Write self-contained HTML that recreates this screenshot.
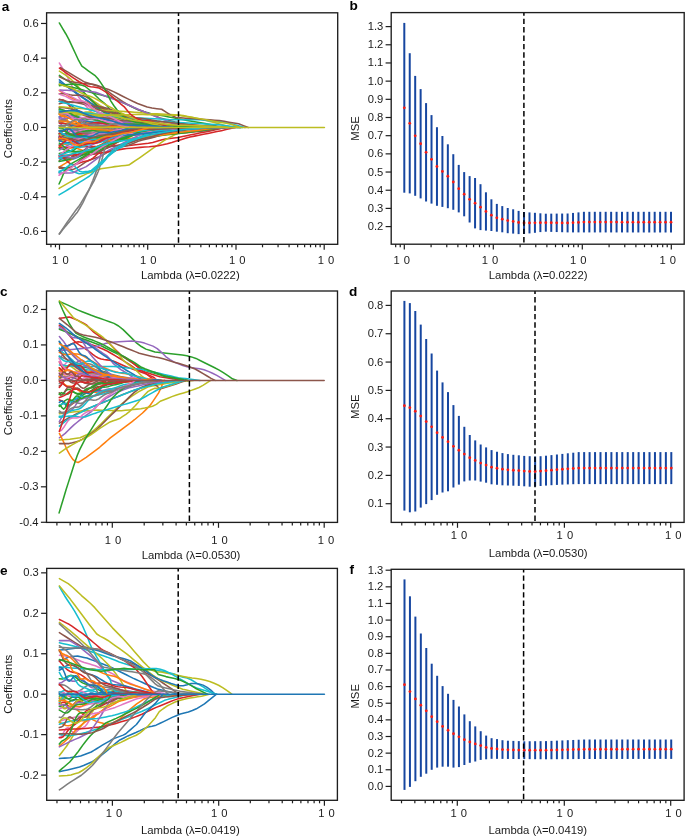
<!DOCTYPE html>
<html><head><meta charset="utf-8"><title>LASSO</title>
<style>
html,body{margin:0;padding:0;background:#fff;width:685px;height:837px;overflow:hidden}
svg{display:block;will-change:transform}
.t{font-family:"Liberation Sans", sans-serif;font-size:11.2px;fill:#1a1a1a}
.t2{font-family:"Liberation Sans", sans-serif;font-size:11.35px;fill:#1a1a1a}
.lt{font-family:"Liberation Sans", sans-serif;font-size:13.6px;font-weight:bold;fill:#000}
text{opacity:0.995}
</style></head><body>
<svg width="685" height="837" viewBox="0 0 685 837">
<defs>
<clipPath id="cla"><rect x="46.6" y="12.8" width="291.1" height="231.5"/></clipPath>
<clipPath id="clb"><rect x="391.2" y="12.6" width="293" height="231.6"/></clipPath>
<clipPath id="clc"><rect x="46.5" y="291" width="291" height="231.4"/></clipPath>
<clipPath id="cld"><rect x="391.2" y="291" width="292.9" height="231.4"/></clipPath>
<clipPath id="cle"><rect x="46.7" y="568.4" width="290.7" height="231.9"/></clipPath>
<clipPath id="clf"><rect x="391.2" y="569.3" width="292.9" height="231"/></clipPath>
</defs>
<rect width="685" height="837" fill="#fff"/>
<g fill="none" stroke-width="1.55" stroke-linejoin="round" stroke-linecap="round" clip-path="url(#cla)">
<path d="M59.3 117.59 L61.43 116.65 L63.55 115.13 L65.68 114.35 L67.8 114.83 L69.93 116.03 L72.06 116.96 L74.18 117.11 L76.31 116.83 L78.43 116.98 L80.56 118.16 L82.69 120.21 L84.81 122.3 L86.94 123.64 L89.06 124.03 L91.19 123.89 L93.32 123.83 L95.44 124.14 L97.57 124.63 L99.69 124.88 L101.82 124.68 L103.95 124.16 L106.07 123.73 L108.2 123.69 L110.32 124.07 L112.45 124.6 L114.58 125.03 L116.7 125.27 L118.83 125.4 L120.95 125.58 L123.08 125.85 L125.21 126.15 L127.33 126.4 L129.46 126.58 L131.58 126.8 L133.71 127.45" stroke="#1f77b4"/>
<path d="M59.3 146.04 L61.88 147.23 L64.47 148.06 L67.05 148.33 L69.64 148.16 L72.22 147.91 L74.8 147.94 L77.39 148.47 L79.97 149.42 L82.56 150.33 L85.14 150.97 L87.73 151.02 L90.31 150.38 L92.89 149.16 L95.48 147.64 L98.06 146.11 L100.65 144.77 L103.23 143.68 L105.81 142.71 L108.4 141.71 L110.98 140.57 L113.57 139.27 L116.15 137.89 L118.73 136.55 L121.32 135.42 L123.9 134.53 L126.49 133.81 L129.07 133.16 L131.65 132.52 L134.24 131.85 L136.82 131.13 L139.41 130.41 L141.99 129.73 L144.58 129.09 L147.16 128.46 L149.74 127.45" stroke="#ff7f0e"/>
<path d="M59.3 121.13 L63.14 120.33 L66.98 118.81 L70.82 117.06 L74.67 115.59 L78.51 114.69 L82.35 114.45 L86.19 114.59 L90.03 114.74 L93.87 114.66 L97.71 114.33 L101.56 113.94 L105.4 113.72 L109.24 113.92 L113.08 114.62 L116.92 115.74 L120.76 117.05 L124.61 118.24 L128.45 119.34 L132.29 120.32 L136.13 121.13 L139.97 121.89 L143.81 122.53 L147.65 123.23 L151.5 123.94 L155.34 124.61 L159.18 125.18 L163.02 125.59 L166.86 125.9 L170.7 126.15 L174.54 126.38 L178.39 126.61 L182.23 126.83 L186.07 127.04 L189.91 127.24 L193.75 127.45" stroke="#2ca02c"/>
<path d="M59.3 133.36 L63.86 133.98 L68.42 134.89 L72.98 134.51 L77.53 132.51 L82.09 130.02 L86.65 128.48 L91.21 128.24 L95.77 128.42 L100.33 128.04 L104.88 127.03 L109.44 126.11 L114 126.01 L118.56 126.68 L123.12 127.49 L127.68 127.85 L132.23 127.78 L136.79 127.68 L141.35 127.86 L145.91 128.24 L150.47 128.52 L155.03 128.49 L159.58 128.25 L164.14 127.99 L168.7 127.88 L173.26 127.88 L177.82 127.87 L182.38 127.78 L186.93 127.66 L191.49 127.59 L196.05 127.59 L200.61 127.62 L205.17 127.62 L209.73 127.58 L214.28 127.53 L218.84 127.45" stroke="#d62728"/>
<path d="M59.3 137.71 L61.25 136.18 L63.2 134.41 L65.14 133.66 L67.09 134.33 L69.04 135.67 L70.99 136.56 L72.94 136.41 L74.89 135.61 L76.83 135.08 L78.78 135.48 L80.73 136.63 L82.68 137.73 L84.63 138.09 L86.57 137.64 L88.52 136.91 L90.47 136.51 L92.42 136.64 L94.37 136.95 L96.32 136.92 L98.26 136.31 L100.21 135.33 L102.16 134.4 L104.11 133.8 L106.06 133.47 L108.01 133.13 L109.95 132.58 L111.9 131.82 L113.85 131.06 L115.8 130.46 L117.75 130.06 L119.69 129.73 L121.64 129.36 L123.59 128.92 L125.54 128.42 L127.49 127.45" stroke="#9467bd"/>
<path d="M59.3 157.03 L63.26 157.27 L67.21 157.74 L71.17 157.29 L75.13 155.71 L79.09 153.73 L83.04 151.98 L87 150.93 L90.96 150.14 L94.92 148.84 L98.87 146.65 L102.83 143.98 L106.79 141.46 L110.74 139.59 L114.7 138.42 L118.66 137.55 L122.62 136.69 L126.57 135.65 L130.53 134.57 L134.49 133.76 L138.45 133.31 L142.4 133.09 L146.36 132.86 L150.32 132.42 L154.28 131.81 L158.23 131.17 L162.19 130.6 L166.15 130.14 L170.1 129.74 L174.06 129.33 L178.02 128.91 L181.98 128.56 L185.93 128.27 L189.89 128.03 L193.85 127.82 L197.81 127.45" stroke="#8c564b"/>
<path d="M59.05 147.52 L63.31 147.36 L67.56 147.21 L71.82 147.06 L76.07 146.9 L80.33 146.77 L84.58 146.68 L88.84 146.6 L93.09 146.51 L97.35 146.43 L101.6 146.34 L105.86 146.29 L110.11 146.23 L114.37 146.17 L118.62 146.12 L122.88 146.06 L127.13 145.61 L131.39 145.15 L135.64 144.69 L139.9 144.23 L144.15 143.77 L148.41 143.31 L152.66 142.4 L156.92 141.23 L161.17 140.06 L165.43 138.95 L169.68 138.46 L173.94 137.97 L178.19 137.46 L182.45 136.58 L186.7 135.71 L190.96 134.83 L195.21 133.96 L199.47 133.11 L203.72 132.26 L207.98 131.4 L212.23 130.47 L216.49 129.46 L220.74 128.46 L225 127.45" stroke="#d62728"/>
<path d="M59.3 134.36 L62.32 135.4 L65.34 134.57 L68.36 132.45 L71.38 130.36 L74.4 129.33 L77.42 129.35 L80.44 129.64 L83.47 129.41 L86.49 128.59 L89.51 127.82 L92.53 127.81 L95.55 128.72 L98.57 130.02 L101.59 130.98 L104.61 131.2 L107.63 130.84 L110.65 130.4 L113.67 130.22 L116.69 130.29 L119.71 130.3 L122.73 130.02 L125.75 129.47 L128.78 128.9 L131.8 128.59 L134.82 128.58 L137.84 128.73 L140.86 128.83 L143.88 128.8 L146.9 128.69 L149.92 128.57 L152.94 128.49 L155.96 128.41 L158.98 128.26 L162 128.01 L165.02 127.45" stroke="#7f7f7f"/>
<path d="M59.3 140.08 L62.55 140.8 L65.81 140.02 L69.06 138.98 L72.32 138.63 L75.57 138.93 L78.83 139.01 L82.08 138.07 L85.34 136.22 L88.59 134.35 L91.85 133.36 L95.1 133.48 L98.36 134.19 L101.61 134.72 L104.87 134.68 L108.12 134.24 L111.38 133.85 L114.63 133.79 L117.89 133.92 L121.14 133.85 L124.4 133.37 L127.65 132.49 L130.91 131.56 L134.16 130.87 L137.42 130.49 L140.67 130.26 L143.93 130.01 L147.18 129.68 L150.44 129.34 L153.69 129.08 L156.95 128.91 L160.2 128.76 L163.46 128.56 L166.71 128.29 L169.97 127.98 L173.22 127.45" stroke="#bcbd22"/>
<path d="M59.3 135.07 L62.73 134.03 L66.17 134.07 L69.6 134.82 L73.04 135.44 L76.47 135.27 L79.9 134.33 L83.34 133.14 L86.77 132.51 L90.21 132.75 L93.64 133.61 L97.07 134.48 L100.51 134.85 L103.94 134.66 L107.38 134.14 L110.81 133.7 L114.25 133.58 L117.68 133.68 L121.11 133.73 L124.55 133.5 L127.98 132.88 L131.42 132.01 L134.85 131.2 L138.28 130.59 L141.72 130.19 L145.15 129.89 L148.59 129.54 L152.02 129.13 L155.45 128.72 L158.89 128.38 L162.32 128.14 L165.76 127.99 L169.19 127.88 L172.62 127.76 L176.06 127.63 L179.49 127.45" stroke="#17becf"/>
<path d="M59.3 133.67 L62.58 135.16 L65.86 136.58 L69.14 137.34 L72.42 137.46 L75.71 137.46 L78.99 137.89 L82.27 138.94 L85.55 140.33 L88.83 141.48 L92.11 141.86 L95.39 141.31 L98.67 140.1 L101.95 138.75 L105.23 137.65 L108.52 136.93 L111.8 136.43 L115.08 135.88 L118.36 135.12 L121.64 134.2 L124.92 133.32 L128.2 132.6 L131.48 132.14 L134.76 131.88 L138.04 131.66 L141.33 131.37 L144.61 130.95 L147.89 130.44 L151.17 129.92 L154.45 129.45 L157.73 129.07 L161.01 128.73 L164.29 128.42 L167.57 128.11 L170.86 127.82 L174.14 127.45" stroke="#1f77b4"/>
<path d="M59.3 139.44 L62.75 137.58 L66.19 136.08 L69.64 135.09 L73.09 134.6 L76.53 134.44 L79.98 134.39 L83.42 134.21 L86.87 133.82 L90.32 133.21 L93.76 132.49 L97.21 131.81 L100.66 131.33 L104.1 131.13 L107.55 131.21 L111 131.5 L114.44 131.87 L117.89 132.19 L121.33 132.37 L124.78 132.38 L128.23 132.21 L131.67 131.92 L135.12 131.58 L138.57 131.26 L142.01 130.98 L145.46 130.76 L148.91 130.57 L152.35 130.37 L155.8 130.14 L159.24 129.88 L162.69 129.58 L166.14 129.25 L169.58 128.92 L173.03 128.59 L176.48 128.22 L179.92 127.45" stroke="#ff7f0e"/>
<path d="M59.3 140.57 L62.6 138.72 L65.9 137.97 L69.2 138.06 L72.5 138.41 L75.8 138.48 L79.1 138.06 L82.39 137.25 L85.69 136.52 L88.99 136.25 L92.29 136.51 L95.59 137.07 L98.89 137.52 L102.19 137.54 L105.49 136.99 L108.79 135.98 L112.09 134.81 L115.39 133.75 L118.69 132.96 L121.99 132.45 L125.28 132.07 L128.58 131.62 L131.88 131.06 L135.18 130.44 L138.48 129.89 L141.78 129.49 L145.08 129.26 L148.38 129.13 L151.68 129.04 L154.98 128.91 L158.28 128.71 L161.58 128.46 L164.88 128.21 L168.17 127.98 L171.47 127.77 L174.77 127.45" stroke="#2ca02c"/>
<path d="M59.3 99.7 L61.66 99.79 L64.02 100.27 L66.38 102.03 L68.75 104.9 L71.11 107.82 L73.47 109.78 L75.83 110.55 L78.19 110.78 L80.55 111.44 L82.92 112.95 L85.28 114.81 L87.64 116.23 L90 116.77 L92.36 116.62 L94.72 116.41 L97.09 116.68 L99.45 117.45 L101.81 118.41 L104.17 119.07 L106.53 119.31 L108.89 119.39 L111.26 119.67 L113.62 120.32 L115.98 121.2 L118.34 122.04 L120.7 122.63 L123.06 122.98 L125.43 123.32 L127.79 123.77 L130.15 124.33 L132.51 124.89 L134.87 125.37 L137.23 125.8 L139.6 126.3 L141.96 127.45" stroke="#d62728"/>
<path d="M59.3 118.87 L62.51 119.24 L65.72 120.43 L68.93 122.03 L72.15 123.5 L75.36 124.41 L78.57 124.65 L81.78 124.49 L84.99 124.35 L88.2 124.61 L91.42 125.38 L94.63 126.5 L97.84 127.65 L101.05 128.52 L104.26 128.97 L107.47 129.02 L110.68 128.87 L113.9 128.75 L117.11 128.8 L120.32 129.02 L123.53 129.26 L126.74 129.4 L129.95 129.27 L133.17 128.93 L136.38 128.5 L139.59 128.08 L142.8 127.77 L146.01 127.57 L149.22 127.44 L152.43 127.35 L155.65 127.26 L158.86 127.17 L162.07 127.09 L165.28 127.07 L168.49 127.14 L171.7 127.45" stroke="#9467bd"/>
<path d="M59.38 63.03 L60.61 65.13 L61.85 67.23 L63.09 69.33 L64.32 71.43 L65.56 73.53 L66.79 75.66 L68.03 78.13 L69.26 80.6 L70.5 83.07 L71.73 85.54 L72.97 88.02 L74.2 90.37 L75.44 92.23 L76.67 94.08 L77.91 95.93 L79.14 97.78 L80.38 99.45 L81.61 100.89 L82.85 102.33 L84.08 103.77 L85.32 105.22 L86.56 106.66 L87.79 108.1 L89.03 109.53 L90.26 110.94 L91.5 112.35 L92.73 113.76 L93.97 115.17 L95.2 116.59 L96.44 118 L97.67 119.41 L98.91 120.78 L100.14 121.73 L101.38 122.69 L102.61 123.64 L103.85 124.59 L105.08 125.54 L106.32 126.5 L107.55 127.45" stroke="#e377c2"/>
<path d="M59.3 130.79 L62.78 130.34 L66.25 129.41 L69.73 128.88 L73.21 129.4 L76.69 130.88 L80.16 132.63 L83.64 133.8 L87.12 134 L90.6 133.46 L94.07 132.76 L97.55 132.41 L101.03 132.51 L104.5 132.76 L107.98 132.73 L111.46 132.19 L114.94 131.27 L118.41 130.32 L121.89 129.67 L125.37 129.41 L128.84 129.4 L132.32 129.4 L135.8 129.25 L139.28 128.97 L142.75 128.7 L146.23 128.53 L149.71 128.5 L153.19 128.55 L156.66 128.57 L160.14 128.5 L163.62 128.36 L167.09 128.18 L170.57 128.02 L174.05 127.88 L177.53 127.73 L181 127.45" stroke="#e377c2"/>
<path d="M59.3 125.75 L61 126.71 L62.7 127.17 L64.4 126.28 L66.1 124.59 L67.8 123.55 L69.5 124.2 L71.2 126.28 L72.9 128.55 L74.6 129.88 L76.3 130.15 L78 130.13 L79.7 130.58 L81.4 131.45 L83.1 132.04 L84.8 131.68 L86.5 130.43 L88.2 129.04 L89.9 128.25 L91.6 128.24 L93.3 128.58 L95 128.72 L96.7 128.53 L98.4 128.25 L100.1 128.24 L101.8 128.51 L103.5 128.8 L105.2 128.8 L106.9 128.44 L108.6 127.95 L110.3 127.57 L112 127.39 L113.7 127.32 L115.4 127.27 L117.1 127.26 L118.8 127.45" stroke="#7f7f7f"/>
<path d="M59.3 122.41 L64.34 123.18 L69.38 123.52 L74.43 123.4 L79.47 122.99 L84.51 122.57 L89.55 122.34 L94.6 122.42 L99.64 122.79 L104.68 123.38 L109.72 124 L114.77 124.5 L119.81 124.79 L124.85 124.79 L129.89 124.65 L134.94 124.49 L139.98 124.41 L145.02 124.39 L150.06 124.53 L155.11 124.8 L160.15 125.15 L165.19 125.44 L170.23 125.71 L175.28 125.95 L180.32 126.12 L185.36 126.25 L190.4 126.39 L195.45 126.55 L200.49 126.71 L205.53 126.89 L210.57 127.04 L215.62 127.16 L220.66 127.26 L225.7 127.33 L230.74 127.38 L235.79 127.45" stroke="#bcbd22"/>
<path d="M59.38 79.82 L62.22 82.25 L65.06 84.68 L67.89 87.12 L70.73 89.37 L73.57 91.36 L76.41 93.34 L79.25 95.33 L82.09 97.32 L84.92 99.3 L87.76 101.29 L90.6 103.28 L93.44 105.27 L96.28 107.25 L99.12 109.17 L101.95 110.59 L104.79 112.01 L107.63 113.43 L110.47 114.85 L113.31 116.27 L116.15 117.35 L118.98 118.41 L121.82 119.47 L124.66 120.54 L127.5 121.17 L130.34 121.72 L133.18 122.27 L136.01 122.83 L138.85 123.38 L141.69 123.94 L144.53 124.49 L147.37 125.04 L150.2 125.36 L153.04 125.66 L155.88 125.96 L158.72 126.26 L161.56 126.56 L164.4 126.85 L167.23 127.15 L170.07 127.45" stroke="#1f77b4"/>
<path d="M59.3 101.26 L63.36 101.9 L67.41 103.15 L71.47 105.71 L75.52 108.91 L79.58 111.45 L83.63 112.87 L87.69 113.37 L91.74 113.97 L95.8 115.34 L99.85 117.2 L103.91 118.95 L107.96 119.89 L112.02 120.17 L116.07 120.43 L120.13 121.13 L124.18 122.01 L128.24 122.89 L132.3 123.4 L136.35 123.58 L140.41 123.72 L144.46 123.98 L148.52 124.48 L152.57 125.02 L156.63 125.42 L160.68 125.64 L164.74 125.75 L168.79 125.93 L172.85 126.19 L176.9 126.46 L180.96 126.65 L185.01 126.76 L189.07 126.86 L193.13 126.98 L197.18 127.14 L201.24 127.45" stroke="#1f77b4"/>
<path d="M59.3 90.56 L64.49 93.58 L69.67 96.95 L74.86 99.53 L80.04 100.91 L85.23 102.05 L90.41 103.4 L95.6 105.48 L100.78 108.12 L105.97 110.85 L111.15 112.89 L116.34 114.21 L121.52 115.11 L126.71 115.91 L131.9 117.12 L137.08 118.55 L142.27 119.73 L147.45 120.47 L152.64 121 L157.82 121.53 L163.01 122.08 L168.19 122.69 L173.38 123.37 L178.56 123.96 L183.75 124.33 L188.94 124.62 L194.12 124.93 L199.31 125.29 L204.49 125.67 L209.68 126.03 L214.86 126.32 L220.05 126.56 L225.23 126.81 L230.42 127.03 L235.6 127.23 L240.79 127.45" stroke="#ff7f0e"/>
<path d="M59.3 148.27 L62.1 148.8 L64.9 150.06 L67.7 151.27 L70.49 151.58 L73.29 150.52 L76.09 148.29 L78.89 145.55 L81.69 143.04 L84.49 141.32 L87.29 140.48 L90.08 140.16 L92.88 139.91 L95.68 139.44 L98.48 138.77 L101.28 138.1 L104.08 137.65 L106.87 137.43 L109.67 137.27 L112.47 136.93 L115.27 136.24 L118.07 135.21 L120.87 134.05 L123.67 133.02 L126.46 132.25 L129.26 131.79 L132.06 131.53 L134.86 131.32 L137.66 131.05 L140.46 130.69 L143.26 130.28 L146.05 129.86 L148.85 129.43 L151.65 128.99 L154.45 128.48 L157.25 127.45" stroke="#2ca02c"/>
<path d="M59.3 137.85 L63.55 137.7 L67.8 137.56 L72.05 137.41 L76.29 137.27 L80.54 137.12 L84.79 136.98 L89.04 136.83 L93.29 136.69 L97.54 136.54 L101.79 136.4 L106.04 136.25 L110.28 136.1 L114.53 135.92 L118.78 135.73 L123.03 135.55 L127.28 135.37 L131.53 135.18 L135.78 135 L140.03 134.81 L144.27 134.63 L148.52 134.45 L152.77 134.3 L157.02 134.16 L161.27 134.03 L165.52 133.9 L169.77 133.77 L174.02 133.64 L178.26 133.49 L182.51 133.08 L186.76 132.67 L191.01 132.26 L195.26 131.85 L199.51 131.44 L203.76 131.04 L208.01 130.4 L212.25 129.66 L216.5 128.92 L220.75 128.19 L225 127.45" stroke="#8c564b"/>
<path d="M59.3 122.26 L61.48 124.86 L63.67 126.56 L65.85 127.51 L68.04 128.21 L70.22 129.2 L72.41 130.74 L74.59 132.7 L76.78 134.63 L78.96 136.04 L81.15 136.62 L83.33 136.43 L85.52 135.81 L87.7 135.18 L89.89 134.83 L92.07 134.76 L94.25 134.79 L96.44 134.65 L98.62 134.16 L100.81 133.34 L102.99 132.37 L105.18 131.47 L107.36 130.8 L109.55 130.39 L111.73 130.15 L113.92 129.94 L116.1 129.64 L118.29 129.22 L120.47 128.76 L122.65 128.34 L124.84 128.01 L127.02 127.79 L129.21 127.64 L131.39 127.51 L133.58 127.4 L135.76 127.45" stroke="#9467bd"/>
<path d="M59.3 160.43 L61.36 159.06 L63.43 158.12 L65.49 158.37 L67.56 159.14 L69.62 159.04 L71.68 157.4 L73.75 154.84 L75.81 152.7 L77.87 151.75 L79.94 151.63 L82 151.26 L84.07 150.12 L86.13 148.55 L88.19 147.39 L90.26 147.14 L92.32 147.49 L94.38 147.69 L96.45 147.22 L98.51 146.25 L100.58 145.29 L102.64 144.72 L104.7 144.37 L106.77 143.83 L108.83 142.84 L110.9 141.53 L112.96 140.23 L115.02 139.18 L117.09 138.3 L119.15 137.39 L121.21 136.34 L123.28 135.18 L125.34 133.99 L127.41 132.74 L129.47 131.2 L131.53 127.45" stroke="#8c564b"/>
<path d="M59.3 130.75 L64.37 131.28 L69.44 131.63 L74.51 131.54 L79.58 130.89 L84.65 129.69 L89.71 128.19 L94.78 126.63 L99.85 125.28 L104.92 124.27 L109.99 123.67 L115.06 123.44 L120.13 123.48 L125.2 123.62 L130.27 123.88 L135.34 124.18 L140.41 124.45 L145.47 124.63 L150.54 124.85 L155.61 125.14 L160.68 125.49 L165.75 125.8 L170.82 126.14 L175.89 126.46 L180.96 126.73 L186.03 126.93 L191.1 127.07 L196.17 127.18 L201.23 127.24 L206.3 127.29 L211.37 127.33 L216.44 127.37 L221.51 127.41 L226.58 127.43 L231.65 127.45 L236.72 127.45" stroke="#e377c2"/>
<path d="M59.38 82.01 L61.99 83.6 L64.61 85.2 L67.22 86.8 L69.83 88.4 L72.45 89.99 L75.06 91.82 L77.68 93.65 L80.29 95.48 L82.9 97.31 L85.52 99.14 L88.13 100.96 L90.74 102.79 L93.36 104.62 L95.97 106.45 L98.59 108.28 L101.2 110.11 L103.81 111.52 L106.43 112.83 L109.04 114.14 L111.65 115.44 L114.27 116.75 L116.88 117.93 L119.49 118.66 L122.11 119.39 L124.72 120.12 L127.34 120.85 L129.95 121.59 L132.56 122.32 L135.18 123.05 L137.79 123.78 L140.4 124.3 L143.02 124.7 L145.63 125.09 L148.25 125.48 L150.86 125.88 L153.47 126.27 L156.09 126.66 L158.7 127.06 L161.31 127.45" stroke="#1f77b4"/>
<path d="M59.05 188.39 L62.54 186.41 L66.02 184.43 L69.51 182.45 L72.99 180.55 L76.48 178.8 L79.97 177.06 L83.45 175.32 L86.94 173.64 L90.42 172.42 L93.91 171.2 L97.4 169.98 L100.88 168.76 L104.37 168.2 L107.85 167.67 L111.34 167.15 L114.83 166.63 L118.31 166.21 L121.8 165.82 L125.28 165.43 L128.77 165.04 L132.25 162.76 L135.74 160.43 L139.23 158.04 L142.71 155.58 L146.2 153.12 L149.68 150.66 L153.17 148.23 L156.66 145.81 L160.14 143.38 L163.63 140.96 L167.11 138.87 L170.6 137.01 L174.08 135.15 L177.57 133.3 L181.06 131.68 L184.54 130.62 L188.03 129.56 L191.51 128.51 L195 127.45" stroke="#bcbd22"/>
<path d="M59.3 158.18 L63.86 159.26 L68.42 159.76 L72.98 159.2 L77.53 157.6 L82.09 155.22 L86.65 152.64 L91.21 150.41 L95.77 148.66 L100.33 147.27 L104.88 146.03 L109.44 144.67 L114 143.16 L118.56 141.64 L123.12 140.41 L127.68 139.56 L132.24 139.07 L136.79 138.77 L141.35 138.47 L145.91 138.06 L150.47 137.43 L155.03 136.6 L159.59 135.69 L164.15 134.76 L168.7 133.9 L173.26 133.14 L177.82 132.43 L182.38 131.88 L186.94 131.34 L191.5 130.79 L196.05 130.26 L200.61 129.75 L205.17 129.25 L209.73 128.77 L214.29 128.26 L218.85 127.45" stroke="#17becf"/>
<path d="M59.3 116.4 L63.34 116.33 L67.37 115.98 L71.41 115.93 L75.45 116.4 L79.49 117.19 L83.52 117.91 L87.56 118.12 L91.6 117.75 L95.64 117.05 L99.67 116.48 L103.71 116.44 L107.75 117.02 L111.79 118.09 L115.82 119.33 L119.86 120.44 L123.9 121.18 L127.94 121.69 L131.97 122.11 L136.01 122.59 L140.05 123.18 L144.09 123.74 L148.12 124.27 L152.16 124.67 L156.2 124.92 L160.23 125.06 L164.27 125.12 L168.31 125.23 L172.35 125.42 L176.38 125.66 L180.42 125.91 L184.46 126.16 L188.5 126.39 L192.53 126.63 L196.57 126.9 L200.61 127.45" stroke="#1f77b4"/>
<path d="M59.05 167.23 L61.55 165.67 L64.04 164.11 L66.53 162.55 L69.03 160.99 L71.52 159.43 L74.01 158.14 L76.51 156.89 L79 155.64 L81.5 154.4 L83.99 153.15 L86.48 151.9 L88.98 150.66 L91.47 149.41 L93.97 148.16 L96.46 146.92 L98.95 145.8 L101.45 144.97 L103.94 144.14 L106.44 143.3 L108.93 142.47 L111.42 141.63 L113.92 140.61 L116.41 139.58 L118.91 138.56 L121.4 137.53 L123.89 136.51 L126.39 135.48 L128.88 134.46 L131.37 133.43 L133.87 132.42 L136.36 131.87 L138.86 131.31 L141.35 130.76 L143.84 130.21 L146.34 129.66 L148.83 129.11 L151.33 128.55 L153.82 128 L156.31 127.45" stroke="#ff7f0e"/>
<path d="M59.3 153.57 L63.81 152.52 L68.32 151.85 L72.83 151.54 L77.35 151.39 L81.86 151.1 L86.37 150.38 L90.88 149.21 L95.39 147.64 L99.9 145.84 L104.41 144.1 L108.92 142.57 L113.44 141.38 L117.95 140.53 L122.46 139.98 L126.97 139.59 L131.48 139.23 L135.99 138.77 L140.5 138.21 L145.01 137.6 L149.53 136.97 L154.04 136.38 L158.55 135.85 L163.06 135.33 L167.57 134.82 L172.08 134.3 L176.59 133.74 L181.1 133.2 L185.62 132.63 L190.13 132.03 L194.64 131.41 L199.15 130.78 L203.66 130.14 L208.17 129.48 L212.68 128.76 L217.19 127.45" stroke="#2ca02c"/>
<path d="M59.3 123.24 L62.28 123.09 L65.27 123.84 L68.25 124.79 L71.23 125.16 L74.22 124.69 L77.2 123.73 L80.18 123 L83.17 123.13 L86.15 124.12 L89.13 125.54 L92.12 126.75 L95.1 127.36 L98.08 127.44 L101.07 127.35 L104.05 127.47 L107.03 127.93 L110.02 128.57 L113 129.05 L115.98 129.13 L118.97 128.82 L121.95 128.31 L124.93 127.86 L127.92 127.61 L130.9 127.53 L133.88 127.51 L136.87 127.43 L139.85 127.26 L142.83 127.06 L145.82 126.93 L148.8 126.91 L151.78 126.98 L154.77 127.08 L157.75 127.17 L160.73 127.26 L163.72 127.45" stroke="#d62728"/>
<path d="M59.3 130.81 L60.9 131.69 L62.5 131.46 L64.1 130.32 L65.7 129.08 L67.3 128.58 L68.9 129.07 L70.5 130.06 L72.1 130.77 L73.69 130.62 L75.29 129.66 L76.89 128.48 L78.49 127.73 L80.09 127.67 L81.69 128.06 L83.29 128.35 L84.89 128.15 L86.49 127.45 L88.09 126.6 L89.69 126.04 L91.29 125.99 L92.89 126.31 L94.49 126.67 L96.09 126.81 L97.69 126.7 L99.29 126.5 L100.89 126.45 L102.48 126.65 L104.08 127.02 L105.68 127.39 L107.28 127.62 L108.88 127.7 L110.48 127.72 L112.08 127.73 L113.68 127.72 L115.28 127.45" stroke="#9467bd"/>
<path d="M59.3 168.14 L63.68 168.56 L68.05 169.54 L72.43 169.64 L76.8 168.05 L81.18 165.16 L85.55 162.04 L89.93 159.93 L94.3 158.56 L98.68 157.03 L103.05 154.9 L107.43 152.3 L111.8 149.89 L116.18 148.18 L120.55 147.08 L124.93 146.29 L129.3 144.96 L133.68 143.17 L138.05 141.37 L142.43 139.98 L146.8 138.93 L151.18 137.88 L155.55 136.64 L159.93 135.26 L164.3 133.96 L168.68 132.83 L173.05 131.9 L177.43 131.07 L181.8 130.4 L186.18 129.74 L190.55 129.14 L194.93 128.65 L199.31 128.28 L203.68 127.98 L208.06 127.72 L212.43 127.45" stroke="#8c564b"/>
<path d="M59.38 71.06 L62.11 72.88 L64.83 74.73 L67.56 76.64 L70.28 78.55 L73.01 81.2 L75.74 84.15 L78.46 87.11 L81.19 89.95 L83.91 92.67 L86.64 95.4 L89.37 97.9 L92.09 99.85 L94.82 101.79 L97.54 103.74 L100.27 105.56 L103 107.26 L105.72 108.96 L108.45 110.67 L111.17 112.33 L113.9 113.89 L116.63 115.45 L119.35 117.01 L122.08 118.16 L124.8 118.92 L127.53 119.68 L130.26 120.45 L132.98 121.21 L135.71 121.97 L138.43 122.73 L141.16 123.49 L143.89 124.17 L146.61 124.58 L149.34 124.99 L152.06 125.4 L154.79 125.81 L157.52 126.22 L160.24 126.63 L162.97 127.04 L165.69 127.45" stroke="#bcbd22"/>
<path d="M59.3 140.93 L63.66 138 L68.02 135.69 L72.39 134.16 L76.75 133.27 L81.11 132.7 L85.47 132.06 L89.83 131.22 L94.2 130.15 L98.56 128.99 L102.92 127.97 L107.28 127.28 L111.64 127.01 L116.01 127.1 L120.37 127.42 L124.73 127.8 L129.09 128.12 L133.45 128.26 L137.81 128.23 L142.18 128.11 L146.54 127.97 L150.9 127.9 L155.26 127.9 L159.62 127.96 L163.99 127.98 L168.35 127.98 L172.71 127.93 L177.07 127.84 L181.43 127.75 L185.8 127.66 L190.16 127.59 L194.52 127.56 L198.88 127.55 L203.24 127.53 L207.61 127.51 L211.97 127.45" stroke="#7f7f7f"/>
<path d="M59.3 144.78 L63.42 144.43 L67.54 144.07 L71.66 143.72 L75.78 143.37 L79.9 143.02 L84.02 142.66 L88.14 142.31 L92.26 141.96 L96.38 141.6 L100.51 141.25 L104.63 140.9 L108.75 140.54 L112.87 140.19 L116.99 139.84 L121.11 139.46 L125.23 139.01 L129.35 138.57 L133.47 138.12 L137.59 137.68 L141.71 137.23 L145.83 136.78 L149.95 136.34 L154.07 135.89 L158.19 135.44 L162.31 134.91 L166.43 134.32 L170.55 133.72 L174.67 133.13 L178.79 132.56 L182.92 132.07 L187.04 131.58 L191.16 131.09 L195.28 130.61 L199.4 130.12 L203.52 129.59 L207.64 129.06 L211.76 128.52 L215.88 127.99 L220 127.45" stroke="#ff7f0e"/>
<path d="M59.3 127.99 L62.42 127.42 L65.54 127.85 L68.67 128.78 L71.79 129.2 L74.91 128.37 L78.03 126.37 L81.16 123.99 L84.28 122.22 L87.4 121.5 L90.52 121.61 L93.64 121.91 L96.77 121.94 L99.89 121.7 L103.01 121.54 L106.13 121.88 L109.25 122.76 L112.38 123.88 L115.5 124.79 L118.62 125.22 L121.74 125.23 L124.87 125.07 L127.99 125.07 L131.11 125.3 L134.23 125.64 L137.35 125.93 L140.48 126.1 L143.6 126.18 L146.72 126.3 L149.84 126.52 L152.97 126.82 L156.09 127.1 L159.21 127.3 L162.33 127.41 L165.45 127.45 L168.58 127.45" stroke="#17becf"/>
<path d="M59.3 136.76 L61.07 136.51 L62.84 136.41 L64.62 135.17 L66.39 132.48 L68.16 129.25 L69.93 126.74 L71.71 125.56 L73.48 125.22 L75.25 124.71 L77.02 123.46 L78.8 121.82 L80.57 120.68 L82.34 120.66 L84.11 121.56 L85.89 122.62 L87.66 123.19 L89.43 123.25 L91.2 123.26 L92.98 123.71 L94.75 124.65 L96.52 125.68 L98.29 126.36 L100.07 126.55 L101.84 126.51 L103.61 126.6 L105.38 126.95 L107.16 127.44 L108.93 127.81 L110.7 127.98 L112.47 128.02 L114.25 128.09 L116.02 128.22 L117.79 128.33 L119.56 128.25 L121.33 127.45" stroke="#1f77b4"/>
<path d="M59.05 171.17 L61.92 170.57 L64.79 169.98 L67.66 169.47 L70.52 170.54 L73.39 171.62 L76.26 172.69 L79.13 173.77 L82 173.4 L84.87 172.99 L87.73 172.58 L90.6 171.59 L93.47 169.8 L96.34 168.01 L99.21 166.22 L102.07 163.86 L104.94 160.42 L107.81 156.98 L110.68 154.45 L113.55 152.15 L116.42 150.03 L119.28 148.39 L122.15 146.75 L125.02 145.11 L127.89 143.62 L130.76 142.2 L133.63 140.78 L136.49 139.36 L139.36 137.94 L142.23 136.51 L145.1 135.09 L147.97 133.67 L150.83 132.81 L153.7 132.04 L156.57 131.28 L159.44 130.51 L162.31 129.75 L165.18 128.98 L168.04 128.22 L170.91 127.45" stroke="#17becf"/>
<path d="M59.3 128.07 L61.91 128.04 L64.52 129.87 L67.14 132.3 L69.75 133.87 L72.36 134.35 L74.97 134.83 L77.58 136.4 L80.2 138.93 L82.81 141.15 L85.42 141.99 L88.03 141.46 L90.64 140.48 L93.26 139.93 L95.87 139.83 L98.48 139.51 L101.09 138.5 L103.7 137 L106.31 135.69 L108.93 135.02 L111.54 134.88 L114.15 134.74 L116.76 134.22 L119.37 133.43 L121.99 132.72 L124.6 132.26 L127.21 131.89 L129.82 131.34 L132.43 130.58 L135.05 129.74 L137.66 129.03 L140.27 128.53 L142.88 128.17 L145.49 127.87 L148.11 127.62 L150.72 127.45" stroke="#2ca02c"/>
<path d="M59.3 156.44 L61.68 156.97 L64.07 158.46 L66.45 160.58 L68.83 162.69 L71.21 164.18 L73.6 164.71 L75.98 164.36 L78.36 163.53 L80.74 162.62 L83.13 161.86 L85.51 161.32 L87.89 160.75 L90.27 159.82 L92.66 158.34 L95.04 156.38 L97.42 154.2 L99.8 152.12 L102.19 150.42 L104.57 149.09 L106.95 147.98 L109.33 146.89 L111.72 145.67 L114.1 144.27 L116.48 142.77 L118.86 141.3 L121.25 139.98 L123.63 138.82 L126.01 137.73 L128.39 136.6 L130.78 135.39 L133.16 134.11 L135.54 132.79 L137.92 131.46 L140.31 130.05 L142.69 127.45" stroke="#d62728"/>
<path d="M59.3 140.55 L60.99 140.12 L62.67 138.6 L64.36 137.35 L66.04 137.46 L67.73 138.8 L69.41 140.13 L71.1 140.34 L72.78 139.36 L74.47 138.15 L76.15 137.68 L77.84 138.07 L79.52 138.55 L81.21 138.21 L82.89 136.95 L84.58 135.43 L86.26 134.42 L87.95 134.16 L89.63 134.18 L91.32 133.89 L93 133.09 L94.69 132.15 L96.37 131.57 L98.06 131.51 L99.74 131.71 L101.43 131.78 L103.11 131.55 L104.8 131.17 L106.48 130.88 L108.17 130.79 L109.85 130.74 L111.54 130.55 L113.22 130.15 L114.91 129.61 L116.6 128.94 L118.28 127.45" stroke="#9467bd"/>
<path d="M59.3 93.69 L61.99 93.56 L64.68 93.82 L67.37 94.33 L70.06 94.85 L72.75 95.17 L75.44 95.23 L78.13 95.13 L80.82 95.17 L83.51 95.74 L86.2 96.85 L88.89 98.53 L91.58 100.64 L94.27 102.9 L96.96 105.03 L99.65 106.82 L102.34 108.25 L105.03 109.31 L107.73 110.14 L110.42 110.92 L113.11 111.77 L115.8 112.78 L118.49 113.92 L121.18 115.05 L123.87 116.1 L126.56 117.1 L129.25 118.08 L131.94 119.02 L134.63 119.97 L137.32 120.93 L140.01 121.92 L142.7 122.83 L145.39 123.73 L148.08 124.62 L150.77 125.58 L153.46 127.45" stroke="#8c564b"/>
<path d="M59.38 85.66 L62.22 85.25 L65.06 84.85 L67.89 84.44 L70.73 84.2 L73.57 84.2 L76.41 84.2 L79.25 84.67 L82.09 85.23 L84.92 86.24 L87.76 88.51 L90.6 90.78 L93.44 93.44 L96.28 96.28 L99.12 99.05 L101.95 101.32 L104.79 103.59 L107.63 106.48 L110.47 109.88 L113.31 113.29 L116.15 116.15 L118.98 118.98 L121.82 121.17 L124.66 123.3 L127.5 123.88 L130.34 124.2 L133.18 124.51 L136.01 124.83 L138.85 125.14 L141.69 125.46 L144.53 125.77 L147.37 126.08 L150.2 126.26 L153.04 126.43 L155.88 126.6 L158.72 126.77 L161.56 126.94 L164.4 127.11 L167.23 127.28 L170.07 127.45" stroke="#2ca02c"/>
<path d="M59.3 233.99 L60.64 231.98 L61.98 229.97 L63.32 227.96 L64.66 225.95 L66.01 223.94 L67.35 222.01 L68.69 220.12 L70.03 218.23 L71.37 216.34 L72.71 214.45 L74.05 212.6 L75.39 210.83 L76.73 209.06 L78.07 207.28 L79.42 205.51 L80.76 203.47 L82.1 201.17 L83.44 198.86 L84.78 196.56 L86.12 194.3 L87.46 192.05 L88.8 189.8 L90.14 187.02 L91.48 183.82 L92.83 180.62 L94.17 176.96 L95.51 173.24 L96.85 169.31 L98.19 164.47 L99.53 159.59 L100.87 154.31 L102.21 149.04 L103.55 144.33 L104.89 139.66 L106.24 136.12 L107.58 132.92 L108.92 129.89 L110.26 128.67 L111.6 127.45" stroke="#7f7f7f"/>
<path d="M59.3 111.71 L63.71 111.55 L68.11 112.64 L72.52 113.87 L76.93 114.03 L81.33 113.07 L85.74 112.12 L90.15 112.14 L94.55 113.36 L98.96 115.04 L103.37 116.36 L107.77 117.02 L112.18 117.5 L116.59 118.41 L120.99 119.87 L125.4 121.36 L129.81 122.54 L134.21 123.19 L138.62 123.55 L143.03 123.91 L147.43 124.44 L151.84 125.03 L156.25 125.47 L160.65 125.67 L165.06 125.69 L169.47 125.76 L173.87 125.95 L178.28 126.21 L182.69 126.4 L187.09 126.54 L191.5 126.64 L195.91 126.77 L200.31 126.93 L204.72 127.1 L209.13 127.25 L213.53 127.45" stroke="#bcbd22"/>
<path d="M59.05 173.07 L61.77 173.07 L64.49 173.07 L67.21 173.07 L69.93 173.07 L72.64 172.73 L75.36 171.51 L78.08 170.28 L80.8 169.06 L83.52 167.84 L86.24 166.61 L88.95 164.65 L91.67 162.61 L94.39 160.57 L97.11 158.54 L99.83 156.56 L102.55 154.61 L105.27 152.67 L107.98 150.73 L110.7 149.28 L113.42 147.92 L116.14 146.57 L118.86 145.21 L121.58 143.85 L124.3 142.51 L127.01 141.16 L129.73 139.81 L132.45 138.47 L135.17 137.12 L137.89 135.77 L140.61 134.43 L143.32 133.25 L146.04 132.53 L148.76 131.8 L151.48 131.08 L154.2 130.35 L156.92 129.63 L159.64 128.9 L162.35 128.18 L165.07 127.45" stroke="#9467bd"/>
<path d="M59.3 140.76 L63.47 142.13 L67.65 142.51 L71.82 142.05 L76 141.33 L80.17 140.94 L84.35 140.98 L88.52 141.35 L92.7 141.54 L96.87 141.13 L101.05 140.02 L105.22 138.5 L109.4 136.95 L113.57 135.72 L117.75 134.93 L121.92 134.47 L126.1 134.09 L130.27 133.52 L134.45 132.77 L138.62 131.97 L142.8 131.33 L146.97 130.91 L151.15 130.67 L155.32 130.52 L159.5 130.34 L163.67 130.08 L167.85 129.73 L172.02 129.36 L176.2 129.02 L180.37 128.76 L184.55 128.56 L188.72 128.36 L192.9 128.16 L197.07 127.94 L201.25 127.73 L205.42 127.45" stroke="#1f77b4"/>
<path d="M59.3 110.29 L63.52 111.11 L67.75 112.26 L71.97 114.07 L76.2 116.44 L80.42 118.92 L84.65 121.08 L88.87 122.39 L93.1 122.86 L97.32 122.82 L101.55 122.76 L105.77 123.02 L110 123.6 L114.22 124.37 L118.45 125.06 L122.67 125.43 L126.9 125.49 L131.12 125.38 L135.35 125.33 L139.57 125.48 L143.79 125.75 L148.02 126.15 L152.24 126.55 L156.47 126.86 L160.69 127.03 L164.92 127.08 L169.14 127.09 L173.37 127.11 L177.59 127.17 L181.82 127.22 L186.04 127.27 L190.27 127.3 L194.49 127.3 L198.72 127.3 L202.94 127.33 L207.17 127.45" stroke="#ff7f0e"/>
<path d="M59.3 84.14 L63.86 85.47 L68.43 86.48 L72.99 87.42 L77.55 88.44 L82.12 89.72 L86.68 91.2 L91.25 92.58 L95.81 93.79 L100.37 94.85 L104.94 96 L109.5 97.27 L114.06 98.84 L118.63 100.78 L123.19 102.79 L127.76 104.92 L132.32 107.16 L136.88 109.25 L141.45 111.02 L146.01 112.32 L150.57 113.42 L155.14 114.39 L159.7 115.34 L164.27 116.1 L168.83 116.92 L173.39 117.82 L177.96 118.78 L182.52 119.59 L187.08 120.41 L191.65 121.22 L196.21 122.01 L200.78 122.8 L205.34 123.62 L209.9 124.48 L214.47 125.47 L219.03 127.45" stroke="#2ca02c"/>
<path d="M59.05 155.55 L63.56 155.36 L68.07 155.17 L72.59 154.98 L77.1 154.79 L81.61 154.6 L86.12 154.41 L90.63 154.22 L95.14 153.89 L99.65 153.21 L104.17 152.53 L108.68 151.84 L113.19 150.94 L117.7 150.04 L122.21 149.13 L126.72 148.6 L131.24 148.15 L135.75 147.7 L140.26 147.36 L144.77 147.1 L149.28 146.83 L153.79 146.3 L158.3 145.72 L162.82 144.8 L167.33 143.67 L171.84 142.43 L176.35 141.02 L180.86 139.67 L185.37 138.35 L189.88 137.03 L194.4 136.12 L198.91 135.22 L203.42 134.32 L207.93 133.41 L212.44 132.51 L216.95 131.61 L221.47 130.65 L225.98 129.59 L230.49 128.52 L235 127.45" stroke="#d62728"/>
<path d="M59.3 150.1 L63.18 147.76 L67.07 145.62 L70.95 144.01 L74.83 143.03 L78.72 142.54 L82.6 142.17 L86.49 141.69 L90.37 141.02 L94.25 140.16 L98.14 139.25 L102.02 138.48 L105.9 137.98 L109.79 137.73 L113.67 137.63 L117.56 137.52 L121.44 137.29 L125.32 136.86 L129.21 136.12 L133.09 135.17 L136.97 134.15 L140.86 133.2 L144.74 132.44 L148.63 131.82 L152.51 131.34 L156.39 130.93 L160.28 130.56 L164.16 130.17 L168.04 129.77 L171.93 129.39 L175.81 129.03 L179.7 128.73 L183.58 128.48 L187.46 128.23 L191.35 127.96 L195.23 127.45" stroke="#9467bd"/>
<path d="M59.3 166.95 L62.84 167.51 L66.38 167.91 L69.92 167.39 L73.47 165.67 L77.01 163.05 L80.55 160.2 L84.09 157.65 L87.63 155.87 L91.17 154.65 L94.71 153.55 L98.25 152.19 L101.8 150.52 L105.34 148.79 L108.88 147.27 L112.42 146.21 L115.96 145.56 L119.5 145.08 L123.04 144.62 L126.59 143.86 L130.13 142.77 L133.67 141.54 L137.21 140.34 L140.75 139.29 L144.29 138.41 L147.83 137.55 L151.37 136.63 L154.92 135.65 L158.46 134.64 L162 133.66 L165.54 132.74 L169.08 131.9 L172.62 131.09 L176.16 130.25 L179.7 129.32 L183.25 127.45" stroke="#8c564b"/>
<path d="M59.3 107.87 L62.27 111.18 L65.25 114.98 L68.22 117.61 L71.2 118.5 L74.17 118.58 L77.14 119.23 L80.12 120.91 L83.09 122.9 L86.07 123.95 L89.04 123.77 L92.02 123.14 L94.99 123.03 L97.96 123.7 L100.94 124.63 L103.91 125.11 L106.89 124.95 L109.86 124.63 L112.83 124.73 L115.81 125.35 L118.78 126.09 L121.76 126.47 L124.73 126.45 L127.7 126.33 L130.68 126.4 L133.65 126.7 L136.63 127 L139.6 127.11 L142.57 127.02 L145.55 126.91 L148.52 126.89 L151.5 126.95 L154.47 127.02 L157.45 127.06 L160.42 127.12 L163.39 127.45" stroke="#e377c2"/>
<path d="M59.3 120.9 L62.06 119.91 L64.82 119.8 L67.57 121.05 L70.33 123.01 L73.09 124.54 L75.85 125.01 L78.6 124.72 L81.36 124.61 L84.12 125.39 L86.88 126.96 L89.64 128.58 L92.39 129.54 L95.15 129.69 L97.91 129.47 L100.67 129.5 L103.42 130.03 L106.18 130.76 L108.94 131.22 L111.7 131.14 L114.45 130.63 L117.21 130.06 L119.97 129.72 L122.73 129.62 L125.49 129.55 L128.24 129.27 L131 128.79 L133.76 128.26 L136.52 127.87 L139.27 127.66 L142.03 127.56 L144.79 127.47 L147.55 127.37 L150.31 127.28 L153.06 127.28 L155.82 127.45" stroke="#7f7f7f"/>
<path d="M59.3 109.62 L63 111.32 L66.7 113.31 L70.4 115.26 L74.1 116.85 L77.81 117.84 L81.51 118.22 L85.21 118.08 L88.91 117.55 L92.61 116.9 L96.31 116.41 L100.01 116.25 L103.71 116.6 L107.42 117.33 L111.12 118.36 L114.82 119.53 L118.52 120.7 L122.22 121.67 L125.92 122.45 L129.62 123.09 L133.32 123.61 L137.02 124.07 L140.73 124.48 L144.43 124.8 L148.13 125.13 L151.83 125.44 L155.53 125.72 L159.23 125.97 L162.93 126.14 L166.63 126.28 L170.34 126.43 L174.04 126.58 L177.74 126.75 L181.44 126.91 L185.14 127.11 L188.84 127.45" stroke="#bcbd22"/>
<path d="M59.3 144.69 L63.4 143.19 L67.51 143.41 L71.61 145.13 L75.72 146.92 L79.82 147.43 L83.92 146.31 L88.03 144.66 L92.13 143.49 L96.24 142.93 L100.34 142.34 L104.45 141.13 L108.55 139.23 L112.65 137.3 L116.76 136.04 L120.86 135.56 L124.97 135.51 L129.07 135.26 L133.17 134.65 L137.28 133.94 L141.38 133.43 L145.49 133.19 L149.59 132.97 L153.7 132.55 L157.8 131.9 L161.9 131.19 L166.01 130.56 L170.11 130.08 L174.22 129.69 L178.32 129.32 L182.42 128.98 L186.53 128.65 L190.63 128.38 L194.74 128.14 L198.84 127.9 L202.95 127.45" stroke="#17becf"/>
<path d="M59.3 114.03 L64.47 114.25 L69.65 115.28 L74.82 116.94 L79.99 118.85 L85.17 120.69 L90.34 122.08 L95.51 122.92 L100.69 123.3 L105.86 123.49 L111.04 123.61 L116.21 123.83 L121.38 124.16 L126.56 124.54 L131.73 124.83 L136.9 125.04 L142.08 125.11 L147.25 125.04 L152.42 124.92 L157.6 124.82 L162.77 124.78 L167.94 124.83 L173.12 124.99 L178.29 125.22 L183.46 125.44 L188.64 125.66 L193.81 125.84 L198.98 125.99 L204.16 126.12 L209.33 126.25 L214.51 126.39 L219.68 126.54 L224.85 126.73 L230.03 126.92 L235.2 127.13 L240.37 127.45" stroke="#1f77b4"/>
<path d="M59.3 114.35 L60.96 115.95 L62.62 116.38 L64.28 116.98 L65.94 118.54 L67.6 120.69 L69.26 122.37 L70.92 122.79 L72.58 122.17 L74.24 121.48 L75.9 121.64 L77.56 122.77 L79.22 124.21 L80.88 125.16 L82.54 125.38 L84.2 125.28 L85.86 125.53 L87.52 126.41 L89.18 127.58 L90.84 128.45 L92.5 128.64 L94.16 128.3 L95.82 127.88 L97.48 127.69 L99.14 127.74 L100.8 127.75 L102.46 127.5 L104.12 127 L105.78 126.47 L107.44 126.14 L109.1 126.07 L110.76 126.14 L112.42 126.23 L114.08 126.34 L115.74 126.59 L117.4 127.45" stroke="#ff7f0e"/>
<path d="M59.3 143.12 L62.31 145.3 L65.33 147.77 L68.34 149.94 L71.36 151.37 L74.37 151.97 L77.38 152 L80.4 151.83 L83.41 151.68 L86.43 151.81 L89.44 152.07 L92.45 152.15 L95.47 151.77 L98.48 150.78 L101.5 149.31 L104.51 147.61 L107.52 145.89 L110.54 144.38 L113.55 143.11 L116.57 142 L119.58 140.91 L122.59 139.82 L125.61 138.61 L128.62 137.27 L131.64 135.94 L134.65 134.76 L137.66 133.76 L140.68 132.94 L143.69 132.25 L146.7 131.58 L149.72 130.91 L152.73 130.22 L155.75 129.56 L158.76 128.94 L161.77 128.35 L164.79 127.45" stroke="#2ca02c"/>
<path d="M59.05 184.01 L61.77 177.95 L64.49 171.15 L67.21 167.4 L69.93 164.5 L72.64 162.94 L75.36 161.39 L78.08 159.84 L80.8 158.24 L83.52 156.6 L86.24 154.97 L88.95 153.34 L91.67 151.71 L94.39 150.14 L97.11 148.78 L99.83 147.42 L102.55 146.06 L105.27 144.7 L107.98 143.34 L110.7 142.27 L113.42 141.25 L116.14 140.23 L118.86 139.21 L121.58 138.27 L124.3 137.38 L127.01 136.49 L129.73 135.6 L132.45 134.72 L135.17 133.83 L137.89 132.94 L140.61 132.05 L143.32 131.28 L146.04 130.8 L148.76 130.32 L151.48 129.84 L154.2 129.36 L156.92 128.88 L159.64 128.41 L162.35 127.93 L165.07 127.45" stroke="#2ca02c"/>
<path d="M59.38 75.44 L62.07 77.32 L64.76 79.2 L67.45 80.93 L70.13 82.27 L72.82 83.62 L75.51 85.51 L78.2 87.82 L80.89 90.12 L83.58 92.42 L86.27 95.02 L88.95 97.71 L91.64 100.4 L94.33 103.09 L97.02 105.78 L99.71 108.47 L102.4 111.04 L105.09 113.28 L107.77 115.52 L110.46 117.76 L113.15 119.56 L115.84 121.35 L118.53 123.14 L121.22 123.83 L123.91 124.13 L126.59 124.43 L129.28 124.73 L131.97 125.02 L134.66 125.32 L137.35 125.62 L140.04 125.92 L142.73 126.17 L145.41 126.33 L148.1 126.49 L150.79 126.65 L153.48 126.81 L156.17 126.97 L158.86 127.13 L161.55 127.29 L164.23 127.45" stroke="#2ca02c"/>
<path d="M59.3 103.73 L63.03 102.69 L66.75 102.04 L70.48 101.89 L74.21 102.24 L77.94 102.93 L81.66 103.84 L85.39 104.78 L89.12 105.51 L92.84 106.02 L96.57 106.41 L100.3 106.83 L104.03 107.5 L107.75 108.44 L111.48 109.68 L115.21 111.15 L118.93 112.75 L122.66 114.2 L126.39 115.51 L130.12 116.73 L133.84 117.81 L137.57 118.77 L141.3 119.61 L145.02 120.34 L148.75 121.09 L152.48 121.85 L156.21 122.61 L159.93 123.34 L163.66 123.92 L167.39 124.44 L171.11 124.9 L174.84 125.33 L178.57 125.72 L182.3 126.1 L186.02 126.55 L189.75 127.45" stroke="#8c564b"/>
<path d="M59.3 155.35 L64.11 151.42 L68.91 147.91 L73.72 145.19 L78.53 143.35 L83.33 142.03 L88.14 140.97 L92.94 139.9 L97.75 138.63 L102.56 137.22 L107.36 135.82 L112.17 134.61 L116.98 133.75 L121.78 133.29 L126.59 133.15 L131.39 133.17 L136.2 133.08 L141.01 132.81 L145.81 132.37 L150.62 131.83 L155.43 131.29 L160.23 130.81 L165.04 130.34 L169.85 129.95 L174.65 129.62 L179.46 129.32 L184.26 129.08 L189.07 128.82 L193.88 128.57 L198.68 128.34 L203.49 128.14 L208.3 127.97 L213.1 127.83 L217.91 127.7 L222.71 127.6 L227.52 127.45" stroke="#e377c2"/>
<path d="M59.3 121.77 L62.82 121.03 L66.34 121.27 L69.86 122.4 L73.37 124.05 L76.89 125.67 L80.41 126.8 L83.93 127.24 L87.45 127.07 L90.97 126.58 L94.49 126.11 L98.01 125.89 L101.52 125.94 L105.04 126.16 L108.56 126.32 L112.08 126.27 L115.6 126.01 L119.12 125.62 L122.64 125.25 L126.15 125.06 L129.67 125.15 L133.19 125.49 L136.71 125.94 L140.23 126.38 L143.75 126.69 L147.27 126.88 L150.78 126.98 L154.3 127.03 L157.82 127.09 L161.34 127.15 L164.86 127.22 L168.38 127.29 L171.9 127.33 L175.42 127.35 L178.93 127.37 L182.45 127.45" stroke="#7f7f7f"/>
<path d="M59.38 90.04 L61.84 91.44 L64.31 92.85 L66.77 94.26 L69.24 95.67 L71.7 96.93 L74.16 98.16 L76.63 99.39 L79.09 100.62 L81.56 101.85 L84.02 103.09 L86.48 104.78 L88.95 106.5 L91.41 108.23 L93.88 109.95 L96.34 111.67 L98.8 113.4 L101.27 114.63 L103.73 115.86 L106.2 117.09 L108.66 118.33 L111.12 119.39 L113.59 119.97 L116.05 120.56 L118.51 121.14 L120.98 121.73 L123.44 122.31 L125.91 122.9 L128.37 123.48 L130.83 124.07 L133.3 124.62 L135.76 124.93 L138.23 125.25 L140.69 125.56 L143.15 125.88 L145.62 126.19 L148.08 126.51 L150.55 126.82 L153.01 127.14 L155.47 127.45" stroke="#e377c2"/>
<path d="M59.3 155.25 L64.54 153.56 L69.77 151.46 L75.01 147.92 L80.24 143.49 L85.48 139.49 L90.71 137.31 L95.95 136.55 L101.18 136.04 L106.42 135.03 L111.65 133.66 L116.89 132.65 L122.12 132.38 L127.36 132.5 L132.59 132.31 L137.83 131.53 L143.06 130.49 L148.3 129.66 L153.53 129.23 L158.77 129.04 L164 128.73 L169.24 128.31 L174.47 127.92 L179.71 127.72 L184.94 127.75 L190.18 127.84 L195.41 127.88 L200.65 127.82 L205.88 127.71 L211.12 127.63 L216.35 127.58 L221.59 127.54 L226.82 127.51 L232.06 127.48 L237.29 127.46 L242.53 127.45" stroke="#17becf"/>
<path d="M59.3 233.99 L60.69 232.21 L62.08 230.43 L63.47 228.64 L64.86 227.03 L66.25 225.42 L67.64 223.81 L69.03 222.2 L70.42 220.59 L71.81 218.91 L73.2 217.22 L74.59 215.54 L75.98 213.85 L77.37 212.16 L78.76 209.86 L80.15 207.5 L81.54 205.13 L82.93 202.59 L84.32 199.64 L85.71 196.69 L87.09 193.87 L88.48 191.06 L89.87 188.34 L91.26 185.87 L92.65 183.39 L94.04 180.9 L95.43 177.76 L96.82 174.62 L98.21 171.46 L99.6 167.17 L100.99 162.88 L102.38 158.03 L103.77 152.76 L105.16 147.79 L106.55 143.16 L107.94 138.82 L109.33 135.12 L110.72 131.67 L112.11 129.56 L113.5 127.45" stroke="#7f7f7f"/>
<path d="M59.05 172.34 L61.99 170.33 L64.94 168.32 L67.88 166.32 L70.82 164.31 L73.77 165.45 L76.71 168.39 L79.65 171.33 L82.6 172.06 L85.54 171.64 L88.48 171.22 L91.43 170.41 L94.37 167.88 L97.31 165.36 L100.25 162.84 L103.2 160.31 L106.14 157.79 L109.08 155.27 L112.03 152.88 L114.97 150.92 L117.91 148.96 L120.86 147 L123.8 145.03 L126.74 143.07 L129.69 141.33 L132.63 140.12 L135.57 138.91 L138.51 137.7 L141.46 136.49 L144.4 135.28 L147.34 134.07 L150.29 132.86 L153.23 132.01 L156.17 131.36 L159.12 130.71 L162.06 130.06 L165 129.4 L167.95 128.75 L170.89 128.1 L173.83 127.45" stroke="#17becf"/>
<path d="M59.3 137.99 L62.56 138.58 L65.81 138.28 L69.07 137.21 L72.33 135.69 L75.59 134.06 L78.84 132.62 L82.1 131.57 L85.36 130.95 L88.62 130.71 L91.87 130.72 L95.13 130.83 L98.39 130.92 L101.65 130.95 L104.9 130.93 L108.16 130.89 L111.42 130.89 L114.68 130.94 L117.93 131.03 L121.19 131.13 L124.45 131.18 L127.71 131.13 L130.96 130.95 L134.22 130.66 L137.48 130.3 L140.73 129.93 L143.99 129.6 L147.25 129.35 L150.51 129.17 L153.76 129.06 L157.02 128.98 L160.28 128.88 L163.54 128.73 L166.79 128.51 L170.05 128.19 L173.31 127.45" stroke="#2ca02c"/>
<path d="M59.3 145.83 L63.27 142.72 L67.23 139.6 L71.2 136.91 L75.16 134.96 L79.13 133.89 L83.09 133.47 L87.06 133.52 L91.02 133.71 L94.99 133.77 L98.95 133.54 L102.92 133.06 L106.88 132.42 L110.85 131.74 L114.81 131.16 L118.78 130.72 L122.74 130.46 L126.71 130.27 L130.67 130.08 L134.64 129.79 L138.6 129.42 L142.57 129.02 L146.53 128.63 L150.5 128.32 L154.46 128.14 L158.43 128.07 L162.39 128.05 L166.36 128.05 L170.32 128.06 L174.29 128.04 L178.25 127.99 L182.22 127.93 L186.18 127.85 L190.15 127.75 L194.11 127.65 L198.08 127.45" stroke="#d62728"/>
<path d="M59.05 194.96 L62.07 193.14 L65.09 191.32 L68.1 189.49 L71.12 187.6 L74.14 185.71 L77.16 183.83 L80.18 181.94 L83.19 180.06 L86.21 178.17 L89.23 176.28 L92.25 173.69 L95.27 170.24 L98.28 166.79 L101.3 163.33 L104.32 159.71 L107.34 156.08 L110.36 152.86 L113.37 149.84 L116.39 147.72 L119.41 145.96 L122.43 144.2 L125.45 142.85 L128.46 141.59 L131.48 140.33 L134.5 139.21 L137.52 138.09 L140.54 136.98 L143.55 135.87 L146.57 134.75 L149.59 133.64 L152.61 132.53 L155.63 131.65 L158.64 131.05 L161.66 130.45 L164.68 129.85 L167.7 129.25 L170.72 128.65 L173.73 128.05 L176.75 127.45" stroke="#17becf"/>
<path d="M59.3 107.56 L64.22 107.84 L69.14 108.38 L74.05 109.97 L78.97 112.52 L83.89 115.3 L88.81 117.21 L93.72 117.9 L98.64 117.81 L103.56 117.82 L108.48 118.36 L113.39 119.35 L118.31 120.36 L123.23 120.89 L128.15 120.98 L133.07 121.01 L137.98 121.36 L142.9 122.02 L147.82 122.85 L152.74 123.67 L157.65 124.28 L162.57 124.64 L167.49 124.87 L172.41 125.15 L177.33 125.5 L182.24 125.79 L187.16 126.02 L192.08 126.15 L197 126.22 L201.91 126.31 L206.83 126.44 L211.75 126.61 L216.67 126.79 L221.58 126.97 L226.5 127.16 L231.42 127.45" stroke="#8c564b"/>
<path d="M59.38 76.9 L63.11 78.5 L66.85 80.1 L70.58 81.46 L74.31 82.16 L78.05 82.86 L81.78 83.5 L85.52 83.73 L89.25 83.97 L92.98 84.2 L96.72 85.14 L100.45 86.65 L104.19 88.89 L107.92 91.34 L111.65 94.01 L115.39 96.67 L119.12 99.21 L122.86 101.7 L126.59 103.93 L130.32 105.8 L134.06 107.67 L137.79 109.4 L141.52 110.8 L145.26 112.2 L148.99 113.62 L152.73 115.1 L156.46 116.59 L160.19 118.05 L163.93 119.05 L167.66 120.04 L171.4 121.04 L175.13 122.03 L178.86 122.77 L182.6 123.52 L186.33 124.27 L190.06 125.01 L193.8 125.62 L197.53 126.23 L201.27 126.84 L205 127.45" stroke="#8c564b"/>
<path d="M59.3 126.14 L63.19 125.19 L67.09 125.33 L70.98 126.91 L74.88 129.31 L78.77 131.49 L82.66 132.72 L86.56 133.06 L90.45 133.18 L94.35 133.65 L98.24 134.58 L102.13 135.54 L106.03 135.97 L109.92 135.58 L113.82 134.6 L117.71 133.5 L121.6 132.72 L125.5 132.33 L129.39 132.02 L133.29 131.56 L137.18 130.9 L141.07 130.18 L144.97 129.63 L148.86 129.3 L152.76 129.16 L156.65 129.07 L160.54 128.91 L164.44 128.69 L168.33 128.42 L172.23 128.18 L176.12 127.99 L180.01 127.86 L183.91 127.74 L187.8 127.61 L191.7 127.5 L195.59 127.45" stroke="#7f7f7f"/>
<path d="M59.3 134.16 L62.04 136.04 L64.78 136.99 L67.52 137.12 L70.27 136.81 L73.01 136.48 L75.75 136.43 L78.49 136.66 L81.23 136.96 L83.97 137.03 L86.72 136.67 L89.46 135.85 L92.2 134.73 L94.94 133.6 L97.68 132.74 L100.42 132.32 L103.16 132.32 L105.91 132.58 L108.65 132.87 L111.39 133.01 L114.13 132.92 L116.87 132.62 L119.61 132.2 L122.36 131.82 L125.1 131.5 L127.84 131.24 L130.58 130.98 L133.32 130.69 L136.06 130.31 L138.8 129.88 L141.55 129.43 L144.29 129.01 L147.03 128.65 L149.77 128.35 L152.51 128.05 L155.25 127.45" stroke="#bcbd22"/>
<path d="M59.05 161.39 L61.66 160.94 L64.26 160.49 L66.87 160.04 L69.48 159.32 L72.08 158.5 L74.69 157.69 L77.29 156.87 L79.9 156 L82.51 154.95 L85.11 153.91 L87.72 152.87 L90.33 151.83 L92.93 150.78 L95.54 149.78 L98.14 148.81 L100.75 147.83 L103.36 146.85 L105.96 145.85 L108.57 144.73 L111.18 143.62 L113.78 142.5 L116.39 141.39 L118.99 140.32 L121.6 139.25 L124.21 138.18 L126.81 137.11 L129.42 136.04 L132.03 134.97 L134.63 133.89 L137.24 132.82 L139.84 132.06 L142.45 131.49 L145.06 130.91 L147.66 130.33 L150.27 129.76 L152.87 129.18 L155.48 128.6 L158.09 128.03 L160.69 127.45" stroke="#2ca02c"/>
<path d="M59.3 136.42 L64.16 137.49 L69.02 139.38 L73.88 141.49 L78.75 143.15 L83.61 143.73 L88.47 143.16 L93.33 141.7 L98.19 139.82 L103.05 138.04 L107.91 136.69 L112.78 135.84 L117.64 135.39 L122.5 135.19 L127.36 135.02 L132.22 134.65 L137.08 134.14 L141.94 133.59 L146.81 133.11 L151.67 132.65 L156.53 132.2 L161.39 131.76 L166.25 131.32 L171.11 130.8 L175.98 130.25 L180.84 129.75 L185.7 129.32 L190.56 128.96 L195.42 128.68 L200.28 128.46 L205.14 128.27 L210.01 128.09 L214.87 127.91 L219.73 127.74 L224.59 127.61 L229.45 127.45" stroke="#1f77b4"/>
<path d="M59.3 121.01 L64.33 121.23 L69.37 122.32 L74.4 123.96 L79.43 125.76 L84.46 127.35 L89.5 128.53 L94.53 129.27 L99.56 129.71 L104.6 130.05 L109.63 130.32 L114.66 130.54 L119.7 130.64 L124.73 130.59 L129.76 130.24 L134.79 129.69 L139.83 129.08 L144.86 128.57 L149.89 128.2 L154.93 128 L159.96 127.96 L164.99 128.04 L170.03 128.13 L175.06 128.18 L180.09 128.15 L185.12 128.05 L190.16 127.87 L195.19 127.65 L200.22 127.46 L205.26 127.32 L210.29 127.25 L215.32 127.24 L220.36 127.25 L225.39 127.3 L230.42 127.35 L235.45 127.45" stroke="#ff7f0e"/>
<path d="M59.3 106.65 L63.73 107.03 L68.16 107.41 L72.58 107.79 L77.01 108.16 L81.44 108.54 L85.87 108.92 L90.3 109.29 L94.73 109.67 L99.15 110.05 L103.58 110.33 L108.01 110.58 L112.44 110.84 L116.87 111.09 L121.29 111.35 L125.72 111.61 L130.15 111.87 L134.58 112.25 L139.01 112.63 L143.44 113.02 L147.86 113.4 L152.29 113.67 L156.72 113.84 L161.15 114.02 L165.58 114.19 L170.01 114.41 L174.43 114.71 L178.86 115.01 L183.29 115.62 L187.72 116.5 L192.15 117.38 L196.57 118.26 L201 119.19 L205.43 120.3 L209.86 121.41 L214.29 122.53 L218.72 123.64 L223.14 124.89 L227.57 126.17 L232 127.45" stroke="#bcbd22"/>
<path d="M59.3 133.52 L63.65 130.89 L68 128.71 L72.34 127.38 L76.69 126.66 L81.04 125.98 L85.39 125 L89.74 123.8 L94.09 122.86 L98.43 122.62 L102.78 123.22 L107.13 124.35 L111.48 125.49 L115.83 126.17 L120.18 126.24 L124.52 125.87 L128.87 125.44 L133.22 125.24 L137.57 125.33 L141.92 125.55 L146.27 125.76 L150.61 125.9 L154.96 125.99 L159.31 126.12 L163.66 126.28 L168.01 126.55 L172.36 126.85 L176.7 127.11 L181.05 127.27 L185.4 127.34 L189.75 127.35 L194.1 127.37 L198.45 127.39 L202.79 127.43 L207.14 127.45 L211.49 127.45" stroke="#d62728"/>
<path d="M59.3 157.57 L61.43 156.56 L63.56 156.13 L65.69 156.26 L67.81 156.78 L69.94 157.41 L72.07 157.87 L74.2 157.89 L76.33 157.33 L78.46 156.17 L80.59 154.47 L82.71 152.37 L84.84 150.23 L86.97 148.26 L89.1 146.58 L91.23 145.23 L93.36 144.16 L95.49 143.28 L97.61 142.47 L99.74 141.66 L101.87 140.83 L104 139.96 L106.13 139.06 L108.26 138.19 L110.39 137.36 L112.51 136.61 L114.64 135.9 L116.77 135.2 L118.9 134.48 L121.03 133.73 L123.16 132.94 L125.29 132.09 L127.41 131.2 L129.54 130.28 L131.67 129.31 L133.8 127.45" stroke="#9467bd"/>
<path d="M59.3 137.42 L61.87 136.61 L64.45 135.06 L67.02 133.8 L69.59 133.63 L72.17 134.67 L74.74 136.36 L77.31 137.87 L79.89 138.68 L82.46 138.77 L85.03 138.66 L87.6 138.85 L90.18 139.45 L92.75 140.15 L95.32 140.47 L97.9 140.07 L100.47 139 L103.04 137.63 L105.62 136.37 L108.19 135.47 L110.76 134.89 L113.34 134.42 L115.91 133.83 L118.48 133.08 L121.06 132.31 L123.63 131.67 L126.2 131.24 L128.78 130.95 L131.35 130.7 L133.92 130.36 L136.5 129.9 L139.07 129.39 L141.64 128.9 L144.21 128.48 L146.79 128.09 L149.36 127.45" stroke="#8c564b"/>
<path d="M59.3 136.79 L61.19 137.47 L63.09 138.42 L64.98 139.35 L66.88 140.05 L68.77 140.41 L70.66 140.43 L72.56 140.2 L74.45 139.81 L76.35 139.36 L78.24 138.89 L80.13 138.41 L82.03 137.86 L83.92 137.24 L85.81 136.54 L87.71 135.79 L89.6 135.05 L91.5 134.39 L93.39 133.9 L95.28 133.6 L97.18 133.5 L99.07 133.54 L100.97 133.63 L102.86 133.68 L104.75 133.58 L106.65 133.3 L108.54 132.83 L110.44 132.22 L112.33 131.55 L114.22 130.89 L116.12 130.31 L118.01 129.81 L119.9 129.4 L121.8 129.01 L123.69 128.55 L125.59 127.45" stroke="#e377c2"/>
<path d="M60.5 90.02 L63.69 90.18 L66.88 90.35 L70.08 90.51 L73.27 90.67 L76.46 90.84 L79.65 91 L82.85 91.17 L86.04 91.33 L89.23 91.49 L92.42 91.66 L95.62 92.29 L98.81 93.52 L102 94.74 L105.19 95.97 L108.38 97.19 L111.58 98.42 L114.77 99.64 L117.96 100.87 L121.15 102.09 L124.35 103.37 L127.54 104.72 L130.73 106.08 L133.92 107.43 L137.12 108.79 L140.31 110.14 L143.5 111.48 L146.69 112.8 L149.88 114.12 L153.08 115.44 L156.27 116.76 L159.46 118.08 L162.65 119.35 L165.85 120.55 L169.04 121.75 L172.23 122.95 L175.42 124.13 L178.62 125.24 L181.81 126.34 L185 127.45" stroke="#9467bd"/>
<path d="M59.05 175.26 L61.28 173.94 L63.51 172.63 L65.75 171.32 L67.98 170 L70.21 168.54 L72.44 166.94 L74.67 165.35 L76.91 163.75 L79.14 162.16 L81.37 160.76 L83.6 159.36 L85.83 157.97 L88.07 156.57 L90.3 155.18 L92.53 153.64 L94.76 152.04 L96.99 150.45 L99.23 148.85 L101.46 147.31 L103.69 146.01 L105.92 144.72 L108.15 143.43 L110.38 142.13 L112.62 140.84 L114.85 139.54 L117.08 138.25 L119.31 136.96 L121.54 135.66 L123.78 134.42 L126.01 133.72 L128.24 133.02 L130.47 132.33 L132.7 131.63 L134.94 130.93 L137.17 130.24 L139.4 129.54 L141.63 128.84 L143.86 128.15 L146.09 127.45" stroke="#e377c2"/>
<path d="M59.3 131.63 L62.98 133.67 L66.65 135.76 L70.33 136.89 L74.01 136.92 L77.69 136.55 L81.36 136.63 L85.04 137.47 L88.72 138.68 L92.39 139.47 L96.07 139.33 L99.75 138.37 L103.43 137.21 L107.1 136.34 L110.78 135.94 L114.46 135.71 L118.13 135.25 L121.81 134.42 L125.49 133.35 L129.17 132.31 L132.84 131.57 L136.52 131.16 L140.2 130.88 L143.87 130.58 L147.55 130.16 L151.23 129.68 L154.9 129.27 L158.58 129.01 L162.26 128.84 L165.94 128.69 L169.61 128.5 L173.29 128.26 L176.97 128.02 L180.64 127.83 L184.32 127.67 L188 127.45" stroke="#17becf"/>
<path d="M59.3 101.45 L63.88 102.71 L68.46 103.96 L73.05 105.21 L77.63 106.47 L82.21 107.72 L86.79 108.97 L91.37 110.23 L95.96 111.48 L100.54 112.73 L105.12 113.98 L109.7 115.24 L114.28 115.88 L118.87 116.47 L123.45 117.07 L128.03 117.66 L132.61 118.26 L137.19 118.85 L141.78 119.45 L146.36 120.04 L150.94 120.58 L155.52 120.91 L160.11 121.23 L164.69 121.56 L169.27 121.88 L173.85 122.21 L178.43 122.46 L183.02 122.71 L187.6 122.96 L192.18 123.21 L196.76 123.46 L201.34 123.72 L205.93 124 L210.51 124.27 L215.09 124.55 L219.67 124.83 L224.25 125.46 L228.84 126.13 L233.42 126.79 L238 127.45" stroke="#17becf"/>
<path d="M59.3 110.12 L64.06 110.66 L68.82 111.21 L73.58 111.75 L78.35 112.3 L83.11 112.84 L87.87 113.38 L92.63 113.93 L97.39 114.47 L102.15 115.01 L106.92 115.56 L111.68 116.1 L116.44 116.65 L121.2 117.11 L125.96 117.36 L130.72 117.61 L135.48 117.86 L140.25 118.1 L145.01 118.35 L149.77 118.6 L154.53 118.85 L159.29 119.09 L164.05 119.34 L168.82 119.59 L173.58 119.65 L178.34 119.65 L183.1 119.65 L187.86 119.65 L192.62 119.65 L197.38 119.65 L202.15 119.87 L206.91 120.37 L211.67 120.86 L216.43 121.36 L221.19 121.86 L225.95 122.5 L230.72 123.74 L235.48 124.97 L240.24 126.21 L245 127.45" stroke="#17becf"/>
<path d="M59.3 130.42 L61.51 130.31 L63.73 130.79 L65.94 131.85 L68.15 133.22 L70.36 134.56 L72.58 135.54 L74.79 136.01 L77 136.02 L79.21 135.8 L81.43 135.6 L83.64 135.66 L85.85 136.05 L88.07 136.7 L90.28 137.39 L92.49 137.89 L94.7 138.04 L96.92 137.8 L99.13 137.23 L101.34 136.5 L103.55 135.77 L105.77 135.12 L107.98 134.58 L110.19 134.1 L112.41 133.61 L114.62 133.02 L116.83 132.31 L119.04 131.52 L121.26 130.72 L123.47 129.97 L125.68 129.33 L127.89 128.8 L130.11 128.39 L132.32 128.05 L134.53 127.77 L136.75 127.45" stroke="#2ca02c"/>
<path d="M59.3 136.01 L61.71 138.17 L64.12 139.53 L66.53 139.8 L68.94 139.57 L71.35 139.72 L73.76 140.78 L76.18 142.55 L78.59 144.26 L81 145.15 L83.41 144.98 L85.82 144.2 L88.23 143.45 L90.64 143.13 L93.05 143.18 L95.46 143.13 L97.87 142.58 L100.28 141.43 L102.69 139.99 L105.1 138.64 L107.51 137.64 L109.93 136.96 L112.34 136.36 L114.75 135.6 L117.16 134.64 L119.57 133.6 L121.98 132.71 L124.39 132.04 L126.8 131.56 L129.21 131.1 L131.62 130.59 L134.03 130.02 L136.44 129.43 L138.85 128.89 L141.26 128.36 L143.68 127.45" stroke="#d62728"/>
<path d="M59.3 117.01 L62.24 118.35 L65.19 118.6 L68.13 117.64 L71.07 116.59 L74.01 116.62 L76.96 117.9 L79.9 119.48 L82.84 120.33 L85.79 120.1 L88.73 119.46 L91.67 119.34 L94.62 120.01 L97.56 120.99 L100.5 121.54 L103.44 121.41 L106.39 120.93 L109.33 120.69 L112.27 121.01 L115.22 121.65 L118.16 122.18 L121.1 122.34 L124.04 122.26 L126.99 122.31 L129.93 122.7 L132.87 123.31 L135.82 123.9 L138.76 124.32 L141.7 124.6 L144.65 124.88 L147.59 125.26 L150.53 125.69 L153.47 126.09 L156.42 126.44 L159.36 126.77 L162.3 127.45" stroke="#9467bd"/>
<path d="M59.3 99.34 L63.55 100.55 L67.81 101.84 L72.06 102.39 L76.31 102.19 L80.56 102.02 L84.82 102.85 L89.07 104.73 L93.32 107.15 L97.57 109.35 L101.83 110.86 L106.08 111.76 L110.33 112.45 L114.58 113.4 L118.84 114.73 L123.09 116.03 L127.34 117.04 L131.59 117.64 L135.85 117.97 L140.1 118.33 L144.35 118.74 L148.6 119.41 L152.86 120.2 L157.11 120.95 L161.36 121.53 L165.61 121.96 L169.87 122.41 L174.12 122.94 L178.37 123.52 L182.62 124.04 L186.88 124.51 L191.13 124.94 L195.38 125.35 L199.63 125.8 L203.89 126.33 L208.14 127.45" stroke="#8c564b"/>
<path d="M59.3 94.03 L61.2 94.88 L63.11 95.49 L65.01 96.14 L66.91 96.98 L68.82 98.01 L70.72 99.11 L72.62 100.06 L74.52 100.7 L76.43 100.96 L78.33 100.93 L80.23 100.81 L82.14 100.93 L84.04 101.4 L85.94 102.33 L87.85 103.7 L89.75 105.38 L91.65 107.16 L93.55 108.83 L95.46 110.25 L97.36 111.38 L99.26 112.24 L101.17 112.97 L103.07 113.66 L104.97 114.38 L106.88 115.17 L108.78 116.04 L110.68 116.94 L112.58 117.86 L114.49 118.76 L116.39 119.66 L118.29 120.6 L120.2 121.63 L122.1 122.79 L124 124.25 L125.91 127.45" stroke="#e377c2"/>
<path d="M60.5 67.66 L65.32 70.55 L70.13 73.43 L74.95 76.32 L79.76 79.21 L84.58 82.07 L89.39 83.56 L94.21 85.06 L99.02 86.55 L103.84 88.04 L108.65 89.54 L113.47 91.65 L118.28 94.05 L123.1 96.45 L127.92 98.86 L132.73 101.26 L137.55 103.46 L142.36 105.27 L147.18 107.08 L151.99 108.08 L156.81 108.67 L161.62 109.27 L166.44 112.31 L171.25 115.35 L176.07 117.51 L180.88 117.84 L185.7 118.18 L190.52 118.51 L195.33 118.85 L200.15 119.18 L204.96 119.52 L209.78 119.85 L214.59 120.18 L219.41 120.52 L224.22 121.34 L229.04 122.16 L233.85 122.98 L238.67 123.81 L243.48 125.62 L248.3 127.45" stroke="#8c564b"/>
<path d="M59.3 22.95 L62.52 28.34 L65.75 33.73 L68.97 39.64 L72.19 46.59 L75.42 53.54 L78.64 60.49 L81.86 66.19 L85.08 68.48 L88.31 70.76 L91.53 73.05 L94.75 75.33 L97.98 78.77 L101.2 83.4 L104.42 88.27 L107.65 94.72 L110.87 101.18 L114.09 105.98 L117.32 110.21 L120.54 113.77 L123.76 117.04 L126.98 118.98 L130.21 120.3 L133.43 121.61 L136.65 122.54 L139.88 123.1 L143.1 123.65 L146.32 124.21 L149.55 124.77 L152.77 125.09 L155.99 125.37 L159.22 125.65 L162.44 125.93 L165.66 126.21 L168.88 126.49 L172.11 126.71 L175.33 126.89 L178.55 127.08 L181.78 127.26 L185 127.45" stroke="#2ca02c"/>
<path d="M59.3 113.59 L63.93 113.78 L68.57 113.98 L73.2 114.18 L77.83 114.38 L82.47 114.57 L87.1 114.77 L91.73 114.97 L96.37 115.16 L101 115.3 L105.63 115.2 L110.27 115.1 L114.9 115 L119.53 114.9 L124.17 114.8 L128.8 114.7 L133.43 114.59 L138.07 114.49 L142.7 114.51 L147.33 114.62 L151.97 114.73 L156.6 114.83 L161.23 114.94 L165.87 115.04 L170.5 115.15 L175.13 115.25 L179.77 115.6 L184.4 116.33 L189.03 117.06 L193.67 117.79 L198.3 118.52 L202.93 119.29 L207.57 120.1 L212.2 120.9 L216.83 121.7 L221.47 122.51 L226.1 123.31 L230.73 124.24 L235.37 125.84 L240 127.45" stroke="#bcbd22"/>
<path d="M59.3 130.96 L61.62 131.14 L63.93 130.19 L66.25 128.92 L68.57 128.58 L70.89 129.86 L73.2 132.37 L75.52 134.94 L77.84 136.54 L80.16 136.9 L82.47 136.54 L84.79 136.26 L87.11 136.35 L89.43 136.49 L91.74 136.14 L94.06 135.1 L96.38 133.71 L98.7 132.59 L101.01 132.16 L103.33 132.36 L105.65 132.75 L107.97 132.87 L110.28 132.59 L112.6 132.06 L114.92 131.55 L117.24 131.18 L119.55 130.86 L121.87 130.44 L124.19 129.86 L126.51 129.21 L128.82 128.64 L131.14 128.26 L133.46 128.06 L135.78 127.9 L138.09 127.73 L140.41 127.45" stroke="#1f77b4"/>
<path d="M59.3 113.99 L63.48 115.41 L67.66 117.37 L71.85 119.66 L76.03 122 L80.21 124.1 L84.39 125.73 L88.57 126.76 L92.75 127.22 L96.94 127.24 L101.12 127.02 L105.3 126.79 L109.48 126.59 L113.66 126.51 L117.85 126.53 L122.03 126.6 L126.21 126.66 L130.39 126.57 L134.57 126.41 L138.75 126.2 L142.94 125.99 L147.12 125.81 L151.3 125.7 L155.48 125.68 L159.66 125.74 L163.85 125.84 L168.03 125.97 L172.21 126.11 L176.39 126.23 L180.57 126.32 L184.75 126.38 L188.94 126.45 L193.12 126.52 L197.3 126.65 L201.48 126.86 L205.66 127.45" stroke="#ff7f0e"/>
<path d="M59.3 108.9 L64.06 110.19 L68.82 112.64 L73.59 115.35 L78.35 117.4 L83.11 118.55 L87.87 119.04 L92.63 119.46 L97.4 120.31 L102.16 121.66 L106.92 123.11 L111.68 124.11 L116.45 124.47 L121.21 124.34 L125.97 124.03 L130.73 123.98 L135.49 124.3 L140.26 124.82 L145.02 125.2 L149.78 125.43 L154.54 125.52 L159.3 125.62 L164.07 125.76 L168.83 126.01 L173.59 126.34 L178.35 126.63 L183.11 126.79 L187.88 126.88 L192.64 126.91 L197.4 126.96 L202.16 127.03 L206.93 127.11 L211.69 127.18 L216.45 127.24 L221.21 127.31 L225.97 127.45" stroke="#2ca02c"/>
<path d="M59.38 84.2 L62.29 85.17 L65.21 86.14 L68.12 87.11 L71.03 88.08 L73.95 89.29 L76.86 90.75 L79.77 92.2 L82.68 93.66 L85.6 94.88 L88.51 95.85 L91.42 96.83 L94.34 98.13 L97.25 99.79 L100.16 101.45 L103.08 103.12 L105.99 104.74 L108.9 106.36 L111.82 107.98 L114.73 109.59 L117.64 111.14 L120.56 112.6 L123.47 114.05 L126.38 115.51 L129.3 116.73 L132.21 117.67 L135.12 118.61 L138.03 119.54 L140.95 120.48 L143.86 121.42 L146.77 122.36 L149.69 123.29 L152.6 123.92 L155.51 124.42 L158.43 124.93 L161.34 125.43 L164.25 125.94 L167.17 126.44 L170.08 126.95 L172.99 127.45" stroke="#bcbd22"/>
<path d="M59.38 68.14 L62.22 70.16 L65.05 72.19 L67.89 74.22 L70.73 76.19 L73.56 78.08 L76.4 79.97 L79.23 81.72 L82.07 83.13 L84.91 84.55 L87.74 85.97 L90.58 86.67 L93.42 87.08 L96.25 87.48 L99.09 88.02 L101.93 89.67 L104.76 91.33 L107.6 92.99 L110.44 95.36 L113.27 97.72 L116.11 100.08 L118.94 102.45 L121.78 104.81 L124.62 107.17 L127.45 110.73 L130.29 114.02 L133.13 116.15 L135.96 118.04 L138.8 119.18 L141.64 120.31 L144.47 120.77 L147.31 120.89 L150.15 121.04 L152.98 121.89 L155.82 122.75 L158.65 123.6 L161.49 124.51 L164.33 125.49 L167.16 126.47 L170 127.45" stroke="#d62728"/>
<path d="M59.3 139.3 L64.01 138.18 L68.72 138.49 L73.43 139.56 L78.13 140.45 L82.84 140.39 L87.55 139.33 L92.26 137.79 L96.97 136.35 L101.68 135.35 L106.38 134.74 L111.09 134.15 L115.8 133.29 L120.51 132.11 L125.22 130.88 L129.93 129.86 L134.64 129.29 L139.34 129.15 L144.05 129.26 L148.76 129.39 L153.47 129.38 L158.18 129.22 L162.89 128.98 L167.59 128.75 L172.3 128.59 L177.01 128.48 L181.72 128.4 L186.43 128.28 L191.14 128.11 L195.85 127.93 L200.55 127.77 L205.26 127.66 L209.97 127.6 L214.68 127.55 L219.39 127.5 L224.1 127.45" stroke="#8c564b"/>
<path d="M59.3 113.04 L61.3 113.65 L63.3 113.57 L65.3 113.41 L67.3 113.81 L69.3 115 L71.31 116.7 L73.31 118.28 L75.31 119.18 L77.31 119.18 L79.31 118.53 L81.31 117.79 L83.31 117.43 L85.31 117.61 L87.31 118.15 L89.31 118.69 L91.31 118.92 L93.32 118.81 L95.32 118.55 L97.32 118.46 L99.32 118.76 L101.32 119.48 L103.32 120.42 L105.32 121.34 L107.32 122.06 L109.32 122.57 L111.32 122.97 L113.33 123.38 L115.33 123.89 L117.33 124.46 L119.33 125.01 L121.33 125.45 L123.33 125.8 L125.33 126.11 L127.33 126.5 L129.33 127.45" stroke="#e377c2"/>
<path d="M59.3 125.6 L62.41 125.85 L65.51 125.47 L68.62 123.77 L71.72 121.41 L74.83 119.78 L77.93 119.86 L81.04 121.4 L84.14 123.21 L87.25 124.23 L90.36 124.37 L93.46 124.29 L96.57 124.61 L99.67 125.33 L102.78 125.87 L105.88 125.73 L108.99 124.95 L112.09 124.09 L115.2 123.74 L118.3 124.04 L121.41 124.64 L124.52 125.14 L127.62 125.4 L130.73 125.57 L133.83 125.85 L136.94 126.29 L140.04 126.71 L143.15 126.95 L146.25 126.97 L149.36 126.89 L152.47 126.87 L155.57 126.94 L158.68 127.06 L161.78 127.18 L164.89 127.29 L167.99 127.45" stroke="#7f7f7f"/>
<path d="M59.3 112.98 L64.14 112.39 L68.97 112.07 L73.81 112.35 L78.65 113.15 L83.48 114.2 L88.32 115 L93.16 115.28 L97.99 115.12 L102.83 114.9 L107.67 114.94 L112.5 115.47 L117.34 116.48 L122.18 117.71 L127.01 118.88 L131.85 119.93 L136.69 120.74 L141.52 121.34 L146.36 121.8 L151.2 122.34 L156.03 122.97 L160.87 123.63 L165.71 124.16 L170.54 124.61 L175.38 124.94 L180.21 125.16 L185.05 125.31 L189.89 125.46 L194.72 125.65 L199.56 125.88 L204.4 126.12 L209.23 126.35 L214.07 126.57 L218.91 126.78 L223.74 127.03 L228.58 127.45" stroke="#bcbd22"/>
<path d="M59.3 158.33 L63.6 156.39 L67.91 154.89 L72.21 153.81 L76.51 153.01 L80.82 152.22 L85.12 151.08 L89.43 149.73 L93.73 148.18 L98.03 146.53 L102.34 144.99 L106.64 143.67 L110.94 142.58 L115.25 141.73 L119.55 141.04 L123.85 140.6 L128.16 140.08 L132.46 139.35 L136.76 138.43 L141.07 137.38 L145.37 136.35 L149.68 135.29 L153.98 134.27 L158.28 133.34 L162.59 132.5 L166.89 131.76 L171.19 131.09 L175.5 130.47 L179.8 129.94 L184.1 129.5 L188.41 129.09 L192.71 128.71 L197.02 128.37 L201.32 128.08 L205.62 127.82 L209.93 127.45" stroke="#17becf"/>
<path d="M59.3 111.96 L62.57 111.61 L65.84 111.03 L69.11 110.55 L72.38 110.41 L75.65 110.74 L78.92 111.51 L82.19 112.69 L85.46 114.02 L88.73 115.26 L92 116.3 L95.27 117.12 L98.54 117.78 L101.81 118.41 L105.08 119.11 L108.34 119.93 L111.61 120.87 L114.88 121.9 L118.15 122.92 L121.42 123.8 L124.69 124.47 L127.96 124.94 L131.23 125.21 L134.5 125.34 L137.77 125.42 L141.04 125.47 L144.31 125.53 L147.58 125.64 L150.85 125.81 L154.12 126.01 L157.39 126.22 L160.66 126.43 L163.93 126.6 L167.2 126.79 L170.47 127.01 L173.74 127.45" stroke="#1f77b4"/>
<path d="M59.3 138.41 L61.87 138.45 L64.43 138.54 L67 139.41 L69.57 141.17 L72.14 143.26 L74.7 144.84 L77.27 145.34 L79.84 144.79 L82.4 143.67 L84.97 142.7 L87.54 142.23 L90.1 142.12 L92.67 141.91 L95.24 141.23 L97.81 140.03 L100.37 138.61 L102.94 137.4 L105.51 136.64 L108.07 136.31 L110.64 136.14 L113.21 135.85 L115.77 135.31 L118.34 134.58 L120.91 133.88 L123.48 133.34 L126.04 132.96 L128.61 132.61 L131.18 132.17 L133.74 131.59 L136.31 130.93 L138.88 130.26 L141.45 129.66 L144.01 129.11 L146.58 128.53 L149.15 127.45" stroke="#ff7f0e"/>
<path d="M59.3 127.45 L324.4 127.45" stroke="#bcbd22"/>
</g>
<g fill="none" stroke-width="1.55" stroke-linejoin="round" stroke-linecap="round" clip-path="url(#clc)">
<path d="M59.38 350.47 L62.52 348.68 L65.66 346.89 L68.79 345.1 L71.93 343.7 L75.07 342.45 L78.21 341.85 L81.34 342.16 L84.48 342.53 L87.62 343.51 L90.76 344.5 L93.89 345.48 L97.03 346.59 L100.17 347.94 L103.31 349.28 L106.45 350.67 L109.58 352.47 L112.72 354.26 L115.86 356.05 L119 357.99 L122.13 359.95 L125.27 361.91 L128.41 363.89 L131.55 365.98 L134.69 368.08 L137.82 369.79 L140.96 370.78 L144.1 371.78 L147.24 372.77 L150.37 373.76 L153.51 374.75 L156.65 375.75 L159.79 376.66 L162.93 377.19 L166.06 377.73 L169.2 378.26 L172.34 378.8 L175.48 379.33 L178.61 379.87 L181.75 380.4" stroke="#d62728"/>
<path d="M59.3 376.02 L61.92 380.95 L64.53 384.51 L67.15 386.08 L69.77 386.32 L72.38 386.54 L75 387.7 L77.62 389.74 L80.23 391.76 L82.85 392.71 L85.47 392.48 L88.08 391.72 L90.7 391.28 L93.32 391.62 L95.93 392.47 L98.55 393.15 L101.17 393.17 L103.78 392.52 L106.4 391.58 L109.02 390.84 L111.63 390.45 L114.25 390.18 L116.86 389.67 L119.48 388.74 L122.1 387.47 L124.71 386.18 L127.33 385.08 L129.95 384.22 L132.56 383.48 L135.18 382.73 L137.8 381.97 L140.41 381.28 L143.03 380.76 L145.65 380.44 L148.26 380.3 L150.88 380.4" stroke="#ff7f0e"/>
<path d="M59.38 423.18 L62.29 421.51 L65.21 419.85 L68.12 418.18 L71.03 416.62 L73.95 415.16 L76.86 413.71 L79.77 412.25 L82.68 410.79 L85.6 409.48 L88.51 408.31 L91.42 407.15 L94.34 405.98 L97.25 404.82 L100.16 403.65 L103.08 402.48 L105.99 401.32 L108.9 400.15 L111.82 398.99 L114.73 397.82 L117.64 396.66 L120.56 395.49 L123.47 394.33 L126.38 393.16 L129.3 392.06 L132.21 391.04 L135.12 390.02 L138.03 389 L140.95 387.98 L143.86 386.96 L146.77 385.94 L149.69 384.92 L152.6 384.24 L155.51 383.69 L158.43 383.15 L161.34 382.6 L164.25 382.05 L167.17 381.5 L170.08 380.95 L172.99 380.4" stroke="#8c564b"/>
<path d="M59.3 400.01 L62.31 400.9 L65.32 403.3 L68.33 405.12 L71.35 404.71 L74.36 402.39 L77.37 399.95 L80.38 398.74 L83.39 398.27 L86.4 397.4 L89.41 395.34 L92.42 392.68 L95.44 390.73 L98.45 390.14 L101.46 390.42 L104.47 390.54 L107.48 389.94 L110.49 389 L113.5 388.41 L116.51 388.37 L119.53 388.45 L122.54 388.1 L125.55 387.19 L128.56 386.08 L131.57 385.19 L134.58 384.62 L137.59 384.14 L140.6 383.56 L143.62 382.92 L146.63 382.35 L149.64 381.97 L152.65 381.72 L155.66 381.5 L158.67 381.22 L161.68 380.91 L164.69 380.4" stroke="#d62728"/>
<path d="M59.3 358.78 L60.73 357.03 L62.16 355.42 L63.59 354.36 L65.02 354.15 L66.45 354.91 L67.88 356.52 L69.31 358.62 L70.74 360.74 L72.17 362.41 L73.6 363.32 L75.03 363.36 L76.46 362.67 L77.89 361.58 L79.32 360.51 L80.75 359.92 L82.18 360.05 L83.61 360.88 L85.04 362.28 L86.47 364.03 L87.9 365.84 L89.33 367.5 L90.76 368.88 L92.19 369.97 L93.62 370.82 L95.05 371.54 L96.48 372.23 L97.91 372.96 L99.34 373.73 L100.77 374.52 L102.2 375.31 L103.63 376.11 L105.06 376.92 L106.49 377.75 L107.92 378.68 L109.35 380.4" stroke="#9467bd"/>
<path d="M59.3 386.03 L60.98 385.08 L62.67 382.62 L64.35 380.12 L66.04 378.92 L67.72 379.42 L69.41 380.93 L71.09 382.34 L72.78 382.97 L74.46 382.99 L76.15 383.14 L77.83 384.06 L79.52 385.73 L81.2 387.41 L82.89 388.26 L84.57 387.91 L86.26 386.68 L87.94 385.29 L89.63 384.36 L91.31 384.01 L93 383.96 L94.68 383.77 L96.37 383.28 L98.05 382.67 L99.74 382.26 L101.42 382.24 L103.11 382.53 L104.79 382.84 L106.48 382.91 L108.16 382.67 L109.85 382.26 L111.53 381.84 L113.22 381.51 L114.9 381.25 L116.59 380.97 L118.27 380.4" stroke="#8c564b"/>
<path d="M59.3 357.38 L60.52 361.08 L61.75 363.81 L62.97 365.1 L64.2 364.94 L65.42 363.78 L66.64 362.31 L67.87 361.22 L69.09 360.96 L70.31 361.62 L71.54 362.97 L72.76 364.6 L73.99 366.13 L75.21 367.32 L76.43 368.18 L77.66 368.85 L78.88 369.52 L80.1 370.29 L81.33 371.16 L82.55 371.93 L83.78 372.43 L85 372.55 L86.22 372.32 L87.45 371.91 L88.67 371.56 L89.89 371.47 L91.12 371.75 L92.34 372.38 L93.57 373.22 L94.79 374.1 L96.01 374.91 L97.24 375.6 L98.46 376.22 L99.69 376.9 L100.91 377.85 L102.13 380.4" stroke="#e377c2"/>
<path d="M59.38 439.96 L62.82 439.72 L66.25 439.47 L69.69 439.22 L73.13 438.73 L76.57 438.24 L80 437.69 L83.44 436.22 L86.88 434.75 L90.31 433.16 L93.75 430.3 L97.19 427.43 L100.63 424.26 L104.06 420.83 L107.5 417.39 L110.94 413.95 L114.37 410.52 L117.81 407.33 L121.25 404.46 L124.69 401.6 L128.12 398.99 L131.56 396.47 L135 394.17 L138.44 391.88 L141.87 389.96 L145.31 388.24 L148.75 386.62 L152.18 386 L155.62 385.37 L159.06 384.75 L162.5 384.13 L165.93 383.5 L169.37 382.88 L172.81 382.41 L176.24 382.08 L179.68 381.74 L183.12 381.41 L186.56 381.07 L189.99 380.74 L193.43 380.4" stroke="#bcbd22"/>
<path d="M59.38 437.77 L62.29 435.59 L65.21 433.4 L68.12 430.49 L71.03 427.58 L73.95 424.91 L76.86 422.48 L79.77 420.05 L82.68 417.79 L85.6 415.71 L88.51 413.63 L91.42 411.55 L94.34 408.66 L97.25 405.74 L100.16 403.1 L103.08 400.77 L105.99 398.44 L108.9 396.75 L111.82 395.09 L114.73 393.42 L117.64 392.02 L120.56 390.93 L123.47 389.84 L126.38 388.74 L129.3 387.85 L132.21 387.2 L135.12 386.54 L138.03 385.89 L140.95 385.24 L143.86 384.59 L146.77 383.94 L149.69 383.29 L152.6 382.85 L155.51 382.5 L158.43 382.15 L161.34 381.8 L164.25 381.45 L167.17 381.1 L170.08 380.75 L172.99 380.4" stroke="#9467bd"/>
<path d="M59.3 348.05 L61.64 351.21 L63.98 353.48 L66.32 355.25 L68.66 356.92 L71.01 358.79 L73.35 360.94 L75.69 363.23 L78.03 365.39 L80.37 367.16 L82.71 368.54 L85.05 369.32 L87.39 369.7 L89.73 369.95 L92.08 370.36 L94.42 371.08 L96.76 372.15 L99.1 373.45 L101.44 374.7 L103.78 375.77 L106.12 376.59 L108.46 377.14 L110.8 377.46 L113.14 377.67 L115.49 377.85 L117.83 378.07 L120.17 378.35 L122.51 378.6 L124.85 378.82 L127.19 378.97 L129.53 379.06 L131.87 379.1 L134.21 379.16 L136.56 379.31 L138.9 379.59 L141.24 380.4" stroke="#17becf"/>
<path d="M59.38 328.58 L61.36 329.37 L63.35 330.16 L65.33 330.96 L67.32 331.86 L69.3 332.99 L71.28 334.13 L73.27 335.26 L75.25 336.39 L77.23 337.48 L79.22 338.33 L81.2 339.18 L83.19 340.03 L85.17 340.88 L87.15 341.74 L89.14 343.23 L91.12 344.72 L93.11 346.21 L95.09 347.7 L97.07 349.18 L99.06 350.65 L101.04 351.97 L103.03 353.29 L105.01 354.62 L106.99 355.94 L108.98 358.09 L110.96 360.57 L112.94 363.05 L114.93 364.84 L116.91 366.43 L118.9 368.02 L120.88 369.56 L122.86 370.76 L124.85 371.95 L126.83 373.14 L128.82 374.45 L130.8 375.94 L132.78 377.42 L134.77 378.91 L136.75 380.4" stroke="#9467bd"/>
<path d="M59.3 370.43 L61.71 373.93 L64.11 375.05 L66.52 374.54 L68.93 374.16 L71.33 374.89 L73.74 376.15 L76.14 376.55 L78.55 375.41 L80.96 373.5 L83.36 372.35 L85.77 372.78 L88.18 374.34 L90.58 375.88 L92.99 376.63 L95.39 376.77 L97.8 377.06 L100.21 377.94 L102.61 379.09 L105.02 379.87 L107.43 379.83 L109.83 379.19 L112.24 378.54 L114.65 378.29 L117.05 378.41 L119.46 378.58 L121.86 378.54 L124.27 378.4 L126.68 378.38 L129.08 378.6 L131.49 378.98 L133.9 379.31 L136.3 379.52 L138.71 379.66 L141.12 379.86 L143.52 380.4" stroke="#ff7f0e"/>
<path d="M59.3 379.21 L61.3 376.43 L63.3 373 L65.3 369.57 L67.3 366.73 L69.3 364.85 L71.3 364 L73.3 364.01 L75.3 364.54 L77.3 365.26 L79.3 365.91 L81.3 366.45 L83.3 366.87 L85.3 367.26 L87.3 367.73 L89.3 368.32 L91.3 369 L93.3 369.69 L95.3 370.28 L97.3 370.72 L99.3 371.02 L101.3 371.25 L103.3 371.53 L105.3 372.02 L107.3 372.76 L109.3 373.74 L111.3 374.89 L113.31 376.06 L115.31 377.13 L117.31 378.02 L119.31 378.68 L121.31 379.16 L123.31 379.51 L125.31 379.81 L127.31 380.1 L129.31 380.4" stroke="#2ca02c"/>
<path d="M59.3 325.24 L62.09 326.9 L64.87 329.69 L67.66 333.19 L70.45 336.8 L73.23 340.04 L76.02 342.62 L78.81 344.57 L81.59 346.3 L84.38 348.07 L87.17 349.99 L89.96 352.12 L92.74 354.31 L95.53 356.33 L98.32 357.96 L101.1 359.03 L103.89 359.55 L106.68 359.86 L109.46 360.21 L112.25 360.79 L115.04 361.69 L117.82 362.89 L120.61 364.24 L123.4 365.54 L126.18 366.77 L128.97 367.87 L131.76 368.86 L134.54 369.81 L137.33 370.76 L140.12 371.76 L142.9 372.8 L145.69 373.88 L148.48 374.98 L151.27 376.14 L154.05 377.48 L156.84 380.4" stroke="#d62728"/>
<path d="M59.3 421.52 L61.54 417.66 L63.78 414.23 L66.02 412.3 L68.25 411.6 L70.49 410.92 L72.73 409.12 L74.97 406.11 L77.21 402.8 L79.45 400.33 L81.69 399.02 L83.92 398.44 L86.16 397.67 L88.4 396.15 L90.64 394.12 L92.88 392.31 L95.12 391.32 L97.36 391.13 L99.6 391.2 L101.83 391.01 L104.07 390.37 L106.31 389.55 L108.55 388.96 L110.79 388.81 L113.03 388.91 L115.27 388.94 L117.5 388.68 L119.74 388.14 L121.98 387.53 L124.22 387.01 L126.46 386.56 L128.7 386.04 L130.94 385.34 L133.17 384.4 L135.41 383.18 L137.65 380.4" stroke="#9467bd"/>
<path d="M59.38 329.31 L62.67 330.54 L65.95 331.79 L69.24 333.11 L72.53 334.42 L75.82 336.07 L79.1 337.58 L82.39 338.68 L85.68 339.78 L88.97 340.95 L92.25 342.18 L95.54 343.41 L98.83 344.65 L102.12 346.3 L105.4 347.94 L108.69 349.58 L111.98 351.23 L115.27 352.87 L118.55 354.51 L121.84 356.16 L125.13 358.17 L128.42 360.23 L131.7 362.28 L134.99 364.39 L138.28 366.58 L141.57 368.77 L144.85 370.17 L148.14 371.21 L151.43 372.25 L154.72 373.29 L158 374.33 L161.29 375.37 L164.58 376.41 L167.87 377.04 L171.15 377.6 L174.44 378.16 L177.73 378.72 L181.02 379.28 L184.3 379.84 L187.59 380.4" stroke="#2ca02c"/>
<path d="M59.38 356.31 L61.92 357.4 L64.46 358.49 L67 359.58 L69.53 360.67 L72.07 361.44 L74.61 362.2 L77.15 362.96 L79.69 363.72 L82.23 364.48 L84.77 365.3 L87.31 366.32 L89.85 367.33 L92.38 368.35 L94.92 369.36 L97.46 370.38 L100 371.39 L102.54 372.41 L105.08 373.43 L107.62 374.44 L110.16 375.46 L112.7 376.47 L115.23 376.95 L117.77 377.21 L120.31 377.48 L122.85 377.75 L125.39 378.02 L127.93 378.28 L130.47 378.55 L133.01 378.82 L135.54 379.09 L138.08 379.25 L140.62 379.39 L143.16 379.54 L145.7 379.68 L148.24 379.82 L150.78 379.97 L153.32 380.11 L155.86 380.26 L158.39 380.4" stroke="#7f7f7f"/>
<path d="M59.3 370.55 L61.86 369.47 L64.42 368.13 L66.98 366.8 L69.54 365.78 L72.1 365.29 L74.65 365.45 L77.21 366.2 L79.77 367.38 L82.33 368.86 L84.89 370.24 L87.45 371.33 L90.01 372.06 L92.57 372.48 L95.13 372.7 L97.69 372.88 L100.25 373.14 L102.81 373.51 L105.36 374.05 L107.92 374.71 L110.48 375.4 L113.04 376.03 L115.6 376.54 L118.16 376.9 L120.72 377.14 L123.28 377.3 L125.84 377.47 L128.4 377.7 L130.96 378 L133.52 378.36 L136.07 378.76 L138.63 379.15 L141.19 379.51 L143.75 379.81 L146.31 380.07 L148.87 380.4" stroke="#7f7f7f"/>
<path d="M59.3 371.08 L61.63 369.56 L63.97 367.7 L66.3 366.24 L68.63 365.76 L70.96 366.46 L73.3 368.06 L75.63 369.97 L77.96 371.55 L80.3 372.46 L82.63 372.79 L84.96 372.78 L87.29 372.86 L89.63 373.31 L91.96 374.13 L94.29 375.08 L96.63 375.86 L98.96 376.22 L101.29 376.11 L103.63 375.72 L105.96 375.33 L108.29 375.19 L110.62 375.38 L112.96 375.85 L115.29 376.44 L117.62 377 L119.96 377.43 L122.29 377.74 L124.62 378.02 L126.95 378.33 L129.29 378.71 L131.62 379.12 L133.95 379.5 L136.29 379.82 L138.62 380.06 L140.95 380.4" stroke="#bcbd22"/>
<path d="M59.38 318.36 L61.83 318.01 L64.28 317.66 L66.73 317.31 L69.19 316.96 L71.64 317.71 L74.09 318.69 L76.54 319.68 L78.99 320.87 L81.45 322.09 L83.9 323.32 L86.35 324.89 L88.8 327.34 L91.25 329.79 L93.7 332.06 L96.16 333.9 L98.61 335.74 L101.06 337.23 L103.51 338.71 L105.96 340.18 L108.42 342.58 L110.87 345.03 L113.32 347.48 L115.77 349.93 L118.22 352.38 L120.67 354.84 L123.13 356.31 L125.58 357.78 L128.03 359.26 L130.48 361.22 L132.93 363.19 L135.39 365.15 L137.84 367.11 L140.29 369.07 L142.74 371.03 L145.19 372.99 L147.64 374.96 L150.1 376.9 L152.55 378.65 L155 380.4" stroke="#d62728"/>
<path d="M59.38 365.07 L62.99 365.37 L66.59 365.67 L70.2 365.97 L73.8 366.27 L77.41 366.53 L81.01 366.53 L84.62 366.53 L88.22 366.53 L91.83 366.53 L95.44 366.53 L99.04 366.53 L102.65 366.53 L106.25 366.53 L109.86 366.53 L113.46 366.53 L117.07 366.63 L120.68 367.08 L124.28 367.53 L127.89 367.98 L131.49 368.34 L135.1 368.7 L138.7 369.06 L142.31 369.42 L145.92 370.23 L149.52 371.08 L153.13 371.93 L156.73 372.77 L160.34 373.61 L163.94 374.45 L167.55 375.28 L171.15 376.12 L174.76 376.95 L178.37 377.7 L181.97 378.15 L185.58 378.6 L189.18 379.05 L192.79 379.5 L196.39 379.95 L200 380.4" stroke="#17becf"/>
<path d="M59.3 367.94 L61 370.69 L62.71 372.12 L64.41 371.86 L66.12 370.78 L67.82 370.24 L69.52 370.96 L71.23 372.51 L72.93 373.75 L74.64 373.82 L76.34 372.77 L78.04 371.47 L79.75 370.86 L81.45 371.28 L83.16 372.2 L84.86 372.79 L86.57 372.63 L88.27 371.97 L89.97 371.47 L91.68 371.61 L93.38 372.39 L95.09 373.35 L96.79 374.02 L98.49 374.27 L100.2 374.35 L101.9 374.58 L103.61 375.16 L105.31 375.95 L107.01 376.7 L108.72 377.22 L110.42 377.56 L112.13 377.87 L113.83 378.27 L115.53 378.78 L117.24 379.34 L118.94 380.4" stroke="#ff7f0e"/>
<path d="M59.3 406.31 L61.24 404.78 L63.18 402.63 L65.12 400.53 L67.06 399.3 L69 399.36 L70.94 400.41 L72.88 401.61 L74.82 402.06 L76.76 401.31 L78.71 399.55 L80.65 397.33 L82.59 395.3 L84.53 393.92 L86.47 393.04 L88.41 392.24 L90.35 391.16 L92.29 389.76 L94.23 388.29 L96.17 387.15 L98.11 386.59 L100.05 386.59 L101.99 386.91 L103.93 387.15 L105.87 387.08 L107.81 386.69 L109.75 386.12 L111.69 385.56 L113.63 385.1 L115.57 384.71 L117.52 384.3 L119.46 383.79 L121.4 383.18 L123.34 382.52 L125.28 381.82 L127.22 380.4" stroke="#2ca02c"/>
<path d="M59.3 361.92 L61.1 365.15 L62.89 368.38 L64.69 369.75 L66.49 368.68 L68.28 366.3 L70.08 364.45 L71.88 364.14 L73.67 364.96 L75.47 365.73 L77.27 365.73 L79.06 365.4 L80.86 365.79 L82.65 367.46 L84.45 369.9 L86.25 371.99 L88.04 372.89 L89.84 372.7 L91.64 372.2 L93.43 372.09 L95.23 372.49 L97.03 372.97 L98.82 373.14 L100.62 373 L102.42 372.94 L104.21 373.35 L106.01 374.24 L107.81 375.26 L109.6 376.07 L111.4 376.55 L113.2 376.87 L114.99 377.24 L116.79 377.72 L118.59 378.27 L120.38 378.9 L122.18 380.4" stroke="#d62728"/>
<path d="M59.38 433.39 L62.06 438.76 L64.74 444.45 L67.43 450.71 L70.11 455.33 L72.79 459.35 L75.47 461.63 L78.15 462.52 L80.84 460.94 L83.52 459.15 L86.2 457.36 L88.88 455.43 L91.56 453.42 L94.25 451.41 L96.93 449.39 L99.61 447.28 L102.29 444.93 L104.97 442.59 L107.66 440.24 L110.34 437.89 L113.02 435.86 L115.7 433.85 L118.38 431.84 L121.07 429.83 L123.75 427.82 L126.43 425.81 L129.11 423.8 L131.79 421.78 L134.48 419.72 L137.16 417.48 L139.84 415.25 L142.52 413.01 L145.2 410.34 L147.89 407.66 L150.57 404.69 L153.25 400.86 L155.93 396.93 L158.61 392.82 L161.3 387.08 L163.98 380.4" stroke="#ff7f0e"/>
<path d="M59.3 376.86 L61.92 376.9 L64.54 377 L67.17 377.08 L69.79 377.21 L72.41 377.53 L75.03 378.21 L77.65 379.29 L80.27 380.68 L82.9 382.12 L85.52 383.25 L88.14 383.81 L90.76 383.67 L93.38 382.9 L96 381.74 L98.63 380.54 L101.25 379.62 L103.87 379.18 L106.49 379.28 L109.11 379.82 L111.73 380.55 L114.36 381.25 L116.98 381.71 L119.6 381.84 L122.22 381.67 L124.84 381.29 L127.47 380.85 L130.09 380.47 L132.71 380.21 L135.33 380.1 L137.95 380.08 L140.57 380.12 L143.2 380.18 L145.82 380.23 L148.44 380.28 L151.06 380.4" stroke="#8c564b"/>
<path d="M59.38 413.69 L63.26 413.2 L67.14 412.72 L71.02 412.23 L74.9 411.75 L78.78 411.37 L82.66 411.11 L86.54 410.85 L90.42 410.59 L94.3 410.34 L98.18 410.08 L102.06 410.15 L105.94 410.27 L109.82 410.4 L113.7 410.53 L117.58 410.66 L121.46 410.69 L125.34 410.3 L129.22 409.91 L133.1 409.53 L136.98 409.14 L140.86 408.75 L144.74 408.07 L148.62 407.16 L152.5 406.25 L156.38 404.42 L160.26 401.27 L164.14 399.72 L168.02 398.17 L171.9 396.61 L175.77 395.22 L179.65 394.06 L183.53 392.89 L187.41 391.73 L191.29 390.38 L195.17 388.92 L199.05 387.47 L202.93 385.36 L206.81 382.88 L210.69 380.4" stroke="#bcbd22"/>
<path d="M59.3 383.55 L61.94 382.5 L64.57 380.55 L67.21 377.85 L69.85 375.06 L72.48 373 L75.12 372.17 L77.75 372.48 L80.39 373.41 L83.03 374.3 L85.66 374.66 L88.3 374.48 L90.94 374.13 L93.57 374.06 L96.21 374.51 L98.84 375.42 L101.48 376.46 L104.12 377.27 L106.75 377.62 L109.39 377.57 L112.03 377.33 L114.66 377.19 L117.3 377.29 L119.94 377.64 L122.57 378.09 L125.21 378.49 L127.84 378.74 L130.48 378.88 L133.12 379 L135.75 379.17 L138.39 379.44 L141.03 379.75 L143.66 380.04 L146.3 380.26 L148.93 380.39 L151.57 380.4" stroke="#7f7f7f"/>
<path d="M59.38 443.61 L62.62 443.61 L65.87 443.61 L69.11 443.61 L72.35 442.83 L75.6 441.9 L78.84 440.97 L82.08 439.33 L85.33 437.39 L88.57 435.34 L91.81 433.18 L95.06 431.02 L98.3 428.05 L101.55 424.81 L104.79 421.56 L108.03 418.32 L111.28 415.07 L114.52 411.83 L117.76 408.59 L121.01 405.34 L124.25 402.1 L127.49 398.86 L130.74 395.61 L133.98 392.69 L137.22 390.1 L140.47 387.82 L143.71 386.52 L146.95 385.23 L150.2 384.63 L153.44 384.04 L156.68 385.72 L159.93 389.03 L163.17 388.05 L166.41 387.08 L169.66 386.11 L172.9 385.13 L176.15 384.02 L179.39 382.81 L182.63 381.61 L185.88 380.4" stroke="#8c564b"/>
<path d="M59.3 416.37 L61.65 416.23 L64 415.17 L66.35 413.59 L68.69 412.02 L71.04 410.86 L73.39 410.21 L75.74 409.85 L78.09 409.36 L80.44 408.32 L82.78 406.37 L85.13 403.91 L87.48 401.29 L89.83 398.92 L92.18 397.11 L94.53 395.93 L96.87 395.24 L99.22 394.78 L101.57 394.35 L103.92 393.75 L106.27 392.96 L108.62 392.08 L110.97 391.26 L113.31 390.6 L115.66 390.09 L118.01 389.66 L120.36 389.2 L122.71 388.6 L125.06 387.84 L127.4 386.96 L129.75 386.02 L132.1 385.1 L134.45 384.22 L136.8 383.36 L139.15 382.4 L141.5 380.4" stroke="#17becf"/>
<path d="M59.3 402.36 L61.08 401.07 L62.85 401.38 L64.63 403.55 L66.41 406.05 L68.19 406.88 L69.96 405.38 L71.74 402.62 L73.52 400.31 L75.29 399.22 L77.07 398.71 L78.85 397.67 L80.63 395.7 L82.4 393.53 L84.18 392.43 L85.96 392.7 L87.73 393.59 L89.51 394 L91.29 393.41 L93.07 392.2 L94.84 391.08 L96.62 390.39 L98.4 389.84 L100.18 388.96 L101.95 387.67 L103.73 386.27 L105.51 385.24 L107.28 384.73 L109.06 384.51 L110.84 384.25 L112.62 383.78 L114.39 383.22 L116.17 382.69 L117.95 382.19 L119.72 381.6 L121.5 380.4" stroke="#1f77b4"/>
<path d="M59.38 301.57 L63.93 303.39 L68.49 305.39 L73.04 307.67 L77.59 309.88 L82.15 311.7 L86.7 313.52 L91.25 315.34 L95.81 316.95 L100.36 318.54 L104.92 320.13 L109.47 321.75 L114.02 323.38 L118.58 326.01 L123.13 329.65 L127.68 334.11 L132.24 338.66 L136.79 343.21 L141.34 346.51 L145.9 349.13 L150.45 350.53 L155.01 351.93 L159.56 352.48 L164.11 353.02 L168.67 353.53 L173.22 353.99 L177.77 354.45 L182.33 354.95 L186.88 355.68 L191.43 356.88 L195.99 358.43 L200.54 360.69 L205.1 362.97 L209.65 365.24 L214.2 367.52 L218.76 369.87 L223.31 372.61 L227.86 375.6 L232.42 378.78 L236.97 380.4" stroke="#2ca02c"/>
<path d="M59.3 394.22 L60.65 395.11 L61.99 394.76 L63.34 393.54 L64.68 391.95 L66.03 390.5 L67.37 389.57 L68.72 389.3 L70.06 389.66 L71.41 390.46 L72.75 391.43 L74.1 392.33 L75.44 392.99 L76.79 393.34 L78.13 393.43 L79.48 393.32 L80.82 393.03 L82.17 392.62 L83.51 392.13 L84.86 391.52 L86.2 390.76 L87.55 389.85 L88.9 388.82 L90.24 387.76 L91.59 386.76 L92.93 385.93 L94.28 385.29 L95.62 384.85 L96.97 384.54 L98.31 384.27 L99.66 383.94 L101 383.5 L102.35 382.95 L103.69 382.29 L105.04 381.58 L106.38 380.4" stroke="#2ca02c"/>
<path d="M59.3 367.9 L61.57 370.02 L63.83 372.3 L66.1 373.77 L68.37 374.12 L70.63 373.85 L72.9 373.84 L75.17 374.73 L77.43 376.5 L79.7 378.52 L81.97 379.99 L84.23 380.45 L86.5 380.07 L88.77 379.39 L91.03 379.01 L93.3 379.17 L95.56 379.65 L97.83 380.04 L100.1 379.98 L102.36 379.42 L104.63 378.65 L106.9 378.03 L109.16 377.79 L111.43 377.91 L113.7 378.18 L115.96 378.38 L118.23 378.41 L120.5 378.32 L122.76 378.26 L125.03 378.34 L127.3 378.58 L129.56 378.88 L131.83 379.16 L134.1 379.4 L136.36 379.67 L138.63 380.4" stroke="#d62728"/>
<path d="M59.38 426.09 L62.48 423.61 L65.58 421.13 L68.68 419.11 L71.78 417.34 L74.88 415.57 L77.98 413.87 L81.08 412.32 L84.18 410.77 L87.28 409.22 L90.38 407.67 L93.48 406.32 L96.58 405.08 L99.68 403.84 L102.78 402.6 L105.88 401.36 L108.98 400.12 L112.08 398.88 L115.19 397.64 L118.29 396.4 L121.39 395.16 L124.49 393.92 L127.59 392.68 L130.69 391.44 L133.79 390.2 L136.89 389.17 L139.99 388.35 L143.09 387.53 L146.19 386.7 L149.29 385.88 L152.39 385.06 L155.49 384.23 L158.59 383.51 L161.69 383.06 L164.79 382.62 L167.89 382.17 L170.99 381.73 L174.09 381.29 L177.19 380.84 L180.29 380.4" stroke="#17becf"/>
<path d="M59.38 453.1 L62.55 450.88 L65.72 448.67 L68.89 446.73 L72.05 444.92 L75.22 443.11 L78.39 441.41 L81.56 439.82 L84.73 438.24 L87.9 436.65 L91.07 434.54 L94.23 432.27 L97.4 430.01 L100.57 427.9 L103.74 425.92 L106.91 423.94 L110.08 421.96 L113.25 420.79 L116.41 419.74 L119.58 418.56 L122.75 416.45 L125.92 414.34 L129.09 411.86 L132.26 408.69 L135.43 405.52 L138.6 401.89 L141.76 397.93 L144.93 394.56 L148.1 391.39 L151.27 389.8 L154.44 388.39 L157.61 388.28 L160.78 388.04 L163.94 387.09 L167.11 386.14 L170.28 385.19 L173.45 384.24 L176.62 383.02 L179.79 381.71 L182.96 380.4" stroke="#bcbd22"/>
<path d="M59.3 361.57 L62.14 365.56 L64.98 368.49 L67.82 370.29 L70.66 371.21 L73.5 371.67 L76.34 372.05 L79.18 372.55 L82.02 373.22 L84.86 373.89 L87.7 374.44 L90.54 374.82 L93.38 375.12 L96.22 375.51 L99.06 376.12 L101.9 376.96 L104.74 377.97 L107.58 378.96 L110.42 379.72 L113.26 380.07 L116.1 379.96 L118.94 379.5 L121.78 378.85 L124.62 378.23 L127.46 377.84 L130.3 377.72 L133.14 377.85 L135.98 378.13 L138.82 378.43 L141.66 378.7 L144.5 378.89 L147.34 379.02 L150.18 379.14 L153.02 379.32 L155.86 379.61 L158.7 380.4" stroke="#e377c2"/>
<path d="M59.3 341.7 L61.41 344.79 L63.51 347.13 L65.62 348.97 L67.73 350.65 L69.83 352.44 L71.94 354.45 L74.05 356.62 L76.15 358.72 L78.26 360.52 L80.37 361.85 L82.47 362.81 L84.58 363.3 L86.69 363.54 L88.8 363.81 L90.9 364.33 L93.01 365.23 L95.12 366.49 L97.22 368 L99.33 369.56 L101.44 370.91 L103.54 371.99 L105.65 372.84 L107.76 373.47 L109.86 373.99 L111.97 374.46 L114.08 374.96 L116.18 375.49 L118.29 376.04 L120.4 376.56 L122.5 377 L124.61 377.4 L126.72 377.79 L128.82 378.24 L130.93 378.86 L133.04 380.4" stroke="#7f7f7f"/>
<path d="M59.1 512.9 L61.39 505.3 L63.68 497.7 L65.97 490.09 L68.26 482.89 L70.55 475.69 L72.84 468.49 L75.13 461.61 L77.42 455.05 L79.71 449.66 L82.01 445.08 L84.3 440.54 L86.59 436.87 L88.88 433.21 L91.17 429.54 L93.46 425.88 L95.75 422.21 L98.04 418.55 L100.33 415.19 L102.62 411.98 L104.91 408.77 L107.2 405.46 L109.49 402.02 L111.78 398.59 L114.07 396.22 L116.36 393.93 L118.65 391.86 L120.94 390.14 L123.23 388.42 L125.53 386.99 L127.82 385.62 L130.11 384.24 L132.4 383.26 L134.69 382.5 L136.98 381.74 L139.27 380.97 L141.56 380.74 L143.85 380.63 L146.14 380.51 L148.43 380.4" stroke="#2ca02c"/>
<path d="M59.3 405.28 L61.77 404.1 L64.25 403.67 L66.72 403.34 L69.19 402.6 L71.67 401.27 L74.14 399.57 L76.61 397.96 L79.09 396.88 L81.56 396.42 L84.04 396.5 L86.51 396.83 L88.98 396.94 L91.46 396.54 L93.93 395.56 L96.4 394.21 L98.88 392.78 L101.35 391.59 L103.82 390.75 L106.3 390.17 L108.77 389.67 L111.24 389.09 L113.72 388.32 L116.19 387.39 L118.67 386.42 L121.14 385.54 L123.61 384.86 L126.09 384.38 L128.56 384.03 L131.03 383.73 L133.51 383.39 L135.98 382.99 L138.45 382.53 L140.93 382.05 L143.4 381.51 L145.87 380.4" stroke="#17becf"/>
<path d="M59.38 350.47 L63.63 350.17 L67.89 349.87 L72.14 349.49 L76.4 349.06 L80.65 348.64 L84.9 348.2 L89.16 347.66 L93.41 347.13 L97.67 346.19 L101.92 344.67 L106.18 343.17 L110.43 342.63 L114.68 342.1 L118.94 341.66 L123.19 341.44 L127.45 341.23 L131.7 341.02 L135.95 341.5 L140.21 342.1 L144.46 343.11 L148.72 344.61 L152.97 346.11 L157.23 348.57 L161.48 352.32 L165.73 356.57 L169.99 359.59 L174.24 362.13 L178.5 363.84 L182.75 365.41 L187 366.69 L191.26 367.57 L195.51 368.17 L199.77 368.84 L204.02 369.67 L208.28 371.37 L212.53 373.25 L216.78 375.38 L221.04 377.83 L225.29 380.4" stroke="#9467bd"/>
<path d="M59.3 352.31 L62.26 353.91 L65.22 354.52 L68.18 354.44 L71.14 354.1 L74.1 353.84 L77.06 353.94 L80.02 354.5 L82.98 355.89 L85.94 357.57 L88.9 359.38 L91.86 361.2 L94.82 362.95 L97.77 364.63 L100.73 366.17 L103.69 367.48 L106.65 368.74 L109.61 369.91 L112.57 370.96 L115.53 371.84 L118.49 372.56 L121.45 373.11 L124.41 373.57 L127.37 374.05 L130.33 374.59 L133.29 375.23 L136.25 375.97 L139.21 376.74 L142.17 377.48 L145.13 378.15 L148.09 378.71 L151.05 379.14 L154.01 379.47 L156.97 379.74 L159.93 379.99 L162.89 380.4" stroke="#ff7f0e"/>
<path d="M59.38 350.47 L61.39 353.16 L63.41 355.85 L65.42 357.98 L67.44 359.99 L69.45 362.01 L71.47 363.65 L73.48 365.26 L75.5 366.87 L77.51 368.36 L79.53 369.57 L81.54 370.78 L83.56 371.99 L85.57 373.06 L87.59 374.07 L89.6 375.07 L91.62 376.08 L93.63 376.82 L95.65 377.04 L97.66 377.25 L99.68 377.46 L101.69 377.67 L103.7 377.88 L105.72 378.1 L107.73 378.31 L109.75 378.52 L111.76 378.73 L113.78 378.95 L115.79 379.14 L117.81 379.26 L119.82 379.37 L121.84 379.49 L123.85 379.6 L125.87 379.71 L127.88 379.83 L129.9 379.94 L131.91 380.06 L133.93 380.17 L135.94 380.29 L137.96 380.4" stroke="#8c564b"/>
<path d="M59.3 381.69 L61.84 382.88 L64.37 384.94 L66.91 386.86 L69.45 387.61 L71.99 386.81 L74.52 384.98 L77.06 383.13 L79.6 382.09 L82.14 381.99 L84.67 382.36 L87.21 382.48 L89.75 381.97 L92.29 381.03 L94.82 380.19 L97.36 379.97 L99.9 380.46 L102.44 381.36 L104.97 382.15 L107.51 382.5 L110.05 382.4 L112.59 382.08 L115.12 381.86 L117.66 381.86 L120.2 382 L122.74 382.05 L125.27 381.9 L127.81 381.53 L130.35 381.1 L132.88 380.77 L135.42 380.58 L137.96 380.52 L140.5 380.5 L143.03 380.47 L145.57 380.43 L148.11 380.4" stroke="#d62728"/>
<path d="M59.38 300.84 L61.66 303.58 L63.95 306.32 L66.23 309.06 L68.51 311.8 L70.8 314.54 L73.08 317.28 L75.36 319.15 L77.65 320.45 L79.93 321.76 L82.21 323.06 L84.5 324.4 L86.78 325.92 L89.06 327.44 L91.35 328.96 L93.63 330.52 L95.91 332.15 L98.2 333.78 L100.48 335.41 L102.76 337.04 L105.05 339.21 L107.33 341.49 L109.61 343.77 L111.9 346.34 L114.18 349.08 L116.46 351.82 L118.75 354.61 L121.03 357.46 L123.31 360.32 L125.6 362.28 L127.88 364.11 L130.16 365.93 L132.45 367.68 L134.73 369.4 L137.01 371.17 L139.3 373.46 L141.58 375.74 L143.86 377.55 L146.15 378.97 L148.43 380.4" stroke="#bcbd22"/>
<path d="M59.38 302.3 L62.67 309.97 L65.95 316.91 L69.24 323.48 L72.53 328.59 L75.82 333.15 L79.1 334.79 L82.39 336.43 L85.68 337.83 L88.97 338.93 L92.25 340.02 L95.54 341.36 L98.83 342.77 L102.12 344.18 L105.4 345.91 L108.69 347.79 L111.98 349.67 L115.27 351.54 L118.55 353.42 L121.84 355.3 L125.13 357.18 L128.42 359.06 L131.7 360.94 L134.99 362.93 L138.28 365.12 L141.57 367.31 L144.85 368.8 L148.14 369.98 L151.43 371.16 L154.72 372.34 L158 373.52 L161.29 374.7 L164.58 375.87 L167.87 376.59 L171.15 377.23 L174.44 377.86 L177.73 378.5 L181.02 379.13 L184.3 379.77 L187.59 380.4" stroke="#2ca02c"/>
<path d="M59.3 372.9 L60.98 372.5 L62.67 373.21 L64.35 374.18 L66.03 374.66 L67.71 374.43 L69.4 373.84 L71.08 373.55 L72.76 374.1 L74.45 375.52 L76.13 377.35 L77.81 378.89 L79.5 379.6 L81.18 379.36 L82.86 378.53 L84.54 377.64 L86.23 377.12 L87.91 377.09 L89.59 377.33 L91.28 377.52 L92.96 377.41 L94.64 377.03 L96.33 376.6 L98.01 376.4 L99.69 376.58 L101.37 377.09 L103.06 377.76 L104.74 378.37 L106.42 378.79 L108.11 379.01 L109.79 379.13 L111.47 379.27 L113.15 379.46 L114.84 379.68 L116.52 379.91 L118.2 380.4" stroke="#e377c2"/>
<path d="M59.38 417.34 L62.59 416.88 L65.8 416.42 L69.02 415.96 L72.23 416.14 L75.44 416.46 L78.66 416.78 L81.87 417.1 L85.08 417 L88.29 415.8 L91.51 414.6 L94.72 413.39 L97.93 412.34 L101.14 411.38 L104.36 410.41 L107.57 409.45 L110.78 408.48 L113.99 407.52 L117.21 406.56 L120.42 405.59 L123.63 404.63 L126.84 403.67 L130.06 402.7 L133.27 401.74 L136.48 400.77 L139.69 399.8 L142.91 398 L146.12 396.2 L149.33 394.4 L152.55 392.6 L155.76 390.79 L158.97 388.99 L162.18 387.19 L165.4 386.22 L168.61 385.25 L171.82 384.28 L175.03 383.31 L178.25 382.34 L181.46 381.37 L184.67 380.4" stroke="#17becf"/>
<path d="M59.38 318.36 L63.37 321.55 L67.36 324.78 L71.36 328.21 L75.35 331.63 L79.34 333.69 L83.33 334.89 L87.32 335.73 L91.32 336.48 L95.31 337.23 L99.3 338.36 L103.29 339.56 L107.29 340.76 L111.28 342.04 L115.27 343.63 L119.26 345.23 L123.25 346.83 L127.25 348.42 L131.24 350.02 L135.23 351.62 L139.22 353.21 L143.21 354.24 L147.21 355.19 L151.2 356.14 L155.19 357.07 L159.18 357.67 L163.18 358.81 L167.17 360.01 L171.16 361.21 L175.15 362.4 L179.14 363.6 L183.14 364.8 L187.13 366 L191.12 367.43 L195.11 369.02 L199.1 371.22 L203.1 373.62 L207.09 376.01 L211.08 378.37 L215.07 380.4" stroke="#8c564b"/>
<path d="M59.38 336.61 L61.62 339.22 L63.86 341.86 L66.1 345.22 L68.34 348.58 L70.58 351.65 L72.82 354.34 L75.06 357.02 L77.29 359.55 L79.53 361.34 L81.77 363.13 L84.01 364.93 L86.25 366.44 L88.49 367.94 L90.73 369.43 L92.97 370.92 L95.21 372.04 L97.45 373.16 L99.69 374.28 L101.93 375.32 L104.17 375.65 L106.41 375.98 L108.65 376.31 L110.89 376.65 L113.12 376.98 L115.36 377.31 L117.6 377.64 L119.84 377.97 L122.08 378.3 L124.32 378.62 L126.56 378.8 L128.8 378.98 L131.04 379.15 L133.28 379.33 L135.52 379.51 L137.76 379.69 L140 379.87 L142.24 380.04 L144.48 380.22 L146.72 380.4" stroke="#9467bd"/>
<path d="M59.3 350.96 L60.81 349.32 L62.32 347.32 L63.84 346.02 L65.35 345.71 L66.86 345.87 L68.37 345.76 L69.88 345.02 L71.39 344.01 L72.91 343.57 L74.42 344.39 L75.93 346.54 L77.44 349.43 L78.95 352.11 L80.47 353.95 L81.98 354.94 L83.49 355.39 L85 355.91 L86.51 356.87 L88.02 358.23 L89.54 359.65 L91.05 360.86 L92.56 361.83 L94.07 362.8 L95.58 364.07 L97.1 365.79 L98.61 367.8 L100.12 369.81 L101.63 371.49 L103.14 372.82 L104.65 373.9 L106.17 374.9 L107.68 375.94 L109.19 377.06 L110.7 378.27 L112.21 380.4" stroke="#1f77b4"/>
<path d="M59.3 376.86 L61.86 373.52 L64.42 371.02 L66.98 369.87 L69.53 370.05 L72.09 371.11 L74.65 372.4 L77.21 373.41 L79.77 373.93 L82.33 374.13 L84.88 374.26 L87.44 374.59 L90 375.21 L92.56 375.96 L95.12 376.58 L97.68 376.81 L100.23 376.58 L102.79 375.97 L105.35 375.3 L107.91 374.85 L110.47 374.83 L113.03 375.26 L115.59 376.01 L118.14 376.87 L120.7 377.64 L123.26 378.21 L125.82 378.59 L128.38 378.85 L130.94 379.06 L133.49 379.28 L136.05 379.51 L138.61 379.72 L141.17 379.9 L143.73 380.03 L146.29 380.16 L148.85 380.4" stroke="#ff7f0e"/>
<path d="M59.3 405.27 L60.74 406.03 L62.17 407.94 L63.61 409.08 L65.05 407.97 L66.49 405 L67.92 402 L69.36 400.5 L70.8 400.38 L72.23 400.27 L73.67 399.12 L75.11 397.25 L76.55 395.93 L77.98 396.09 L79.42 397.34 L80.86 398.4 L82.29 398.34 L83.73 397.39 L85.17 396.41 L86.6 396.02 L88.04 395.98 L89.48 395.56 L90.92 394.36 L92.35 392.67 L93.79 391.17 L95.23 390.23 L96.66 389.7 L98.1 389.14 L99.54 388.33 L100.98 387.42 L102.41 386.64 L103.85 386.03 L105.29 385.41 L106.72 384.53 L108.16 383.26 L109.6 380.4" stroke="#2ca02c"/>
<path d="M59.3 387.4 L60.98 385.56 L62.67 382.76 L64.35 379.92 L66.04 378.12 L67.72 377.88 L69.4 378.93 L71.09 380.36 L72.77 381.27 L74.46 381.3 L76.14 380.74 L77.82 380.27 L79.51 380.42 L81.19 381.2 L82.87 382.14 L84.56 382.64 L86.24 382.36 L87.93 381.42 L89.61 380.33 L91.29 379.56 L92.98 379.35 L94.66 379.57 L96.35 379.87 L98.03 379.99 L99.71 379.89 L101.4 379.72 L103.08 379.71 L104.77 379.98 L106.45 380.45 L108.13 380.92 L109.82 381.24 L111.5 381.35 L113.19 381.29 L114.87 381.16 L116.55 380.98 L118.24 380.4" stroke="#d62728"/>
<path d="M59.3 326.73 L60.89 327.64 L62.49 328.62 L64.08 329.87 L65.68 331.43 L67.27 333.17 L68.87 334.86 L70.46 336.25 L72.06 337.2 L73.65 337.67 L75.25 337.81 L76.84 337.87 L78.44 338.11 L80.03 338.81 L81.63 340.42 L83.22 342.57 L84.82 345.13 L86.41 347.87 L88.01 350.59 L89.6 353.11 L91.2 355.35 L92.79 357.32 L94.39 359.1 L95.98 360.78 L97.58 362.44 L99.17 364.13 L100.77 365.76 L102.36 367.31 L103.96 368.8 L105.55 370.2 L107.15 371.51 L108.74 372.78 L110.34 374.06 L111.93 375.45 L113.53 377.08 L115.12 380.4" stroke="#9467bd"/>
<path d="M59.3 392.78 L60.93 394.49 L62.57 394.77 L64.2 392.92 L65.83 389.92 L67.47 387.57 L69.1 387 L70.74 387.86 L72.37 388.87 L74 388.99 L75.64 388.37 L77.27 387.99 L78.9 388.68 L80.54 390.25 L82.17 391.66 L83.81 391.99 L85.44 391.12 L87.07 389.71 L88.71 388.61 L90.34 388.08 L91.97 387.78 L93.61 387.16 L95.24 386.06 L96.87 384.83 L98.51 383.99 L100.14 383.73 L101.78 383.84 L103.41 383.9 L105.04 383.68 L106.68 383.25 L108.31 382.82 L109.94 382.5 L111.58 382.21 L113.21 381.84 L114.84 381.32 L116.48 380.4" stroke="#8c564b"/>
<path d="M59.3 379.26 L61.75 379.53 L64.2 378.93 L66.66 377.95 L69.11 377.06 L71.56 376.48 L74.01 376.18 L76.46 375.97 L78.92 375.66 L81.37 375.2 L83.82 374.74 L86.27 374.49 L88.72 374.7 L91.18 375.45 L93.63 376.65 L96.08 378.02 L98.53 379.2 L100.98 379.91 L103.44 380.03 L105.89 379.66 L108.34 379.01 L110.79 378.37 L113.24 377.97 L115.69 377.91 L118.15 378.17 L120.6 378.62 L123.05 379.11 L125.5 379.52 L127.95 379.81 L130.41 379.98 L132.86 380.08 L135.31 380.15 L137.76 380.22 L140.21 380.28 L142.67 380.34 L145.12 380.4" stroke="#e377c2"/>
<path d="M59.3 410.9 L62.12 413.05 L64.94 413.11 L67.75 411.06 L70.57 408.62 L73.39 407.36 L76.21 407.26 L79.03 406.89 L81.84 404.8 L84.66 401.42 L87.48 398.3 L90.3 396.55 L93.11 395.97 L95.93 395.53 L98.75 394.41 L101.57 392.84 L104.39 391.6 L107.2 391.17 L110.02 391.3 L112.84 391.27 L115.66 390.62 L118.48 389.5 L121.29 388.43 L124.11 387.69 L126.93 387.17 L129.75 386.53 L132.56 385.63 L135.38 384.62 L138.2 383.76 L141.02 383.17 L143.84 382.77 L146.65 382.37 L149.47 381.93 L152.29 381.5 L155.11 381.1 L157.93 380.4" stroke="#7f7f7f"/>
<path d="M59.38 323.47 L61.51 324.96 L63.65 326.45 L65.78 327.95 L67.91 329.64 L70.05 331.46 L72.18 333.29 L74.31 335.12 L76.45 336.95 L78.58 338.35 L80.72 339.63 L82.85 340.91 L84.98 342.24 L87.12 343.66 L89.25 345.08 L91.38 346.51 L93.52 347.98 L95.65 349.58 L97.78 351.18 L99.92 352.68 L102.05 354.11 L104.19 355.53 L106.32 356.95 L108.45 358.37 L110.59 359.8 L112.72 361.22 L114.85 362.64 L116.99 364.06 L119.12 365.48 L121.25 366.91 L123.39 368.33 L125.52 369.71 L127.66 370.96 L129.79 372.2 L131.92 373.45 L134.06 374.71 L136.19 376.13 L138.32 377.56 L140.46 378.98 L142.59 380.4" stroke="#1f77b4"/>
<path d="M59.3 356.19 L61.86 359.24 L64.43 361.02 L66.99 361.53 L69.55 361.55 L72.11 361.91 L74.68 362.85 L77.24 363.84 L79.8 364.12 L82.36 363.45 L84.93 362.15 L87.49 361.11 L90.05 361.11 L92.61 362.36 L95.18 364.41 L97.74 366.5 L100.3 368.05 L102.86 368.88 L105.43 369.38 L107.99 369.93 L110.55 370.67 L113.12 371.5 L115.68 372.16 L118.24 372.51 L120.8 372.65 L123.37 372.8 L125.93 373.21 L128.49 373.93 L131.05 374.82 L133.62 375.71 L136.18 376.47 L138.74 377.08 L141.3 377.65 L143.87 378.24 L146.43 378.94 L148.99 380.4" stroke="#17becf"/>
<path d="M59.3 341.28 L62.24 346.54 L65.17 351.59 L68.11 356.13 L71.05 360.04 L73.98 363.32 L76.92 366.11 L79.85 368.55 L82.79 371.04 L85.73 373.33 L88.66 375.41 L91.6 377.19 L94.54 378.58 L97.47 379.54 L100.41 380.06 L103.34 380.09 L106.28 379.93 L109.22 379.74 L112.15 379.64 L115.09 379.72 L118.03 379.97 L120.96 380.32 L123.9 380.65 L126.83 380.92 L129.77 381.07 L132.71 381.06 L135.64 380.89 L138.58 380.61 L141.52 380.31 L144.45 380.05 L147.39 379.84 L150.32 379.72 L153.26 379.69 L156.2 379.76 L159.13 379.92 L162.07 380.4" stroke="#1f77b4"/>
<path d="M59.38 343.91 L61.77 345.1 L64.16 346.39 L66.55 348.19 L68.94 349.98 L71.33 351.86 L73.71 353.77 L76.1 355.68 L78.49 357.59 L80.88 359.5 L83.27 361.41 L85.66 363.32 L88.05 365.23 L90.44 367.15 L92.83 368.79 L95.22 370.22 L97.61 371.66 L99.99 372.77 L102.38 373.57 L104.77 374.36 L107.16 375.16 L109.55 375.59 L111.94 375.94 L114.33 376.29 L116.72 376.64 L119.11 377 L121.5 377.35 L123.89 377.7 L126.27 378.05 L128.66 378.41 L131.05 378.69 L133.44 378.88 L135.83 379.07 L138.22 379.26 L140.61 379.45 L143 379.64 L145.39 379.83 L147.78 380.02 L150.17 380.21 L152.55 380.4" stroke="#ff7f0e"/>
<path d="M59.3 394.07 L61.47 392.62 L63.63 393.4 L65.8 394.39 L67.96 394.01 L70.13 392.56 L72.3 391.64 L74.46 392.28 L76.63 393.87 L78.79 394.75 L80.96 393.81 L83.13 391.57 L85.29 389.51 L87.46 388.49 L89.63 388.13 L91.79 387.44 L93.96 385.96 L96.12 384.22 L98.29 383.11 L100.46 383.01 L102.62 383.49 L104.79 383.8 L106.95 383.61 L109.12 383.2 L111.29 383.02 L113.45 383.17 L115.62 383.36 L117.78 383.26 L119.95 382.8 L122.12 382.25 L124.28 381.84 L126.45 381.61 L128.62 381.41 L130.78 381.16 L132.95 380.87 L135.11 380.4" stroke="#2ca02c"/>
<path d="M59.3 397.58 L61.47 396.86 L63.64 395.87 L65.81 394.56 L67.99 393 L70.16 391.42 L72.33 390.11 L74.5 389.33 L76.67 389.21 L78.84 389.7 L81.02 390.54 L83.19 391.41 L85.36 392.08 L87.53 392.31 L89.7 391.99 L91.87 391.17 L94.05 389.99 L96.22 388.67 L98.39 387.39 L100.56 386.33 L102.73 385.55 L104.9 384.99 L107.07 384.59 L109.25 384.25 L111.42 383.91 L113.59 383.55 L115.76 383.17 L117.93 382.81 L120.1 382.49 L122.28 382.23 L124.45 382.03 L126.62 381.85 L128.79 381.65 L130.96 381.39 L133.13 381.06 L135.3 380.4" stroke="#d62728"/>
<path d="M59.3 375.19 L61.71 375.87 L64.12 377.37 L66.54 379.08 L68.95 380.06 L71.36 379.68 L73.77 378.02 L76.19 375.85 L78.6 374.13 L81.01 373.53 L83.42 374.03 L85.83 375.05 L88.25 375.95 L90.66 376.37 L93.07 376.44 L95.48 376.55 L97.9 377.04 L100.31 377.97 L102.72 379.03 L105.13 379.86 L107.54 380.16 L109.96 379.93 L112.37 379.44 L114.78 378.99 L117.19 378.79 L119.61 378.84 L122.02 379.01 L124.43 379.15 L126.84 379.21 L129.25 379.23 L131.67 379.29 L134.08 379.45 L136.49 379.69 L138.9 379.92 L141.32 380.12 L143.73 380.4" stroke="#9467bd"/>
<path d="M59.3 373.51 L60.48 374.98 L61.65 374.3 L62.83 372.73 L64.01 371.98 L65.18 372.7 L66.36 374.05 L67.54 374.68 L68.71 373.92 L69.89 372.46 L71.07 371.61 L72.24 372.2 L73.42 373.86 L74.6 375.51 L75.77 376.26 L76.95 376.21 L78.13 376.15 L79.3 376.81 L80.48 378.16 L81.66 379.51 L82.84 380.13 L84.01 379.9 L85.19 379.3 L86.37 378.95 L87.54 379.04 L88.72 379.29 L89.9 379.3 L91.07 378.94 L92.25 378.45 L93.43 378.16 L94.6 378.22 L95.78 378.52 L96.96 378.83 L98.13 379.11 L99.31 379.47 L100.49 380.4" stroke="#8c564b"/>
<path d="M59.3 431.38 L61.47 430.25 L63.63 427.58 L65.8 424.1 L67.96 420.88 L70.13 418.77 L72.29 417.96 L74.46 417.97 L76.62 418.05 L78.79 417.61 L80.95 416.3 L83.12 414.45 L85.28 412.87 L87.45 411.83 L89.61 411.2 L91.78 410.51 L93.94 409.31 L96.11 407.37 L98.27 404.85 L100.44 402.18 L102.6 399.85 L104.77 397.94 L106.93 396.4 L109.1 395.04 L111.26 393.67 L113.43 392.19 L115.59 390.7 L117.76 389.33 L119.93 388.16 L122.09 387.19 L124.26 386.31 L126.42 385.41 L128.59 384.43 L130.75 383.38 L132.92 382.27 L135.08 380.4" stroke="#e377c2"/>
<path d="M59.3 412.46 L61.93 412.61 L64.56 412.05 L67.19 409.59 L69.82 405.98 L72.45 403.13 L75.08 402.27 L77.71 402.94 L80.34 403.51 L82.97 402.66 L85.6 401.05 L88.23 399.85 L90.86 399.72 L93.49 400.16 L96.12 400.07 L98.75 398.83 L101.38 396.88 L104.02 395.07 L106.65 393.85 L109.28 393.03 L111.91 392.04 L114.54 390.61 L117.17 388.98 L119.8 387.67 L122.43 386.9 L125.06 386.47 L127.69 386.01 L130.32 385.35 L132.95 384.6 L135.58 383.95 L138.21 383.45 L140.84 383.02 L143.47 382.54 L146.1 381.97 L148.73 381.37 L151.36 380.4" stroke="#7f7f7f"/>
<path d="M59.38 431.2 L61.09 426.34 L62.81 421.48 L64.53 416.24 L66.24 410.52 L67.96 404.81 L69.67 399.09 L71.39 393.37 L73.1 388.43 L74.82 385 L76.53 381.57 L78.25 379.26 L79.96 377.26 L81.68 375.78 L83.39 376.02 L85.11 376.25 L86.82 376.48 L88.54 376.71 L90.26 376.94 L91.97 377.17 L93.69 377.4 L95.4 377.64 L97.12 377.87 L98.83 378.1 L100.55 378.33 L102.26 378.56 L103.98 378.78 L105.69 378.9 L107.41 379.03 L109.12 379.15 L110.84 379.28 L112.55 379.4 L114.27 379.53 L115.99 379.65 L117.7 379.78 L119.42 379.9 L121.13 380.03 L122.85 380.15 L124.56 380.28 L126.28 380.4" stroke="#d62728"/>
<path d="M59.3 380.4 L324.2 380.4" stroke="#8c564b"/>
</g>
<g fill="none" stroke-width="1.55" stroke-linejoin="round" stroke-linecap="round" clip-path="url(#cle)">
<path d="M59.3 698.26 L60.88 700.12 L62.46 700.28 L64.03 699.36 L65.61 698.4 L67.19 698.25 L68.77 699.02 L70.35 700.17 L71.93 700.87 L73.5 700.55 L75.08 699.25 L76.66 697.54 L78.24 696.2 L79.82 695.72 L81.39 696.07 L82.97 696.78 L84.55 697.29 L86.13 697.25 L87.71 696.74 L89.29 696.13 L90.86 695.84 L92.44 696.04 L94.02 696.61 L95.6 697.19 L97.18 697.48 L98.75 697.35 L100.33 696.91 L101.91 696.4 L103.49 696.01 L105.07 695.8 L106.64 695.67 L108.22 695.49 L109.8 695.2 L111.38 694.85 L112.96 694.53 L114.54 694.2" stroke="#1f77b4"/>
<path d="M59.3 722.43 L61.55 723.28 L63.8 724.48 L66.04 725.45 L68.29 725.77 L70.54 725.28 L72.79 724.19 L75.04 722.86 L77.28 721.7 L79.53 720.98 L81.78 720.71 L84.03 720.72 L86.28 720.69 L88.52 720.3 L90.77 719.37 L93.02 717.88 L95.27 716.03 L97.52 714.06 L99.76 712.22 L102.01 710.59 L104.26 709.26 L106.51 708.14 L108.76 707.07 L111 705.93 L113.25 704.66 L115.5 703.29 L117.75 701.92 L120 700.65 L122.24 699.56 L124.49 698.68 L126.74 697.95 L128.99 697.3 L131.24 696.68 L133.48 696.04 L135.73 695.35 L137.98 694.2" stroke="#ff7f0e"/>
<path d="M59.38 697.92 L62.74 699.84 L66.1 701.76 L69.47 703.68 L72.83 706.45 L76.19 709.25 L79.55 711.86 L82.92 714.1 L86.28 716.34 L89.64 718.16 L93 719.84 L96.37 721.42 L99.73 722.38 L103.09 723.34 L106.45 724.13 L109.81 723.45 L113.18 722.78 L116.54 720.85 L119.9 718.83 L123.26 715.79 L126.63 712.42 L129.99 709.4 L133.35 706.59 L136.71 703.79 L140.08 701.54 L143.44 699.3 L146.8 697.78 L150.16 697.42 L153.53 697.06 L156.89 696.7 L160.25 696.34 L163.61 695.97 L166.97 695.61 L170.34 695.37 L173.7 695.17 L177.06 694.98 L180.42 694.78 L183.79 694.59 L187.15 694.39 L190.51 694.2" stroke="#ff7f0e"/>
<path d="M59.3 703.72 L60.92 703.27 L62.54 702.36 L64.16 702.16 L65.78 703.19 L67.4 705.04 L69.02 706.64 L70.64 707.03 L72.26 705.98 L73.88 704.08 L75.5 702.27 L77.12 701.28 L78.74 701.16 L80.36 701.35 L81.98 701.16 L83.61 700.25 L85.23 698.82 L86.85 697.46 L88.47 696.73 L90.09 696.77 L91.71 697.3 L93.33 697.82 L94.95 697.98 L96.57 697.74 L98.19 697.34 L99.81 697.1 L101.43 697.13 L103.05 697.35 L104.67 697.51 L106.29 697.43 L107.91 697.07 L109.53 696.58 L111.15 696.08 L112.77 695.65 L114.39 695.19 L116.01 694.2" stroke="#d62728"/>
<path d="M59.38 755.58 L61.77 752.48 L64.16 749.37 L66.55 746.27 L68.94 742.48 L71.33 738.66 L73.71 734.84 L76.1 731.87 L78.49 729 L80.88 726.13 L83.27 723.27 L85.66 720.4 L88.05 717.53 L90.44 714.29 L92.83 710.95 L95.22 707.6 L97.61 703.65 L99.99 699.47 L102.38 695.62 L104.77 692.64 L107.16 689.65 L109.55 689.45 L111.94 689.8 L114.33 690.15 L116.72 690.49 L119.11 690.84 L121.5 691.19 L123.89 691.54 L126.27 691.89 L128.66 692.23 L131.05 692.51 L133.44 692.7 L135.83 692.89 L138.22 693.08 L140.61 693.26 L143 693.45 L145.39 693.64 L147.78 693.83 L150.17 694.01 L152.55 694.2" stroke="#bcbd22"/>
<path d="M59.38 771.64 L63.41 770.78 L67.44 769.92 L71.47 768.99 L75.5 767.98 L79.53 766.97 L83.56 765.56 L87.59 763.83 L91.62 762.07 L95.65 759.39 L99.68 756.7 L103.7 753.44 L107.73 750.08 L111.76 746.66 L115.79 743.2 L119.82 739.96 L123.85 737.95 L127.88 735.93 L131.91 734.2 L135.94 732.47 L139.97 730.62 L144 728.6 L148.03 726.92 L152.06 726.19 L156.09 725.15 L160.12 723.27 L164.15 721.34 L168.18 719.32 L172.21 717.39 L176.24 715.71 L180.27 714.07 L184.3 713.06 L188.33 712.05 L192.36 710.51 L196.38 708.84 L200.41 706.42 L204.44 703.8 L208.47 700.57 L212.5 697.37 L216.53 694.2" stroke="#1f77b4"/>
<path d="M59.3 737.95 L61.02 736.74 L62.74 734.15 L64.47 730.93 L66.19 728.45 L67.91 727.75 L69.63 728.88 L71.36 730.88 L73.08 732.42 L74.8 732.66 L76.52 731.67 L78.24 730.18 L79.97 728.93 L81.69 728.16 L83.41 727.49 L85.13 726.31 L86.86 724.25 L88.58 721.54 L90.3 718.81 L92.02 716.72 L93.74 715.49 L95.47 714.87 L97.19 714.35 L98.91 713.5 L100.63 712.22 L102.35 710.69 L104.08 709.25 L105.8 708 L107.52 706.83 L109.24 705.54 L110.97 704.02 L112.69 702.34 L114.41 700.66 L116.13 699.06 L117.85 697.43 L119.58 694.2" stroke="#e377c2"/>
<path d="M59.38 746.09 L61.84 743.98 L64.31 741.87 L66.77 739.76 L69.24 737.65 L71.7 734.81 L74.16 731.86 L76.63 728.9 L79.09 726.82 L81.56 724.85 L84.02 722.88 L86.48 721.21 L88.95 719.57 L91.41 717.93 L93.88 716.29 L96.34 714.64 L98.8 713 L101.27 711.36 L103.73 709.38 L106.2 707.33 L108.66 705.27 L111.12 703.58 L113.59 702.9 L116.05 702.22 L118.51 701.54 L120.98 700.86 L123.44 700.18 L125.91 699.5 L128.37 698.82 L130.83 698.14 L133.3 697.5 L135.76 697.13 L138.23 696.76 L140.69 696.4 L143.15 696.03 L145.62 695.67 L148.08 695.3 L150.55 694.93 L153.01 694.57 L155.47 694.2" stroke="#ff7f0e"/>
<path d="M59.3 700.62 L60.5 698.69 L61.71 697.23 L62.91 697.41 L64.12 698.39 L65.32 698.39 L66.52 696.48 L67.73 693.55 L68.93 691.45 L70.14 691.34 L71.34 692.75 L72.54 694.19 L73.75 694.57 L74.95 694.14 L76.15 694.01 L77.36 694.99 L78.56 696.78 L79.77 698.27 L80.97 698.6 L82.17 697.84 L83.38 696.85 L84.58 696.39 L85.79 696.49 L86.99 696.61 L88.19 696.23 L89.4 695.41 L90.6 694.65 L91.81 694.4 L93.01 694.66 L94.21 695.05 L95.42 695.23 L96.62 695.17 L97.82 695.04 L99.03 694.96 L100.23 694.85 L101.44 694.2" stroke="#bcbd22"/>
<path d="M59.38 661.05 L62.44 659.74 L65.51 658.43 L68.57 657.11 L71.63 656.47 L74.69 656.16 L77.76 656.13 L80.82 656.78 L83.88 657.44 L86.95 658.09 L90.01 659.22 L93.07 660.36 L96.13 661.51 L99.2 662.66 L102.26 663.81 L105.32 664.96 L108.39 666.11 L111.45 667.38 L114.51 668.91 L117.57 670.44 L120.64 671.97 L123.7 673.5 L126.76 675.03 L129.83 676.57 L132.89 678.1 L135.95 679.53 L139.01 680.91 L142.08 682.29 L145.14 683.68 L148.2 685.06 L151.27 686.44 L154.33 687.82 L157.39 688.99 L160.45 689.73 L163.52 690.48 L166.58 691.22 L169.64 691.97 L172.71 692.71 L175.77 693.46 L178.83 694.2" stroke="#1f77b4"/>
<path d="M59.38 724.2 L62.29 723.36 L65.21 722.53 L68.12 721.7 L71.03 721.13 L73.95 720.84 L76.86 720.55 L79.77 720.26 L82.68 719.97 L85.6 719.68 L88.51 719.39 L91.42 719.09 L94.34 718.8 L97.25 718.51 L100.16 718.08 L103.08 717.5 L105.99 716.92 L108.9 716.34 L111.82 715.75 L114.73 715.04 L117.64 714.16 L120.56 713.29 L123.47 712.42 L126.38 711.54 L129.3 710.42 L132.21 709.01 L135.12 707.59 L138.03 706.17 L140.95 704.75 L143.86 703.33 L146.77 701.91 L149.69 700.49 L152.6 699.55 L155.51 698.78 L158.43 698.02 L161.34 697.26 L164.25 696.49 L167.17 695.73 L170.08 694.96 L172.99 694.2" stroke="#17becf"/>
<path d="M59.38 734.42 L62.67 734.89 L65.95 735.36 L69.24 735.82 L72.53 735.29 L75.82 734.63 L79.1 733.97 L82.39 733.32 L85.68 732.51 L88.97 731.53 L92.25 730.54 L95.54 729.55 L98.83 728.56 L102.12 727.25 L105.4 725.93 L108.69 724.62 L111.98 723.3 L115.27 721.99 L118.55 720.67 L121.84 719.36 L125.13 718.04 L128.42 716.73 L131.7 715.41 L134.99 714.1 L138.28 712.78 L141.57 711.47 L144.85 709.96 L148.14 708.36 L151.43 706.75 L154.72 705.15 L158 703.55 L161.29 701.95 L164.58 700.35 L167.87 699.37 L171.15 698.51 L174.44 697.65 L177.73 696.79 L181.02 695.92 L184.3 695.06 L187.59 694.2" stroke="#17becf"/>
<path d="M59.3 706.45 L62.37 706.64 L65.45 704.76 L68.52 702.16 L71.6 700.23 L74.67 699.57 L77.75 699.7 L80.82 699.67 L83.9 698.84 L86.97 697.4 L90.05 696.14 L93.12 695.86 L96.2 696.75 L99.27 698.31 L102.35 699.66 L105.42 700.22 L108.5 699.95 L111.57 699.28 L114.65 698.71 L117.72 698.47 L120.8 698.41 L123.87 698.21 L126.95 697.67 L130.02 696.85 L133.1 696.03 L136.17 695.48 L139.25 695.29 L142.32 695.34 L145.4 695.43 L148.47 695.41 L151.55 695.27 L154.62 695.09 L157.7 694.93 L160.77 694.79 L163.85 694.61 L166.92 694.2" stroke="#2ca02c"/>
<path d="M59.3 737.47 L60.96 737.75 L62.62 737.09 L64.27 735.54 L65.93 733.38 L67.59 731.06 L69.25 728.97 L70.91 727.32 L72.57 726.07 L74.22 724.98 L75.88 723.76 L77.54 722.15 L79.2 720.09 L80.86 717.67 L82.51 715.17 L84.17 712.93 L85.83 711.22 L87.49 710.13 L89.15 709.6 L90.81 709.42 L92.46 709.35 L94.12 709.15 L95.78 708.71 L97.44 708.02 L99.1 707.17 L100.76 706.23 L102.41 705.3 L104.07 704.45 L105.73 703.67 L107.39 702.87 L109.05 701.99 L110.7 700.99 L112.36 699.86 L114.02 698.6 L115.68 697.17 L117.34 694.2" stroke="#d62728"/>
<path d="M59.3 683.14 L61.84 682.47 L64.37 680.57 L66.91 679.53 L69.44 680.04 L71.98 681.12 L74.52 681.35 L77.05 680.35 L79.59 679.16 L82.13 679.25 L84.66 681.17 L87.2 684.09 L89.73 686.56 L92.27 687.75 L94.81 687.91 L97.34 687.97 L99.88 688.54 L102.41 689.43 L104.95 689.96 L107.49 689.7 L110.02 688.88 L112.56 688.19 L115.1 688.16 L117.63 688.78 L120.17 689.6 L122.7 690.21 L125.24 690.53 L127.78 690.79 L130.31 691.19 L132.85 691.73 L135.38 692.23 L137.92 692.55 L140.46 692.73 L142.99 692.94 L145.53 693.3 L148.06 694.2" stroke="#9467bd"/>
<path d="M59.38 655.21 L62.14 655.61 L64.91 656 L67.67 656.4 L70.43 657.01 L73.2 658.11 L75.96 659.22 L78.72 660.32 L81.49 661.43 L84.25 662.53 L87.01 663.32 L89.78 664.11 L92.54 664.89 L95.3 665.81 L98.07 667 L100.83 668.18 L103.59 669.36 L106.36 670.67 L109.12 672.05 L111.88 673.44 L114.65 675.03 L117.41 676.87 L120.17 678.71 L122.94 680.35 L125.7 681.48 L128.47 682.61 L131.23 683.74 L133.99 684.88 L136.76 686.01 L139.52 687.14 L142.28 688.27 L145.05 689.33 L147.81 689.94 L150.57 690.55 L153.34 691.15 L156.1 691.76 L158.86 692.37 L161.63 692.98 L164.39 693.59 L167.15 694.2" stroke="#e377c2"/>
<path d="M59.3 708.89 L62.25 707.73 L65.2 707.66 L68.15 708.19 L71.09 708.74 L74.04 708.86 L76.99 708.39 L79.94 707.4 L82.89 706.16 L85.84 704.99 L88.78 704.15 L91.73 703.69 L94.68 703.5 L97.63 703.35 L100.58 703 L103.53 702.25 L106.47 701.17 L109.42 699.87 L112.37 698.56 L115.32 697.46 L118.27 696.71 L121.22 696.32 L124.16 696.23 L127.11 696.31 L130.06 696.41 L133.01 696.44 L135.96 696.37 L138.91 696.22 L141.85 696.05 L144.8 695.9 L147.75 695.76 L150.7 695.62 L153.65 695.45 L156.6 695.22 L159.54 694.89 L162.49 694.2" stroke="#e377c2"/>
<path d="M59.3 717.17 L60.81 717.56 L62.33 716.65 L63.84 714.86 L65.36 712.76 L66.87 710.87 L68.39 709.53 L69.9 708.84 L71.42 708.72 L72.93 708.95 L74.45 709.29 L75.96 709.57 L77.48 709.71 L78.99 709.74 L80.51 709.7 L82.02 709.66 L83.54 709.62 L85.05 709.52 L86.57 709.27 L88.08 708.75 L89.6 707.93 L91.11 706.83 L92.63 705.56 L94.14 704.3 L95.66 703.2 L97.17 702.37 L98.69 701.83 L100.2 701.52 L101.72 701.29 L103.23 701.01 L104.75 700.57 L106.26 699.91 L107.78 699.03 L109.29 697.97 L110.81 696.72 L112.32 694.2" stroke="#7f7f7f"/>
<path d="M59.3 700.08 L60.71 703.46 L62.13 706.55 L63.54 708.37 L64.96 708.69 L66.37 707.98 L67.78 707.03 L69.2 706.38 L70.61 706.09 L72.03 705.81 L73.44 705.08 L74.85 703.73 L76.27 702.01 L77.68 700.53 L79.1 699.86 L80.51 700.24 L81.92 701.42 L83.34 702.82 L84.75 703.76 L86.17 703.86 L87.58 703.11 L88.99 701.87 L90.41 700.57 L91.82 699.55 L93.24 698.87 L94.65 698.42 L96.06 698 L97.48 697.52 L98.89 697 L100.3 696.54 L101.72 696.21 L103.13 696 L104.55 695.81 L105.96 695.51 L107.37 695.04 L108.79 694.2" stroke="#bcbd22"/>
<path d="M59.3 702.44 L61.89 699.17 L64.48 696.5 L67.07 694.72 L69.66 693.83 L72.25 693.58 L74.84 693.59 L77.43 693.5 L80.02 693.12 L82.61 692.43 L85.2 691.63 L87.79 690.99 L90.38 690.72 L92.98 690.97 L95.57 691.68 L98.16 692.67 L100.75 693.68 L103.34 694.46 L105.93 694.9 L108.52 694.97 L111.11 694.76 L113.7 694.42 L116.29 694.11 L118.88 693.94 L121.47 693.91 L124.06 694 L126.65 694.14 L129.24 694.24 L131.83 694.27 L134.42 694.25 L137.01 694.19 L139.6 694.15 L142.19 694.17 L144.78 694.22 L147.37 694.28 L149.96 694.2" stroke="#17becf"/>
<path d="M59.38 632.58 L62.44 634.55 L65.49 636.51 L68.55 638.48 L71.6 640.41 L74.66 642.32 L77.72 644.23 L80.77 646.14 L83.83 646.88 L86.89 647.39 L89.94 647.9 L93 648.41 L96.06 648.92 L99.11 649.49 L102.17 650.64 L105.22 651.78 L108.28 652.93 L111.34 654.18 L114.39 655.71 L117.45 657.24 L120.51 658.77 L123.56 660.12 L126.62 661.27 L129.68 662.41 L132.73 663.56 L135.79 664.95 L138.84 666.48 L141.9 668.01 L144.96 672.44 L148.01 674.02 L151.07 675.55 L154.13 677.14 L157.18 679.18 L160.24 681.22 L163.29 683.26 L166.35 685.29 L169.41 687.33 L172.46 689.49 L175.52 691.85 L178.58 694.2" stroke="#8c564b"/>
<path d="M59.3 701.39 L62.17 700.33 L65.05 700.62 L67.92 701.94 L70.8 703.74 L73.67 705.4 L76.54 706.44 L79.42 706.59 L82.29 705.88 L85.17 704.58 L88.04 703.05 L90.91 701.63 L93.79 700.51 L96.66 699.72 L99.54 699.18 L102.41 698.69 L105.28 698.15 L108.16 697.51 L111.03 696.81 L113.91 696.18 L116.78 695.74 L119.65 695.55 L122.53 695.62 L125.4 695.86 L128.28 696.15 L131.15 696.35 L134.03 696.39 L136.9 696.24 L139.77 695.94 L142.65 695.57 L145.52 695.22 L148.4 694.92 L151.27 694.7 L154.14 694.55 L157.02 694.42 L159.89 694.2" stroke="#ff7f0e"/>
<path d="M59.3 678.83 L62.2 679.1 L65.1 677.84 L68.01 676.14 L70.91 675.29 L73.81 676.05 L76.71 678.18 L79.62 680.76 L82.52 682.85 L85.42 684.04 L88.32 684.65 L91.22 685.35 L94.13 686.66 L97.03 688.56 L99.93 690.53 L102.83 691.93 L105.73 692.43 L108.64 692.17 L111.54 691.64 L114.44 691.3 L117.34 691.37 L120.25 691.71 L123.15 692.04 L126.05 692.14 L128.95 692.03 L131.85 691.88 L134.76 691.91 L137.66 692.18 L140.56 692.62 L143.46 693.06 L146.36 693.38 L149.27 693.56 L152.17 693.67 L155.07 693.79 L157.97 693.93 L160.88 694.2" stroke="#2ca02c"/>
<path d="M59.38 730.04 L62.97 729.78 L66.55 729.52 L70.14 729.28 L73.73 729.1 L77.31 728.92 L80.9 728.74 L84.49 728.55 L88.08 728.19 L91.66 727.83 L95.25 727.47 L98.84 727.11 L102.42 726.39 L106.01 725.67 L109.6 724.96 L113.18 724.24 L116.77 723.18 L120.36 722.11 L123.94 721.03 L127.53 719.96 L131.12 718.57 L134.71 717.13 L138.29 715.7 L141.88 714.26 L145.47 712.54 L149.05 710.75 L152.64 708.95 L156.23 707.35 L159.81 705.91 L163.4 704.46 L166.99 703.02 L170.57 701.57 L174.16 700.13 L177.75 698.87 L181.34 698.09 L184.92 697.31 L188.51 696.53 L192.1 695.76 L195.68 694.98 L199.27 694.2" stroke="#d62728"/>
<path d="M59.38 758.5 L62.04 758.31 L64.69 758.12 L67.35 757.93 L70.01 757.71 L72.67 757.34 L75.33 756.96 L77.98 756.58 L80.64 756.01 L83.3 755.01 L85.96 754.01 L88.61 753.02 L91.27 752.02 L93.93 750.41 L96.59 748.75 L99.24 747.09 L101.9 745.43 L104.56 743.84 L107.22 742.32 L109.88 740.81 L112.53 739.29 L115.19 738.12 L117.85 737.13 L120.51 736.13 L123.16 735.13 L125.82 733.76 L128.48 731.44 L131.14 729.11 L133.79 726.78 L136.45 724.46 L139.11 721.05 L141.77 717.51 L144.43 713.97 L147.08 711.07 L149.74 708.61 L152.4 706.16 L155.06 703.69 L157.71 700.53 L160.37 697.36 L163.03 694.2" stroke="#1f77b4"/>
<path d="M59.3 692.19 L61.94 692.39 L64.58 693.52 L67.23 695.06 L69.87 696.42 L72.51 697.21 L75.15 697.3 L77.79 696.83 L80.44 696.12 L83.08 695.49 L85.72 695.18 L88.36 695.22 L91 695.48 L93.65 695.72 L96.29 695.71 L98.93 695.31 L101.57 694.56 L104.21 693.6 L106.86 692.66 L109.5 691.96 L112.14 691.62 L114.78 691.66 L117.42 691.98 L120.07 692.45 L122.71 692.91 L125.35 693.26 L127.99 693.49 L130.63 693.62 L133.28 693.71 L135.92 693.81 L138.56 693.93 L141.2 694.06 L143.84 694.17 L146.49 694.23 L149.13 694.22 L151.77 694.2" stroke="#8c564b"/>
<path d="M59.38 640.61 L61.84 640.61 L64.31 640.61 L66.77 640.61 L69.24 640.61 L71.7 641.87 L74.16 643.35 L76.63 644.83 L79.09 646.75 L81.56 648.72 L84.02 650.69 L86.48 652.66 L88.95 654.63 L91.41 656.6 L93.88 659.05 L96.34 661.51 L98.8 663.98 L101.27 667.06 L103.73 670.14 L106.2 673.61 L108.66 677.31 L111.12 680.29 L113.59 681.3 L116.05 682.31 L118.51 683.32 L120.98 684.33 L123.44 685.34 L125.91 686.35 L128.37 687.36 L130.83 688.36 L133.3 689.31 L135.76 689.85 L138.23 690.4 L140.69 690.94 L143.15 691.48 L145.62 692.03 L148.08 692.57 L150.55 693.11 L153.01 693.66 L155.47 694.2" stroke="#9467bd"/>
<path d="M59.38 642.8 L63.37 643.66 L67.36 644.51 L71.36 645.43 L75.35 646.43 L79.34 647.43 L83.33 648.68 L87.32 650.18 L91.32 651.68 L95.31 653.08 L99.3 654.41 L103.29 655.74 L107.29 657.15 L111.28 658.74 L115.27 660.34 L119.26 661.94 L123.25 663.28 L127.25 664.48 L131.24 665.67 L135.23 666.87 L139.22 667.61 L143.21 668.33 L147.21 669.06 L151.2 669.78 L155.19 669.91 L159.18 670.76 L163.18 671.62 L167.17 672.47 L171.16 673.33 L175.15 674.36 L179.14 675.96 L183.14 677.23 L187.13 678.02 L191.12 679.75 L195.11 682.15 L199.1 684.54 L203.1 686.94 L207.09 689.7 L211.08 692.4 L215.07 694.2" stroke="#17becf"/>
<path d="M59.38 578.57 L63.8 581.1 L68.22 583.62 L72.65 587.27 L77.07 591.41 L81.49 595.55 L85.92 599.42 L90.34 603.29 L94.76 607.64 L99.18 612.69 L103.61 617.75 L108.03 622.8 L112.45 627.86 L116.87 632.41 L121.3 636.84 L125.72 641.56 L130.14 646.61 L134.56 651.69 L138.99 656.85 L143.41 661.87 L147.83 666.29 L152.25 670.35 L156.68 671.92 L161.1 672.07 L165.52 672.9 L169.94 673.73 L174.37 674.6 L178.79 675.48 L183.21 676.43 L187.64 677.38 L192.06 678.04 L196.48 678.59 L200.9 679.19 L205.33 680.3 L209.75 681.49 L214.17 683.33 L218.59 685.29 L223.02 687.94 L227.44 690.91 L231.86 694.2" stroke="#bcbd22"/>
<path d="M59.38 622.36 L61.14 623.75 L62.9 625.13 L64.66 626.51 L66.42 627.89 L68.18 629.28 L69.94 630.68 L71.69 632.19 L73.45 633.7 L75.21 635.21 L76.97 636.71 L78.73 638.22 L80.49 639.74 L82.25 641.28 L84.01 642.82 L85.77 644.36 L87.53 645.9 L89.29 647.44 L91.05 648.98 L92.81 650.5 L94.57 652 L96.33 653.51 L98.08 655.02 L99.84 656.53 L101.6 658.04 L103.36 659.78 L105.12 661.54 L106.88 663.3 L108.64 665.06 L110.4 667.09 L112.16 669.2 L113.92 671.31 L115.68 673.43 L117.44 675.87 L119.2 678.51 L120.96 681.15 L122.71 684.03 L124.47 687.42 L126.23 690.81 L127.99 694.2" stroke="#bcbd22"/>
<path d="M59.3 670.24 L61.98 668.72 L64.66 666.89 L67.34 665.4 L70.03 664.76 L72.71 665.15 L75.39 666.43 L78.07 668.23 L80.75 670.12 L83.43 671.77 L86.12 673.03 L88.8 673.96 L91.48 674.78 L94.16 675.75 L96.84 677.01 L99.52 678.56 L102.21 680.24 L104.89 681.85 L107.57 683.15 L110.25 684.05 L112.93 684.56 L115.61 684.79 L118.29 684.94 L120.98 685.18 L123.66 685.61 L126.34 686.24 L129.02 687.01 L131.7 687.84 L134.38 688.64 L137.07 689.38 L139.75 690.06 L142.43 690.72 L145.11 691.38 L147.79 692.07 L150.47 692.84 L153.15 694.2" stroke="#1f77b4"/>
<path d="M59.38 746.82 L61.88 745.57 L64.38 744.32 L66.88 743.07 L69.39 741.82 L71.89 740.73 L74.39 739.66 L76.89 738.59 L79.39 737.52 L81.89 736.3 L84.39 735.05 L86.9 733.8 L89.4 731.93 L91.9 728.8 L94.4 725.68 L96.9 721.93 L99.4 718.18 L101.9 714.01 L104.4 709.64 L106.91 705.46 L109.41 701.71 L111.91 697.96 L114.41 697.65 L116.91 697.38 L119.41 697.12 L121.91 696.85 L124.42 696.58 L126.92 696.31 L129.42 696.04 L131.92 695.77 L134.42 695.5 L136.92 695.36 L139.42 695.21 L141.93 695.07 L144.43 694.92 L146.93 694.78 L149.43 694.63 L151.93 694.49 L154.43 694.34 L156.93 694.2" stroke="#9467bd"/>
<path d="M59.3 696.09 L61.72 695.05 L64.15 696.34 L66.57 698.28 L69 698.88 L71.42 697.72 L73.85 696.16 L76.27 695.91 L78.7 697.32 L81.12 699.22 L83.55 700.1 L85.97 699.56 L88.4 698.51 L90.82 698.2 L93.25 698.95 L95.67 700.02 L98.1 700.37 L100.52 699.71 L102.95 698.62 L105.37 697.94 L107.8 697.95 L110.22 698.2 L112.65 698.07 L115.07 697.38 L117.5 696.49 L119.92 695.86 L122.35 695.66 L124.77 695.64 L127.2 695.49 L129.62 695.12 L132.05 694.72 L134.47 694.47 L136.9 694.4 L139.32 694.38 L141.74 694.31 L144.17 694.2" stroke="#2ca02c"/>
<path d="M59.38 586.6 L61.92 591.04 L64.46 595.48 L67 599.48 L69.53 603.29 L72.07 607.1 L74.61 611.1 L77.15 615.67 L79.69 620.24 L82.23 625.24 L84.77 630.95 L87.31 636.74 L89.85 643.51 L92.38 649.47 L94.92 653.91 L97.46 658.34 L100 662.57 L102.54 667.08 L105.08 672.16 L107.62 676.22 L110.16 679.6 L112.7 688.36 L115.23 691.15 L117.77 691.39 L120.31 691.62 L122.85 691.86 L125.39 692.09 L127.93 692.33 L130.47 692.57 L133.01 692.8 L135.54 693.04 L138.08 693.18 L140.62 693.31 L143.16 693.44 L145.7 693.56 L148.24 693.69 L150.78 693.82 L153.32 693.95 L155.86 694.07 L158.39 694.2" stroke="#17becf"/>
<path d="M59.3 705.02 L61.06 705.34 L62.82 704.81 L64.59 704.78 L66.35 705.9 L68.11 707.7 L69.87 709 L71.63 708.85 L73.4 707.19 L75.16 704.87 L76.92 703.04 L78.68 702.33 L80.44 702.54 L82.21 702.89 L83.97 702.69 L85.73 701.8 L87.49 700.71 L89.25 700.07 L91.02 700.23 L92.78 700.99 L94.54 701.75 L96.3 702.02 L98.06 701.66 L99.82 700.94 L101.59 700.26 L103.35 699.84 L105.11 699.62 L106.87 699.33 L108.63 698.79 L110.4 698.01 L112.16 697.17 L113.92 696.46 L115.68 695.95 L117.44 695.56 L119.21 695.13 L120.97 694.2" stroke="#9467bd"/>
<path d="M59.38 585.87 L63.12 590.41 L66.85 594.94 L70.59 599.6 L74.33 604.58 L78.06 609.56 L81.8 614.55 L85.54 619.53 L89.27 624.41 L93.01 629.21 L96.75 634.02 L100.48 636.35 L104.22 638.22 L107.96 640.48 L111.69 643.15 L115.43 645.82 L119.17 648.49 L122.9 651.16 L126.64 653.84 L130.38 656.95 L134.11 660.07 L137.85 663.18 L141.59 666.3 L145.32 669.37 L149.06 672.36 L152.8 675.15 L156.53 677.64 L160.27 680.09 L164.01 681.62 L167.74 683.15 L171.48 684.68 L175.22 686.21 L178.95 687.74 L182.69 689.26 L186.43 690.08 L190.16 690.91 L193.9 691.73 L197.64 692.55 L201.37 693.38 L205.11 694.2" stroke="#bcbd22"/>
<path d="M59.38 776.02 L63.22 775.75 L67.06 775.47 L70.91 774.92 L74.75 773.82 L78.59 772.72 L82.43 770.5 L86.28 767.76 L90.12 764.99 L93.96 761.15 L97.8 757.31 L101.65 753.87 L105.49 750.58 L109.33 747.42 L113.17 745.77 L117.02 744.13 L120.86 742.36 L124.7 740.44 L128.54 738.56 L132.39 736.91 L136.23 735.27 L140.07 732.87 L143.91 729.67 L147.76 726.26 L151.6 722.07 L155.44 717.67 L159.28 711.7 L163.12 708.74 L166.97 706.06 L170.81 704.14 L174.65 702.27 L178.49 700.83 L182.34 699.68 L186.18 698.75 L190.02 698.1 L193.86 697.46 L197.71 696.82 L201.55 696.18 L205.39 695.3 L209.23 694.2" stroke="#bcbd22"/>
<path d="M59.3 685.07 L61.87 684.62 L64.44 685.16 L67.01 686.65 L69.58 688.64 L72.16 690.5 L74.73 691.61 L77.3 691.62 L79.87 690.56 L82.44 688.82 L85.01 686.93 L87.58 685.43 L90.15 684.61 L92.72 684.53 L95.29 684.97 L97.87 685.64 L100.44 686.29 L103.01 686.78 L105.58 687.16 L108.15 687.54 L110.72 688.06 L113.29 688.77 L115.86 689.63 L118.43 690.5 L121 691.24 L123.58 691.74 L126.15 691.98 L128.72 692.04 L131.29 692.04 L133.86 692.09 L136.43 692.26 L139 692.56 L141.57 692.92 L144.14 693.3 L146.71 693.66 L149.29 694.2" stroke="#7f7f7f"/>
<path d="M59.38 770.91 L61.96 768.7 L64.55 766.48 L67.13 764.27 L69.71 762.02 L72.29 758.92 L74.88 755.82 L77.46 752.61 L80.04 748.99 L82.62 745.38 L85.21 741.96 L87.79 738.86 L90.37 735.76 L92.96 733.25 L95.54 731.18 L98.12 729.12 L100.7 727.05 L103.29 724.98 L105.87 722.92 L108.45 721.73 L111.04 720.62 L113.62 719.51 L116.2 718.41 L118.78 717.12 L121.37 715.83 L123.95 714.54 L126.53 713.25 L129.12 711.96 L131.7 710.67 L134.28 709.37 L136.86 708.08 L139.45 706.79 L142.03 705.33 L144.61 703.86 L147.2 702.38 L149.78 700.9 L152.36 699.23 L154.94 697.56 L157.53 695.88 L160.11 694.2" stroke="#2ca02c"/>
<path d="M59.3 672.38 L60.85 675.24 L62.4 677.6 L63.95 678.89 L65.5 678.92 L67.05 677.96 L68.6 676.67 L70.15 675.82 L71.7 675.95 L73.24 677.22 L74.79 679.33 L76.34 681.75 L77.89 683.92 L79.44 685.5 L80.99 686.46 L82.54 687.01 L84.09 687.46 L85.64 688.03 L87.19 688.76 L88.74 689.5 L90.29 690.02 L91.84 690.14 L93.39 689.84 L94.94 689.26 L96.49 688.66 L98.03 688.27 L99.58 688.24 L101.13 688.57 L102.68 689.12 L104.23 689.74 L105.78 690.29 L107.33 690.76 L108.88 691.19 L110.43 691.68 L111.98 692.37 L113.53 694.2" stroke="#17becf"/>
<path d="M59.3 693.58 L61.23 695.93 L63.16 696.2 L65.1 694.61 L67.03 693.2 L68.96 693.66 L70.89 695.65 L72.82 697.32 L74.75 697.24 L76.69 695.73 L78.62 694.42 L80.55 694.47 L82.48 695.55 L84.41 696.28 L86.34 695.74 L88.28 694.29 L90.21 693.13 L92.14 693 L94.07 693.57 L96 693.92 L97.93 693.48 L99.87 692.59 L101.8 692.02 L103.73 692.15 L105.66 692.7 L107.59 693.09 L109.52 693.05 L111.46 692.83 L113.39 692.81 L115.32 693.13 L117.25 693.57 L119.18 693.86 L121.11 693.96 L123.05 694 L124.98 694.09 L126.91 694.2" stroke="#1f77b4"/>
<path d="M59.38 721.28 L61.92 720.55 L64.46 719.83 L67 719.1 L69.53 718.38 L72.07 717.86 L74.61 717.35 L77.15 716.85 L79.69 716.34 L82.23 715.83 L84.77 715.32 L87.31 714.82 L89.85 714.31 L92.38 713.8 L94.92 713.29 L97.46 712.78 L100 712.16 L102.54 711.4 L105.08 710.63 L107.62 709.87 L110.16 709.11 L112.7 708.35 L115.23 707.4 L117.77 706.38 L120.31 705.35 L122.85 704.33 L125.39 703.31 L127.93 702.29 L130.47 701.26 L133.01 700.24 L135.54 699.22 L138.08 698.6 L140.62 698.05 L143.16 697.5 L145.7 696.95 L148.24 696.4 L150.78 695.85 L153.32 695.3 L155.86 694.75 L158.39 694.2" stroke="#e377c2"/>
<path d="M59.3 710.09 L61.33 711.13 L63.37 712.37 L65.4 713.08 L67.43 712.75 L69.46 711.33 L71.5 709.21 L73.53 707.03 L75.56 705.36 L77.59 704.45 L79.63 704.2 L81.66 704.18 L83.69 703.96 L85.73 703.25 L87.76 702.06 L89.79 700.65 L91.82 699.4 L93.86 698.61 L95.89 698.37 L97.92 698.53 L99.95 698.84 L101.99 698.98 L104.02 698.84 L106.05 698.45 L108.09 697.93 L110.12 697.47 L112.15 697.18 L114.18 697.05 L116.22 697.01 L118.25 696.93 L120.28 696.72 L122.31 696.38 L124.35 695.94 L126.38 695.47 L128.41 695.01 L130.44 694.2" stroke="#2ca02c"/>
<path d="M59.3 660.9 L61.97 664 L64.65 667.18 L67.32 669.77 L69.99 671.46 L72.67 672.33 L75.34 672.82 L78.02 673.45 L80.69 674.6 L83.36 676.35 L86.04 678.44 L88.71 680.45 L91.38 682 L94.06 682.87 L96.73 683.15 L99.41 683.09 L102.08 683.03 L104.75 683.23 L107.43 683.78 L110.1 684.59 L112.77 685.46 L115.45 686.2 L118.12 686.71 L120.8 687.02 L123.47 687.24 L126.14 687.53 L128.82 687.97 L131.49 688.58 L134.16 689.3 L136.84 690.05 L139.51 690.74 L142.18 691.34 L144.86 691.88 L147.53 692.41 L150.21 693.01 L152.88 694.2" stroke="#d62728"/>
<path d="M59.38 789.89 L63.04 787.27 L66.7 784.66 L70.36 782.11 L74.03 779.82 L77.69 777.53 L81.35 775.23 L85.01 772.09 L88.67 768.95 L92.34 765.55 L96 761.28 L99.66 757.01 L103.32 752.23 L106.98 747.34 L110.64 742.46 L114.31 737.58 L117.97 732.73 L121.63 728.46 L125.29 724.18 L128.95 719.91 L132.62 715.64 L136.28 711.39 L139.94 707.21 L143.6 703.02 L147.26 699.09 L150.92 695.43 L154.59 692.57 L158.25 690.73 L161.91 691.11 L165.57 691.49 L169.23 691.87 L172.9 692.24 L176.56 692.62 L180.22 692.98 L183.88 693.18 L187.54 693.38 L191.2 693.59 L194.87 693.79 L198.53 694 L202.19 694.2" stroke="#7f7f7f"/>
<path d="M59.3 727.5 L61.11 727.06 L62.92 726.07 L64.73 723.56 L66.54 720.14 L68.35 717.49 L70.16 716.84 L71.97 717.97 L73.78 719.48 L75.59 719.97 L77.4 719.12 L79.21 717.74 L81.02 716.91 L82.83 716.95 L84.64 717.25 L86.45 716.82 L88.26 715.19 L90.07 712.79 L91.88 710.54 L93.69 709.07 L95.5 708.31 L97.31 707.69 L99.12 706.72 L100.93 705.36 L102.74 704.03 L104.55 703.17 L106.36 702.78 L108.17 702.55 L109.98 702.1 L111.79 701.32 L113.6 700.34 L115.41 699.39 L117.22 698.51 L119.03 697.6 L120.84 696.49 L122.65 694.2" stroke="#8c564b"/>
<path d="M59.3 692.06 L62.22 691.98 L65.15 693.49 L68.07 695.38 L70.99 695.87 L73.92 694.41 L76.84 692.17 L79.76 690.94 L82.69 691.56 L85.61 693.3 L88.54 694.73 L91.46 695.09 L94.38 694.79 L97.31 694.89 L100.23 695.95 L103.15 697.55 L106.08 698.7 L109 698.81 L111.92 698.09 L114.85 697.26 L117.77 696.85 L120.69 696.81 L123.62 696.69 L126.54 696.15 L129.46 695.33 L132.39 694.6 L135.31 694.26 L138.24 694.26 L141.16 694.35 L144.08 694.33 L147.01 694.2 L149.93 694.09 L152.85 694.07 L155.78 694.11 L158.7 694.14 L161.62 694.2" stroke="#e377c2"/>
<path d="M59.38 650.1 L63.37 649.7 L67.36 649.27 L71.36 648.7 L75.35 648.13 L79.34 648.07 L83.33 648.31 L87.32 648.56 L91.32 649.23 L95.31 650.08 L99.3 651.02 L103.29 652.52 L107.29 654.02 L111.28 655.41 L115.27 656.41 L119.26 657.41 L123.25 658.5 L127.25 659.83 L131.24 661.27 L135.23 663.93 L139.22 666.59 L143.21 669.25 L147.21 671.91 L151.2 674.9 L155.19 677.49 L159.18 679.16 L163.18 680.77 L167.17 682.1 L171.16 683.43 L175.15 684.63 L179.14 685.66 L183.14 685.66 L187.13 684.64 L191.12 683.47 L195.11 683.47 L199.1 683.93 L203.1 685.13 L207.09 687.33 L211.08 690.4 L215.07 694.2" stroke="#1f77b4"/>
<path d="M59.38 619.45 L61.81 620.66 L64.25 621.88 L66.68 623.09 L69.11 624.31 L71.55 625.92 L73.98 627.62 L76.41 629.32 L78.84 631.03 L81.28 632.73 L83.71 634.43 L86.14 636.4 L88.58 638.42 L91.01 640.45 L93.44 642.48 L95.88 644.51 L98.31 646.53 L100.74 648.56 L103.18 650.1 L105.61 651.32 L108.04 652.54 L110.47 653.75 L112.91 654.97 L115.34 656.18 L117.77 657.4 L120.21 658.62 L122.64 659.83 L125.07 661.05 L127.51 662.79 L129.94 664.53 L132.37 666.26 L134.81 668 L137.24 670.69 L139.67 673.61 L142.1 676.53 L144.54 680.03 L146.97 683.68 L149.4 687.26 L151.84 690.73 L154.27 694.2" stroke="#d62728"/>
<path d="M59.3 692.02 L61.2 691.93 L63.09 690.91 L64.99 690.27 L66.89 690.83 L68.79 692.54 L70.68 694.6 L72.58 696.08 L74.48 696.54 L76.38 696.25 L78.27 696.01 L80.17 696.52 L82.07 697.97 L83.97 699.95 L85.86 701.7 L87.76 702.66 L89.66 702.71 L91.55 702.22 L93.45 701.71 L95.35 701.52 L97.25 701.61 L99.14 701.65 L101.04 701.29 L102.94 700.41 L104.84 699.18 L106.73 697.93 L108.63 696.94 L110.53 696.28 L112.43 695.86 L114.32 695.49 L116.22 695.06 L118.12 694.61 L120.01 694.24 L121.91 694.04 L123.81 694.01 L125.71 694.2" stroke="#17becf"/>
<path d="M59.38 645.72 L60.39 646.43 L61.4 647.14 L62.41 647.85 L63.42 648.55 L64.43 649.26 L65.44 649.97 L66.45 650.67 L67.46 651.62 L68.48 652.63 L69.49 653.64 L70.5 654.65 L71.51 655.66 L72.52 656.67 L73.53 657.68 L74.54 658.81 L75.55 660.02 L76.56 661.23 L77.57 662.44 L78.58 663.66 L79.59 664.87 L80.6 666.08 L81.61 667.31 L82.62 668.57 L83.64 669.84 L84.65 671.1 L85.66 672.36 L86.67 673.63 L87.68 675.03 L88.69 676.55 L89.7 678.06 L90.71 679.58 L91.72 681.1 L92.73 682.61 L93.74 684.46 L94.75 686.41 L95.76 688.36 L96.77 690.31 L97.78 692.25 L98.8 694.2" stroke="#7f7f7f"/>
<path d="M59.3 651.19 L62.04 653.4 L64.78 654.7 L67.52 655.84 L70.26 657.51 L73 659.96 L75.74 662.9 L78.48 665.69 L81.21 667.72 L83.95 668.74 L86.69 668.89 L89.43 668.69 L92.17 668.71 L94.91 669.31 L97.65 670.48 L100.39 671.95 L103.13 673.34 L105.87 674.39 L108.61 675.1 L111.35 675.65 L114.09 676.34 L116.83 677.34 L119.57 678.69 L122.3 680.23 L125.04 681.75 L127.78 683.08 L130.52 684.17 L133.26 685.08 L136 685.93 L138.74 686.82 L141.48 687.77 L144.22 688.76 L146.96 689.76 L149.7 690.76 L152.44 691.87 L155.18 694.2" stroke="#ff7f0e"/>
<path d="M59.3 744.1 L60.78 742.2 L62.25 740.93 L63.73 740.05 L65.2 739.2 L66.68 737.99 L68.15 736.11 L69.63 733.42 L71.11 730 L72.58 726.13 L74.06 722.23 L75.53 718.7 L77.01 715.9 L78.48 714 L79.96 712.97 L81.44 712.61 L82.91 712.65 L84.39 712.78 L85.86 712.74 L87.34 712.38 L88.81 711.66 L90.29 710.68 L91.77 709.55 L93.24 708.41 L94.72 707.35 L96.19 706.42 L97.67 705.61 L99.14 704.86 L100.62 704.1 L102.1 703.26 L103.57 702.39 L105.05 701.45 L106.52 700.45 L108 699.3 L109.47 697.82 L110.95 694.2" stroke="#2ca02c"/>
<path d="M59.3 684.36 L62.18 687.31 L65.06 690.24 L67.94 691.64 L70.81 691.53 L73.69 691.24 L76.57 692.11 L79.45 694.31 L82.33 696.8 L85.21 698.23 L88.09 698.13 L90.97 697.12 L93.84 696.32 L96.72 696.34 L99.6 696.91 L102.48 697.2 L105.36 696.66 L108.24 695.44 L111.12 694.2 L114 693.54 L116.87 693.52 L119.75 693.74 L122.63 693.73 L125.51 693.38 L128.39 692.92 L131.27 692.69 L134.15 692.8 L137.02 693.1 L139.9 693.35 L142.78 693.4 L145.66 693.35 L148.54 693.32 L151.42 693.39 L154.3 693.53 L157.18 693.71 L160.05 694.2" stroke="#d62728"/>
<path d="M59.38 666.89 L63.42 667.23 L67.45 667.56 L71.49 667.9 L75.52 668.24 L79.56 668.53 L83.6 668.8 L87.63 669.07 L91.67 669.34 L95.7 669.6 L99.74 669.81 L103.78 669.81 L107.81 669.81 L111.85 669.81 L115.89 669.81 L119.92 669.81 L123.96 669.7 L127.99 669.57 L132.03 669.43 L136.07 669.3 L140.1 669.16 L144.14 668.99 L148.17 668.75 L152.21 668.51 L156.25 668.58 L160.28 669.31 L164.32 670.45 L168.35 672.47 L172.39 674.54 L176.43 676.87 L180.46 679.2 L184.5 681.54 L188.54 683.87 L192.57 686.2 L196.61 687.92 L200.64 689.17 L204.68 690.43 L208.72 691.69 L212.75 692.94 L216.79 694.2" stroke="#17becf"/>
<path d="M59.3 649.99 L61.34 655.03 L63.38 659.44 L65.41 662.63 L67.45 664.43 L69.49 665.1 L71.53 665.26 L73.57 665.51 L75.6 666.29 L77.64 667.65 L79.68 669.37 L81.72 671.08 L83.75 672.44 L85.79 673.32 L87.83 673.87 L89.87 674.39 L91.91 675.21 L93.94 676.5 L95.98 678.24 L98.02 680.21 L100.06 682.11 L102.1 683.68 L104.13 684.81 L106.17 685.56 L108.21 686.07 L110.25 686.54 L112.28 687.07 L114.32 687.7 L116.36 688.39 L118.4 689.04 L120.44 689.63 L122.47 690.15 L124.51 690.69 L126.55 691.33 L128.59 692.21 L130.63 694.2" stroke="#8c564b"/>
<path d="M59.38 623.82 L62.17 626.42 L64.97 629.01 L67.76 631.61 L70.56 634.14 L73.35 636.53 L76.15 638.93 L78.94 641.32 L81.73 643.99 L84.53 646.78 L87.32 649.58 L90.12 652.63 L92.91 655.89 L95.71 659.15 L98.5 662.6 L101.29 666.33 L104.09 667.28 L106.88 667.74 L109.68 668.19 L112.47 668.65 L115.27 669.11 L118.06 669.57 L120.85 670.02 L123.65 670.48 L126.44 670.94 L129.24 671.4 L132.03 671.85 L134.83 672.31 L137.62 672.77 L140.41 673.23 L143.21 673.68 L146 674.58 L148.8 676.26 L151.59 677.93 L154.39 680.03 L157.18 682.26 L159.97 684.67 L162.77 688.16 L165.56 691.61 L168.36 694.2" stroke="#7f7f7f"/>
<path d="M59.38 647.18 L63.04 647.44 L66.7 647.71 L70.36 647.91 L74.03 647.91 L77.69 647.91 L81.35 647.91 L85.01 647.99 L88.67 648.36 L92.34 648.73 L96 649.09 L99.66 649.7 L103.32 651.07 L106.98 652.44 L110.64 653.84 L114.31 655.67 L117.97 657.5 L121.63 659.33 L125.29 661.16 L128.95 662.99 L132.62 664.82 L136.28 667.06 L139.94 669.5 L143.6 672.28 L147.26 675.94 L150.92 679.6 L154.59 683.27 L158.25 686.12 L161.91 687 L165.57 687.89 L169.23 688.77 L172.9 689.65 L176.56 690.53 L180.22 691.35 L183.88 691.83 L187.54 692.3 L191.2 692.78 L194.87 693.25 L198.53 693.73 L202.19 694.2" stroke="#7f7f7f"/>
<path d="M59.3 722.19 L61.52 719.32 L63.74 717.92 L65.97 717.97 L68.19 719.11 L70.41 720.76 L72.63 722.29 L74.85 723.14 L77.07 722.98 L79.3 721.76 L81.52 719.63 L83.74 717 L85.96 714.29 L88.18 711.9 L90.41 710.06 L92.63 708.86 L94.85 708.22 L97.07 707.94 L99.29 707.8 L101.51 707.54 L103.74 707.05 L105.96 706.34 L108.18 705.42 L110.4 704.36 L112.62 703.26 L114.84 702.19 L117.07 701.18 L119.29 700.26 L121.51 699.41 L123.73 698.63 L125.95 697.91 L128.18 697.24 L130.4 696.61 L132.62 696.01 L134.84 695.37 L137.06 694.2" stroke="#bcbd22"/>
<path d="M59.38 733.69 L63.04 733.69 L66.7 733.69 L70.36 733.74 L74.03 734 L77.69 734.26 L81.35 734.22 L85.01 733.77 L88.67 733.31 L92.34 732.64 L96 731.27 L99.66 729.9 L103.32 728.49 L106.98 726.4 L110.64 724.31 L114.31 722.28 L117.97 720.45 L121.63 718.62 L125.29 716.79 L128.95 714.96 L132.62 713.13 L136.28 711.3 L139.94 709.07 L143.6 706.78 L147.26 704.49 L150.92 702.1 L154.59 699.66 L158.25 697.81 L161.91 697.41 L165.57 697.02 L169.23 696.63 L172.9 696.23 L176.56 695.84 L180.22 695.47 L183.88 695.26 L187.54 695.05 L191.2 694.84 L194.87 694.62 L198.53 694.41 L202.19 694.2" stroke="#8c564b"/>
<path d="M59.3 667.98 L60.57 667.44 L61.85 667.92 L63.12 669.69 L64.39 672.55 L65.67 675.89 L66.94 678.85 L68.21 680.73 L69.49 681.17 L70.76 680.31 L72.03 678.71 L73.31 677.06 L74.58 675.98 L75.85 675.77 L77.13 676.39 L78.4 677.51 L79.67 678.77 L80.95 679.86 L82.22 680.7 L83.49 681.34 L84.77 681.96 L86.04 682.67 L87.31 683.49 L88.59 684.31 L89.86 684.98 L91.13 685.38 L92.41 685.53 L93.68 685.54 L94.95 685.6 L96.23 685.9 L97.5 686.5 L98.78 687.41 L100.05 688.51 L101.32 689.72 L102.6 691.11 L103.87 694.2" stroke="#1f77b4"/>
<path d="M59.3 650.03 L60.67 651.32 L62.05 654.57 L63.42 657.75 L64.79 659.26 L66.17 659.38 L67.54 659.8 L68.92 661.95 L70.29 665.6 L71.66 669.2 L73.04 671.35 L74.41 672.01 L75.78 672.4 L77.16 673.69 L78.53 675.92 L79.91 678.07 L81.28 679.12 L82.65 678.98 L84.03 678.5 L85.4 678.62 L86.77 679.51 L88.15 680.57 L89.52 681.11 L90.89 681.03 L92.27 680.85 L93.64 681.14 L95.02 682.03 L96.39 683.15 L97.76 684.1 L99.14 684.78 L100.51 685.45 L101.88 686.37 L103.26 687.58 L104.63 688.96 L106 690.54 L107.38 694.2" stroke="#ff7f0e"/>
<path d="M59.38 659.59 L63.18 660.68 L66.99 661.77 L70.79 662.96 L74.6 664.39 L78.4 665.81 L82.21 667.2 L86.01 668.47 L89.82 669.74 L93.62 670.26 L97.43 670.73 L101.23 671.21 L105.04 670.77 L108.84 670.2 L112.65 669.63 L116.45 669.07 L120.26 668.69 L124.06 668.39 L127.87 668.71 L131.67 669.02 L135.48 669.3 L139.28 669.57 L143.09 669.81 L146.89 669.81 L150.7 669.81 L154.5 669.81 L158.31 674.44 L162.11 675.53 L165.92 676.62 L169.72 677.5 L173.53 678.32 L177.33 679.17 L181.14 680.6 L184.94 682.27 L188.75 684.17 L192.55 686.45 L196.36 688.71 L200.16 690.61 L203.97 692.49 L207.77 694.2" stroke="#2ca02c"/>
<path d="M59.3 694.2 L324.4 694.2" stroke="#1f77b4"/>
</g>
<g stroke="#1646a0" stroke-width="2">
<line x1="404.3" y1="22.9" x2="404.3" y2="192.7"/>
<line x1="409.74" y1="53.2" x2="409.74" y2="193.4"/>
<line x1="415.19" y1="75.9" x2="415.19" y2="195.8"/>
<line x1="420.63" y1="89.1" x2="420.63" y2="198.4"/>
<line x1="426.07" y1="103.1" x2="426.07" y2="201.5"/>
<line x1="431.51" y1="115.1" x2="431.51" y2="203.6"/>
<line x1="436.96" y1="127.2" x2="436.96" y2="205.8"/>
<line x1="442.4" y1="136" x2="442.4" y2="206.9"/>
<line x1="447.84" y1="144.3" x2="447.84" y2="208.2"/>
<line x1="453.29" y1="154.2" x2="453.29" y2="209.8"/>
<line x1="458.73" y1="164.9" x2="458.73" y2="212.4"/>
<line x1="464.17" y1="172.1" x2="464.17" y2="216.3"/>
<line x1="469.62" y1="176.1" x2="469.62" y2="222.5"/>
<line x1="475.06" y1="178" x2="475.06" y2="228.4"/>
<line x1="480.5" y1="184.2" x2="480.5" y2="230.1"/>
<line x1="485.94" y1="192.3" x2="485.94" y2="230.6"/>
<line x1="491.39" y1="199.3" x2="491.39" y2="231"/>
<line x1="496.83" y1="203.9" x2="496.83" y2="231.7"/>
<line x1="502.27" y1="206.1" x2="502.27" y2="232.3"/>
<line x1="507.72" y1="208" x2="507.72" y2="233.2"/>
<line x1="513.16" y1="209.3" x2="513.16" y2="233.6"/>
<line x1="518.6" y1="210.9" x2="518.6" y2="234.1"/>
<line x1="524.05" y1="212" x2="524.05" y2="233.9"/>
<line x1="529.49" y1="212.4" x2="529.49" y2="233.4"/>
<line x1="534.93" y1="212.8" x2="534.93" y2="232.8"/>
<line x1="540.38" y1="213.3" x2="540.38" y2="232.1"/>
<line x1="545.82" y1="213.7" x2="545.82" y2="231.7"/>
<line x1="551.26" y1="213.65" x2="551.26" y2="231.88"/>
<line x1="556.7" y1="213.6" x2="556.7" y2="232.05"/>
<line x1="562.15" y1="213.55" x2="562.15" y2="232.22"/>
<line x1="567.59" y1="213.5" x2="567.59" y2="232.4"/>
<line x1="573.03" y1="212.93" x2="573.03" y2="232.41"/>
<line x1="578.48" y1="212.37" x2="578.48" y2="232.41"/>
<line x1="583.92" y1="211.8" x2="583.92" y2="232.42"/>
<line x1="589.36" y1="211.8" x2="589.36" y2="232.42"/>
<line x1="594.81" y1="211.8" x2="594.81" y2="232.43"/>
<line x1="600.25" y1="211.8" x2="600.25" y2="232.43"/>
<line x1="605.69" y1="211.8" x2="605.69" y2="232.44"/>
<line x1="611.13" y1="211.8" x2="611.13" y2="232.44"/>
<line x1="616.58" y1="211.8" x2="616.58" y2="232.45"/>
<line x1="622.02" y1="211.8" x2="622.02" y2="232.45"/>
<line x1="627.46" y1="211.8" x2="627.46" y2="232.46"/>
<line x1="632.91" y1="211.8" x2="632.91" y2="232.46"/>
<line x1="638.35" y1="211.8" x2="638.35" y2="232.47"/>
<line x1="643.79" y1="211.8" x2="643.79" y2="232.47"/>
<line x1="649.24" y1="211.8" x2="649.24" y2="232.48"/>
<line x1="654.68" y1="211.8" x2="654.68" y2="232.48"/>
<line x1="660.12" y1="211.8" x2="660.12" y2="232.49"/>
<line x1="665.56" y1="211.8" x2="665.56" y2="232.49"/>
<line x1="671.01" y1="211.8" x2="671.01" y2="232.5"/>
</g><g fill="#fa1a12">
<circle cx="404.3" cy="107.8" r="1.4"/>
<circle cx="409.74" cy="123.3" r="1.4"/>
<circle cx="415.19" cy="135.85" r="1.4"/>
<circle cx="420.63" cy="143.75" r="1.4"/>
<circle cx="426.07" cy="152.3" r="1.4"/>
<circle cx="431.51" cy="159.35" r="1.4"/>
<circle cx="436.96" cy="166.5" r="1.4"/>
<circle cx="442.4" cy="171.45" r="1.4"/>
<circle cx="447.84" cy="176.25" r="1.4"/>
<circle cx="453.29" cy="182" r="1.4"/>
<circle cx="458.73" cy="188.65" r="1.4"/>
<circle cx="464.17" cy="194.2" r="1.4"/>
<circle cx="469.62" cy="199.3" r="1.4"/>
<circle cx="475.06" cy="203.2" r="1.4"/>
<circle cx="480.5" cy="207.15" r="1.4"/>
<circle cx="485.94" cy="211.45" r="1.4"/>
<circle cx="491.39" cy="215.15" r="1.4"/>
<circle cx="496.83" cy="217.8" r="1.4"/>
<circle cx="502.27" cy="219.2" r="1.4"/>
<circle cx="507.72" cy="220.6" r="1.4"/>
<circle cx="513.16" cy="221.45" r="1.4"/>
<circle cx="518.6" cy="222.5" r="1.4"/>
<circle cx="524.05" cy="222.95" r="1.4"/>
<circle cx="529.49" cy="222.9" r="1.4"/>
<circle cx="534.93" cy="222.8" r="1.4"/>
<circle cx="540.38" cy="222.7" r="1.4"/>
<circle cx="545.82" cy="222.7" r="1.4"/>
<circle cx="551.26" cy="222.76" r="1.4"/>
<circle cx="556.7" cy="222.82" r="1.4"/>
<circle cx="562.15" cy="222.89" r="1.4"/>
<circle cx="567.59" cy="222.95" r="1.4"/>
<circle cx="573.03" cy="222.67" r="1.4"/>
<circle cx="578.48" cy="222.39" r="1.4"/>
<circle cx="583.92" cy="222.11" r="1.4"/>
<circle cx="589.36" cy="222.11" r="1.4"/>
<circle cx="594.81" cy="222.11" r="1.4"/>
<circle cx="600.25" cy="222.12" r="1.4"/>
<circle cx="605.69" cy="222.12" r="1.4"/>
<circle cx="611.13" cy="222.12" r="1.4"/>
<circle cx="616.58" cy="222.12" r="1.4"/>
<circle cx="622.02" cy="222.13" r="1.4"/>
<circle cx="627.46" cy="222.13" r="1.4"/>
<circle cx="632.91" cy="222.13" r="1.4"/>
<circle cx="638.35" cy="222.13" r="1.4"/>
<circle cx="643.79" cy="222.14" r="1.4"/>
<circle cx="649.24" cy="222.14" r="1.4"/>
<circle cx="654.68" cy="222.14" r="1.4"/>
<circle cx="660.12" cy="222.14" r="1.4"/>
<circle cx="665.56" cy="222.15" r="1.4"/>
<circle cx="671.01" cy="222.15" r="1.4"/>
</g>
<g stroke="#1646a0" stroke-width="2">
<line x1="404.4" y1="300.9" x2="404.4" y2="510.6"/>
<line x1="409.85" y1="303.1" x2="409.85" y2="512.3"/>
<line x1="415.29" y1="311" x2="415.29" y2="511.5"/>
<line x1="420.74" y1="324.6" x2="420.74" y2="507.6"/>
<line x1="426.19" y1="339" x2="426.19" y2="504.1"/>
<line x1="431.63" y1="353.5" x2="431.63" y2="500.1"/>
<line x1="437.08" y1="370.6" x2="437.08" y2="494.8"/>
<line x1="442.53" y1="382.4" x2="442.53" y2="492.5"/>
<line x1="447.98" y1="392.1" x2="447.98" y2="491.3"/>
<line x1="453.42" y1="405.1" x2="453.42" y2="487.5"/>
<line x1="458.87" y1="415.9" x2="458.87" y2="484.6"/>
<line x1="464.32" y1="426.8" x2="464.32" y2="481.4"/>
<line x1="469.76" y1="435" x2="469.76" y2="480.5"/>
<line x1="475.21" y1="440.4" x2="475.21" y2="480.5"/>
<line x1="480.66" y1="444.5" x2="480.66" y2="481.6"/>
<line x1="486.1" y1="447.4" x2="486.1" y2="482.7"/>
<line x1="491.55" y1="450.1" x2="491.55" y2="484.3"/>
<line x1="497" y1="451.8" x2="497" y2="484.7"/>
<line x1="502.45" y1="453.1" x2="502.45" y2="485.3"/>
<line x1="507.89" y1="454.1" x2="507.89" y2="485.5"/>
<line x1="513.34" y1="454.8" x2="513.34" y2="485.7"/>
<line x1="518.79" y1="455.3" x2="518.79" y2="485.9"/>
<line x1="524.23" y1="455.9" x2="524.23" y2="486.3"/>
<line x1="529.68" y1="456.2" x2="529.68" y2="486.7"/>
<line x1="535.13" y1="456.5" x2="535.13" y2="486.5"/>
<line x1="540.58" y1="456.2" x2="540.58" y2="486"/>
<line x1="546.02" y1="455.7" x2="546.02" y2="485.6"/>
<line x1="551.47" y1="455.1" x2="551.47" y2="485.2"/>
<line x1="556.92" y1="454.5" x2="556.92" y2="484.9"/>
<line x1="562.36" y1="453.9" x2="562.36" y2="484.6"/>
<line x1="567.81" y1="453.3" x2="567.81" y2="484.4"/>
<line x1="573.26" y1="452.7" x2="573.26" y2="484.2"/>
<line x1="578.7" y1="452.1" x2="578.7" y2="484.1"/>
<line x1="584.15" y1="452.1" x2="584.15" y2="484.1"/>
<line x1="589.6" y1="452.1" x2="589.6" y2="484.1"/>
<line x1="595.04" y1="452.1" x2="595.04" y2="484.1"/>
<line x1="600.49" y1="452.1" x2="600.49" y2="484.1"/>
<line x1="605.94" y1="452.1" x2="605.94" y2="484.1"/>
<line x1="611.39" y1="452.1" x2="611.39" y2="484.1"/>
<line x1="616.83" y1="452.1" x2="616.83" y2="484.1"/>
<line x1="622.28" y1="452.1" x2="622.28" y2="484.1"/>
<line x1="627.73" y1="452.1" x2="627.73" y2="484.1"/>
<line x1="633.17" y1="452.1" x2="633.17" y2="484.1"/>
<line x1="638.62" y1="452.1" x2="638.62" y2="484.1"/>
<line x1="644.07" y1="452.1" x2="644.07" y2="484.1"/>
<line x1="649.51" y1="452.1" x2="649.51" y2="484.1"/>
<line x1="654.96" y1="452.1" x2="654.96" y2="484.1"/>
<line x1="660.41" y1="452.1" x2="660.41" y2="484.1"/>
<line x1="665.86" y1="452.1" x2="665.86" y2="484.1"/>
<line x1="671.3" y1="452.1" x2="671.3" y2="484.1"/>
</g><g fill="#fa1a12">
<circle cx="404.4" cy="405.75" r="1.4"/>
<circle cx="409.85" cy="407.7" r="1.4"/>
<circle cx="415.29" cy="411.25" r="1.4"/>
<circle cx="420.74" cy="416.1" r="1.4"/>
<circle cx="426.19" cy="421.55" r="1.4"/>
<circle cx="431.63" cy="426.8" r="1.4"/>
<circle cx="437.08" cy="432.7" r="1.4"/>
<circle cx="442.53" cy="437.45" r="1.4"/>
<circle cx="447.98" cy="441.7" r="1.4"/>
<circle cx="453.42" cy="446.3" r="1.4"/>
<circle cx="458.87" cy="450.25" r="1.4"/>
<circle cx="464.32" cy="454.1" r="1.4"/>
<circle cx="469.76" cy="457.75" r="1.4"/>
<circle cx="475.21" cy="460.45" r="1.4"/>
<circle cx="480.66" cy="463.05" r="1.4"/>
<circle cx="486.1" cy="465.05" r="1.4"/>
<circle cx="491.55" cy="467.2" r="1.4"/>
<circle cx="497" cy="468.25" r="1.4"/>
<circle cx="502.45" cy="469.2" r="1.4"/>
<circle cx="507.89" cy="469.8" r="1.4"/>
<circle cx="513.34" cy="470.25" r="1.4"/>
<circle cx="518.79" cy="470.6" r="1.4"/>
<circle cx="524.23" cy="471.1" r="1.4"/>
<circle cx="529.68" cy="471.45" r="1.4"/>
<circle cx="535.13" cy="471.5" r="1.4"/>
<circle cx="540.58" cy="471.1" r="1.4"/>
<circle cx="546.02" cy="470.65" r="1.4"/>
<circle cx="551.47" cy="470.15" r="1.4"/>
<circle cx="556.92" cy="469.7" r="1.4"/>
<circle cx="562.36" cy="469.25" r="1.4"/>
<circle cx="567.81" cy="468.85" r="1.4"/>
<circle cx="573.26" cy="468.45" r="1.4"/>
<circle cx="578.7" cy="468.1" r="1.4"/>
<circle cx="584.15" cy="468.1" r="1.4"/>
<circle cx="589.6" cy="468.1" r="1.4"/>
<circle cx="595.04" cy="468.1" r="1.4"/>
<circle cx="600.49" cy="468.1" r="1.4"/>
<circle cx="605.94" cy="468.1" r="1.4"/>
<circle cx="611.39" cy="468.1" r="1.4"/>
<circle cx="616.83" cy="468.1" r="1.4"/>
<circle cx="622.28" cy="468.1" r="1.4"/>
<circle cx="627.73" cy="468.1" r="1.4"/>
<circle cx="633.17" cy="468.1" r="1.4"/>
<circle cx="638.62" cy="468.1" r="1.4"/>
<circle cx="644.07" cy="468.1" r="1.4"/>
<circle cx="649.51" cy="468.1" r="1.4"/>
<circle cx="654.96" cy="468.1" r="1.4"/>
<circle cx="660.41" cy="468.1" r="1.4"/>
<circle cx="665.86" cy="468.1" r="1.4"/>
<circle cx="671.3" cy="468.1" r="1.4"/>
</g>
<g stroke="#1646a0" stroke-width="2">
<line x1="404.5" y1="579.4" x2="404.5" y2="789.9"/>
<line x1="409.94" y1="596.3" x2="409.94" y2="786.9"/>
<line x1="415.39" y1="616.6" x2="415.39" y2="781.2"/>
<line x1="420.83" y1="633.5" x2="420.83" y2="776.8"/>
<line x1="426.27" y1="648" x2="426.27" y2="773.7"/>
<line x1="431.71" y1="663.7" x2="431.71" y2="769.8"/>
<line x1="437.16" y1="675.8" x2="437.16" y2="767.6"/>
<line x1="442.6" y1="686.1" x2="442.6" y2="766.7"/>
<line x1="448.04" y1="693.8" x2="448.04" y2="766.7"/>
<line x1="453.49" y1="699.9" x2="453.49" y2="767.6"/>
<line x1="458.93" y1="706.5" x2="458.93" y2="767.1"/>
<line x1="464.37" y1="714.4" x2="464.37" y2="765"/>
<line x1="469.82" y1="721.2" x2="469.82" y2="762.8"/>
<line x1="475.26" y1="726.4" x2="475.26" y2="761.5"/>
<line x1="480.7" y1="731.2" x2="480.7" y2="759.9"/>
<line x1="486.14" y1="735.6" x2="486.14" y2="759.3"/>
<line x1="491.59" y1="738.2" x2="491.59" y2="758.8"/>
<line x1="497.03" y1="739.1" x2="497.03" y2="758.85"/>
<line x1="502.47" y1="740.2" x2="502.47" y2="758.9"/>
<line x1="507.92" y1="740.7" x2="507.92" y2="758.95"/>
<line x1="513.36" y1="740.9" x2="513.36" y2="759"/>
<line x1="518.8" y1="741.1" x2="518.8" y2="759.05"/>
<line x1="524.25" y1="741.3" x2="524.25" y2="759.1"/>
<line x1="529.69" y1="741.25" x2="529.69" y2="759.15"/>
<line x1="535.13" y1="741.2" x2="535.13" y2="759.2"/>
<line x1="540.58" y1="741.15" x2="540.58" y2="759.25"/>
<line x1="546.02" y1="741.1" x2="546.02" y2="759.3"/>
<line x1="551.46" y1="740.87" x2="551.46" y2="759.26"/>
<line x1="556.9" y1="740.64" x2="556.9" y2="759.21"/>
<line x1="562.35" y1="740.41" x2="562.35" y2="759.17"/>
<line x1="567.79" y1="740.19" x2="567.79" y2="759.13"/>
<line x1="573.23" y1="739.96" x2="573.23" y2="759.09"/>
<line x1="578.68" y1="739.73" x2="578.68" y2="759.04"/>
<line x1="584.12" y1="739.5" x2="584.12" y2="759"/>
<line x1="589.56" y1="739.5" x2="589.56" y2="758.99"/>
<line x1="595" y1="739.5" x2="595" y2="758.99"/>
<line x1="600.45" y1="739.5" x2="600.45" y2="758.98"/>
<line x1="605.89" y1="739.5" x2="605.89" y2="758.98"/>
<line x1="611.33" y1="739.5" x2="611.33" y2="758.97"/>
<line x1="616.78" y1="739.5" x2="616.78" y2="758.96"/>
<line x1="622.22" y1="739.5" x2="622.22" y2="758.96"/>
<line x1="627.66" y1="739.5" x2="627.66" y2="758.95"/>
<line x1="633.11" y1="739.5" x2="633.11" y2="758.94"/>
<line x1="638.55" y1="739.5" x2="638.55" y2="758.94"/>
<line x1="643.99" y1="739.5" x2="643.99" y2="758.93"/>
<line x1="649.43" y1="739.5" x2="649.43" y2="758.92"/>
<line x1="654.88" y1="739.5" x2="654.88" y2="758.92"/>
<line x1="660.32" y1="739.5" x2="660.32" y2="758.91"/>
<line x1="665.76" y1="739.5" x2="665.76" y2="758.91"/>
<line x1="671.21" y1="739.5" x2="671.21" y2="758.9"/>
</g><g fill="#fa1a12">
<circle cx="404.5" cy="684.65" r="1.4"/>
<circle cx="409.94" cy="691.6" r="1.4"/>
<circle cx="415.39" cy="698.9" r="1.4"/>
<circle cx="420.83" cy="705.15" r="1.4"/>
<circle cx="426.27" cy="710.85" r="1.4"/>
<circle cx="431.71" cy="716.75" r="1.4"/>
<circle cx="437.16" cy="721.7" r="1.4"/>
<circle cx="442.6" cy="726.4" r="1.4"/>
<circle cx="448.04" cy="730.25" r="1.4"/>
<circle cx="453.49" cy="733.75" r="1.4"/>
<circle cx="458.93" cy="736.8" r="1.4"/>
<circle cx="464.37" cy="739.7" r="1.4"/>
<circle cx="469.82" cy="742" r="1.4"/>
<circle cx="475.26" cy="743.95" r="1.4"/>
<circle cx="480.7" cy="745.55" r="1.4"/>
<circle cx="486.14" cy="747.45" r="1.4"/>
<circle cx="491.59" cy="748.5" r="1.4"/>
<circle cx="497.03" cy="748.97" r="1.4"/>
<circle cx="502.47" cy="749.55" r="1.4"/>
<circle cx="507.92" cy="749.83" r="1.4"/>
<circle cx="513.36" cy="749.95" r="1.4"/>
<circle cx="518.8" cy="750.08" r="1.4"/>
<circle cx="524.25" cy="750.2" r="1.4"/>
<circle cx="529.69" cy="750.2" r="1.4"/>
<circle cx="535.13" cy="750.2" r="1.4"/>
<circle cx="540.58" cy="750.2" r="1.4"/>
<circle cx="546.02" cy="750.2" r="1.4"/>
<circle cx="551.46" cy="750.06" r="1.4"/>
<circle cx="556.9" cy="749.93" r="1.4"/>
<circle cx="562.35" cy="749.79" r="1.4"/>
<circle cx="567.79" cy="749.66" r="1.4"/>
<circle cx="573.23" cy="749.52" r="1.4"/>
<circle cx="578.68" cy="749.39" r="1.4"/>
<circle cx="584.12" cy="749.25" r="1.4"/>
<circle cx="589.56" cy="749.25" r="1.4"/>
<circle cx="595" cy="749.24" r="1.4"/>
<circle cx="600.45" cy="749.24" r="1.4"/>
<circle cx="605.89" cy="749.24" r="1.4"/>
<circle cx="611.33" cy="749.23" r="1.4"/>
<circle cx="616.78" cy="749.23" r="1.4"/>
<circle cx="622.22" cy="749.23" r="1.4"/>
<circle cx="627.66" cy="749.23" r="1.4"/>
<circle cx="633.11" cy="749.22" r="1.4"/>
<circle cx="638.55" cy="749.22" r="1.4"/>
<circle cx="643.99" cy="749.22" r="1.4"/>
<circle cx="649.43" cy="749.21" r="1.4"/>
<circle cx="654.88" cy="749.21" r="1.4"/>
<circle cx="660.32" cy="749.21" r="1.4"/>
<circle cx="665.76" cy="749.2" r="1.4"/>
<circle cx="671.21" cy="749.2" r="1.4"/>
</g>
<line x1="178.5" y1="12.8" x2="178.5" y2="244.3" stroke="#000" stroke-width="1.5" stroke-dasharray="5.4 3" stroke-dashoffset="2.3"/>
<line x1="523.9" y1="12.6" x2="523.9" y2="244.2" stroke="#000" stroke-width="1.5" stroke-dasharray="5.4 3" stroke-dashoffset="2.3"/>
<line x1="189.4" y1="291" x2="189.4" y2="522.4" stroke="#000" stroke-width="1.5" stroke-dasharray="5.4 3" stroke-dashoffset="2.3"/>
<line x1="535" y1="291" x2="535" y2="522.4" stroke="#000" stroke-width="1.5" stroke-dasharray="5.4 3" stroke-dashoffset="2.3"/>
<line x1="178.2" y1="568.4" x2="178.2" y2="800.3" stroke="#000" stroke-width="1.5" stroke-dasharray="5.4 3" stroke-dashoffset="2.3"/>
<line x1="523.6" y1="569.3" x2="523.6" y2="800.3" stroke="#000" stroke-width="1.5" stroke-dasharray="5.4 3" stroke-dashoffset="2.3"/>
<rect x="46.6" y="12.8" width="291.1" height="231.5" fill="none" stroke="#1e1e1e" stroke-width="1.35"/>
<rect x="391.2" y="12.6" width="293" height="231.6" fill="none" stroke="#1e1e1e" stroke-width="1.35"/>
<rect x="46.5" y="291" width="291" height="231.4" fill="none" stroke="#1e1e1e" stroke-width="1.35"/>
<rect x="391.2" y="291" width="292.9" height="231.4" fill="none" stroke="#1e1e1e" stroke-width="1.35"/>
<rect x="46.7" y="568.4" width="290.7" height="231.9" fill="none" stroke="#1e1e1e" stroke-width="1.35"/>
<rect x="391.2" y="569.3" width="292.9" height="231" fill="none" stroke="#1e1e1e" stroke-width="1.35"/>
<line x1="41" y1="23.47" x2="46.6" y2="23.47" stroke="#1e1e1e" stroke-width="1.2"/>
<text x="38.7" y="26.97" text-anchor="end" class="t">0.6</text>
<line x1="41" y1="58.13" x2="46.6" y2="58.13" stroke="#1e1e1e" stroke-width="1.2"/>
<text x="38.7" y="61.63" text-anchor="end" class="t">0.4</text>
<line x1="41" y1="92.79" x2="46.6" y2="92.79" stroke="#1e1e1e" stroke-width="1.2"/>
<text x="38.7" y="96.29" text-anchor="end" class="t">0.2</text>
<line x1="41" y1="127.45" x2="46.6" y2="127.45" stroke="#1e1e1e" stroke-width="1.2"/>
<text x="38.7" y="130.95" text-anchor="end" class="t">0.0</text>
<line x1="41" y1="162.11" x2="46.6" y2="162.11" stroke="#1e1e1e" stroke-width="1.2"/>
<text x="38.7" y="165.61" text-anchor="end" class="t">-0.2</text>
<line x1="41" y1="196.77" x2="46.6" y2="196.77" stroke="#1e1e1e" stroke-width="1.2"/>
<text x="38.7" y="200.27" text-anchor="end" class="t">-0.4</text>
<line x1="41" y1="231.43" x2="46.6" y2="231.43" stroke="#1e1e1e" stroke-width="1.2"/>
<text x="38.7" y="234.93" text-anchor="end" class="t">-0.6</text>
<line x1="385.6" y1="26.6" x2="391.2" y2="26.6" stroke="#1e1e1e" stroke-width="1.2"/>
<text x="383.3" y="30.1" text-anchor="end" class="t">1.3</text>
<line x1="385.6" y1="44.78" x2="391.2" y2="44.78" stroke="#1e1e1e" stroke-width="1.2"/>
<text x="383.3" y="48.28" text-anchor="end" class="t">1.2</text>
<line x1="385.6" y1="62.96" x2="391.2" y2="62.96" stroke="#1e1e1e" stroke-width="1.2"/>
<text x="383.3" y="66.46" text-anchor="end" class="t">1.1</text>
<line x1="385.6" y1="81.14" x2="391.2" y2="81.14" stroke="#1e1e1e" stroke-width="1.2"/>
<text x="383.3" y="84.64" text-anchor="end" class="t">1.0</text>
<line x1="385.6" y1="99.32" x2="391.2" y2="99.32" stroke="#1e1e1e" stroke-width="1.2"/>
<text x="383.3" y="102.82" text-anchor="end" class="t">0.9</text>
<line x1="385.6" y1="117.5" x2="391.2" y2="117.5" stroke="#1e1e1e" stroke-width="1.2"/>
<text x="383.3" y="121" text-anchor="end" class="t">0.8</text>
<line x1="385.6" y1="135.68" x2="391.2" y2="135.68" stroke="#1e1e1e" stroke-width="1.2"/>
<text x="383.3" y="139.18" text-anchor="end" class="t">0.7</text>
<line x1="385.6" y1="153.86" x2="391.2" y2="153.86" stroke="#1e1e1e" stroke-width="1.2"/>
<text x="383.3" y="157.36" text-anchor="end" class="t">0.6</text>
<line x1="385.6" y1="172.04" x2="391.2" y2="172.04" stroke="#1e1e1e" stroke-width="1.2"/>
<text x="383.3" y="175.54" text-anchor="end" class="t">0.5</text>
<line x1="385.6" y1="190.22" x2="391.2" y2="190.22" stroke="#1e1e1e" stroke-width="1.2"/>
<text x="383.3" y="193.72" text-anchor="end" class="t">0.4</text>
<line x1="385.6" y1="208.4" x2="391.2" y2="208.4" stroke="#1e1e1e" stroke-width="1.2"/>
<text x="383.3" y="211.9" text-anchor="end" class="t">0.3</text>
<line x1="385.6" y1="226.58" x2="391.2" y2="226.58" stroke="#1e1e1e" stroke-width="1.2"/>
<text x="383.3" y="230.08" text-anchor="end" class="t">0.2</text>
<line x1="40.9" y1="309.46" x2="46.5" y2="309.46" stroke="#1e1e1e" stroke-width="1.2"/>
<text x="38.6" y="312.96" text-anchor="end" class="t">0.2</text>
<line x1="40.9" y1="344.93" x2="46.5" y2="344.93" stroke="#1e1e1e" stroke-width="1.2"/>
<text x="38.6" y="348.43" text-anchor="end" class="t">0.1</text>
<line x1="40.9" y1="380.4" x2="46.5" y2="380.4" stroke="#1e1e1e" stroke-width="1.2"/>
<text x="38.6" y="383.9" text-anchor="end" class="t">0.0</text>
<line x1="40.9" y1="415.87" x2="46.5" y2="415.87" stroke="#1e1e1e" stroke-width="1.2"/>
<text x="38.6" y="419.37" text-anchor="end" class="t">-0.1</text>
<line x1="40.9" y1="451.34" x2="46.5" y2="451.34" stroke="#1e1e1e" stroke-width="1.2"/>
<text x="38.6" y="454.84" text-anchor="end" class="t">-0.2</text>
<line x1="40.9" y1="486.81" x2="46.5" y2="486.81" stroke="#1e1e1e" stroke-width="1.2"/>
<text x="38.6" y="490.31" text-anchor="end" class="t">-0.3</text>
<line x1="40.9" y1="522.28" x2="46.5" y2="522.28" stroke="#1e1e1e" stroke-width="1.2"/>
<text x="38.6" y="525.78" text-anchor="end" class="t">-0.4</text>
<line x1="385.6" y1="305.4" x2="391.2" y2="305.4" stroke="#1e1e1e" stroke-width="1.2"/>
<text x="383.3" y="308.9" text-anchor="end" class="t">0.8</text>
<line x1="385.6" y1="333.73" x2="391.2" y2="333.73" stroke="#1e1e1e" stroke-width="1.2"/>
<text x="383.3" y="337.23" text-anchor="end" class="t">0.7</text>
<line x1="385.6" y1="362.06" x2="391.2" y2="362.06" stroke="#1e1e1e" stroke-width="1.2"/>
<text x="383.3" y="365.56" text-anchor="end" class="t">0.6</text>
<line x1="385.6" y1="390.39" x2="391.2" y2="390.39" stroke="#1e1e1e" stroke-width="1.2"/>
<text x="383.3" y="393.89" text-anchor="end" class="t">0.5</text>
<line x1="385.6" y1="418.72" x2="391.2" y2="418.72" stroke="#1e1e1e" stroke-width="1.2"/>
<text x="383.3" y="422.22" text-anchor="end" class="t">0.4</text>
<line x1="385.6" y1="447.05" x2="391.2" y2="447.05" stroke="#1e1e1e" stroke-width="1.2"/>
<text x="383.3" y="450.55" text-anchor="end" class="t">0.3</text>
<line x1="385.6" y1="475.38" x2="391.2" y2="475.38" stroke="#1e1e1e" stroke-width="1.2"/>
<text x="383.3" y="478.88" text-anchor="end" class="t">0.2</text>
<line x1="385.6" y1="503.71" x2="391.2" y2="503.71" stroke="#1e1e1e" stroke-width="1.2"/>
<text x="383.3" y="507.21" text-anchor="end" class="t">0.1</text>
<line x1="41.1" y1="572.85" x2="46.7" y2="572.85" stroke="#1e1e1e" stroke-width="1.2"/>
<text x="38.8" y="576.35" text-anchor="end" class="t">0.3</text>
<line x1="41.1" y1="613.3" x2="46.7" y2="613.3" stroke="#1e1e1e" stroke-width="1.2"/>
<text x="38.8" y="616.8" text-anchor="end" class="t">0.2</text>
<line x1="41.1" y1="653.75" x2="46.7" y2="653.75" stroke="#1e1e1e" stroke-width="1.2"/>
<text x="38.8" y="657.25" text-anchor="end" class="t">0.1</text>
<line x1="41.1" y1="694.2" x2="46.7" y2="694.2" stroke="#1e1e1e" stroke-width="1.2"/>
<text x="38.8" y="697.7" text-anchor="end" class="t">0.0</text>
<line x1="41.1" y1="734.65" x2="46.7" y2="734.65" stroke="#1e1e1e" stroke-width="1.2"/>
<text x="38.8" y="738.15" text-anchor="end" class="t">-0.1</text>
<line x1="41.1" y1="775.1" x2="46.7" y2="775.1" stroke="#1e1e1e" stroke-width="1.2"/>
<text x="38.8" y="778.6" text-anchor="end" class="t">-0.2</text>
<line x1="385.6" y1="570.2" x2="391.2" y2="570.2" stroke="#1e1e1e" stroke-width="1.2"/>
<text x="383.3" y="573.7" text-anchor="end" class="t">1.3</text>
<line x1="385.6" y1="586.83" x2="391.2" y2="586.83" stroke="#1e1e1e" stroke-width="1.2"/>
<text x="383.3" y="590.33" text-anchor="end" class="t">1.2</text>
<line x1="385.6" y1="603.46" x2="391.2" y2="603.46" stroke="#1e1e1e" stroke-width="1.2"/>
<text x="383.3" y="606.96" text-anchor="end" class="t">1.1</text>
<line x1="385.6" y1="620.09" x2="391.2" y2="620.09" stroke="#1e1e1e" stroke-width="1.2"/>
<text x="383.3" y="623.59" text-anchor="end" class="t">1.0</text>
<line x1="385.6" y1="636.72" x2="391.2" y2="636.72" stroke="#1e1e1e" stroke-width="1.2"/>
<text x="383.3" y="640.22" text-anchor="end" class="t">0.9</text>
<line x1="385.6" y1="653.35" x2="391.2" y2="653.35" stroke="#1e1e1e" stroke-width="1.2"/>
<text x="383.3" y="656.85" text-anchor="end" class="t">0.8</text>
<line x1="385.6" y1="669.98" x2="391.2" y2="669.98" stroke="#1e1e1e" stroke-width="1.2"/>
<text x="383.3" y="673.48" text-anchor="end" class="t">0.7</text>
<line x1="385.6" y1="686.61" x2="391.2" y2="686.61" stroke="#1e1e1e" stroke-width="1.2"/>
<text x="383.3" y="690.11" text-anchor="end" class="t">0.6</text>
<line x1="385.6" y1="703.24" x2="391.2" y2="703.24" stroke="#1e1e1e" stroke-width="1.2"/>
<text x="383.3" y="706.74" text-anchor="end" class="t">0.5</text>
<line x1="385.6" y1="719.87" x2="391.2" y2="719.87" stroke="#1e1e1e" stroke-width="1.2"/>
<text x="383.3" y="723.37" text-anchor="end" class="t">0.4</text>
<line x1="385.6" y1="736.5" x2="391.2" y2="736.5" stroke="#1e1e1e" stroke-width="1.2"/>
<text x="383.3" y="740" text-anchor="end" class="t">0.3</text>
<line x1="385.6" y1="753.13" x2="391.2" y2="753.13" stroke="#1e1e1e" stroke-width="1.2"/>
<text x="383.3" y="756.63" text-anchor="end" class="t">0.2</text>
<line x1="385.6" y1="769.76" x2="391.2" y2="769.76" stroke="#1e1e1e" stroke-width="1.2"/>
<text x="383.3" y="773.26" text-anchor="end" class="t">0.1</text>
<line x1="385.6" y1="786.39" x2="391.2" y2="786.39" stroke="#1e1e1e" stroke-width="1.2"/>
<text x="383.3" y="789.89" text-anchor="end" class="t">0.0</text>
<line x1="59.5" y1="244.3" x2="59.5" y2="249.7" stroke="#1e1e1e" stroke-width="1.2"/>
<line x1="147.7" y1="244.3" x2="147.7" y2="249.7" stroke="#1e1e1e" stroke-width="1.2"/>
<line x1="236" y1="244.3" x2="236" y2="249.7" stroke="#1e1e1e" stroke-width="1.2"/>
<line x1="324.2" y1="244.3" x2="324.2" y2="249.7" stroke="#1e1e1e" stroke-width="1.2"/>
<line x1="50.95" y1="244.3" x2="50.95" y2="247.3" stroke="#1e1e1e" stroke-width="1.2"/>
<line x1="55.46" y1="244.3" x2="55.46" y2="247.3" stroke="#1e1e1e" stroke-width="1.2"/>
<line x1="86.06" y1="244.3" x2="86.06" y2="247.3" stroke="#1e1e1e" stroke-width="1.2"/>
<line x1="101.6" y1="244.3" x2="101.6" y2="247.3" stroke="#1e1e1e" stroke-width="1.2"/>
<line x1="112.62" y1="244.3" x2="112.62" y2="247.3" stroke="#1e1e1e" stroke-width="1.2"/>
<line x1="121.17" y1="244.3" x2="121.17" y2="247.3" stroke="#1e1e1e" stroke-width="1.2"/>
<line x1="128.16" y1="244.3" x2="128.16" y2="247.3" stroke="#1e1e1e" stroke-width="1.2"/>
<line x1="134.06" y1="244.3" x2="134.06" y2="247.3" stroke="#1e1e1e" stroke-width="1.2"/>
<line x1="139.18" y1="244.3" x2="139.18" y2="247.3" stroke="#1e1e1e" stroke-width="1.2"/>
<line x1="143.69" y1="244.3" x2="143.69" y2="247.3" stroke="#1e1e1e" stroke-width="1.2"/>
<line x1="174.29" y1="244.3" x2="174.29" y2="247.3" stroke="#1e1e1e" stroke-width="1.2"/>
<line x1="189.83" y1="244.3" x2="189.83" y2="247.3" stroke="#1e1e1e" stroke-width="1.2"/>
<line x1="200.85" y1="244.3" x2="200.85" y2="247.3" stroke="#1e1e1e" stroke-width="1.2"/>
<line x1="209.4" y1="244.3" x2="209.4" y2="247.3" stroke="#1e1e1e" stroke-width="1.2"/>
<line x1="216.39" y1="244.3" x2="216.39" y2="247.3" stroke="#1e1e1e" stroke-width="1.2"/>
<line x1="222.29" y1="244.3" x2="222.29" y2="247.3" stroke="#1e1e1e" stroke-width="1.2"/>
<line x1="227.41" y1="244.3" x2="227.41" y2="247.3" stroke="#1e1e1e" stroke-width="1.2"/>
<line x1="231.92" y1="244.3" x2="231.92" y2="247.3" stroke="#1e1e1e" stroke-width="1.2"/>
<line x1="262.52" y1="244.3" x2="262.52" y2="247.3" stroke="#1e1e1e" stroke-width="1.2"/>
<line x1="278.06" y1="244.3" x2="278.06" y2="247.3" stroke="#1e1e1e" stroke-width="1.2"/>
<line x1="289.08" y1="244.3" x2="289.08" y2="247.3" stroke="#1e1e1e" stroke-width="1.2"/>
<line x1="297.63" y1="244.3" x2="297.63" y2="247.3" stroke="#1e1e1e" stroke-width="1.2"/>
<line x1="304.62" y1="244.3" x2="304.62" y2="247.3" stroke="#1e1e1e" stroke-width="1.2"/>
<line x1="310.52" y1="244.3" x2="310.52" y2="247.3" stroke="#1e1e1e" stroke-width="1.2"/>
<line x1="315.64" y1="244.3" x2="315.64" y2="247.3" stroke="#1e1e1e" stroke-width="1.2"/>
<line x1="320.15" y1="244.3" x2="320.15" y2="247.3" stroke="#1e1e1e" stroke-width="1.2"/>
<line x1="404.3" y1="244.2" x2="404.3" y2="249.6" stroke="#1e1e1e" stroke-width="1.2"/>
<line x1="493.3" y1="244.2" x2="493.3" y2="249.6" stroke="#1e1e1e" stroke-width="1.2"/>
<line x1="582.3" y1="244.2" x2="582.3" y2="249.6" stroke="#1e1e1e" stroke-width="1.2"/>
<line x1="671.3" y1="244.2" x2="671.3" y2="249.6" stroke="#1e1e1e" stroke-width="1.2"/>
<line x1="395.68" y1="244.2" x2="395.68" y2="247.2" stroke="#1e1e1e" stroke-width="1.2"/>
<line x1="400.23" y1="244.2" x2="400.23" y2="247.2" stroke="#1e1e1e" stroke-width="1.2"/>
<line x1="431.09" y1="244.2" x2="431.09" y2="247.2" stroke="#1e1e1e" stroke-width="1.2"/>
<line x1="446.76" y1="244.2" x2="446.76" y2="247.2" stroke="#1e1e1e" stroke-width="1.2"/>
<line x1="457.88" y1="244.2" x2="457.88" y2="247.2" stroke="#1e1e1e" stroke-width="1.2"/>
<line x1="466.51" y1="244.2" x2="466.51" y2="247.2" stroke="#1e1e1e" stroke-width="1.2"/>
<line x1="473.56" y1="244.2" x2="473.56" y2="247.2" stroke="#1e1e1e" stroke-width="1.2"/>
<line x1="479.51" y1="244.2" x2="479.51" y2="247.2" stroke="#1e1e1e" stroke-width="1.2"/>
<line x1="484.68" y1="244.2" x2="484.68" y2="247.2" stroke="#1e1e1e" stroke-width="1.2"/>
<line x1="489.23" y1="244.2" x2="489.23" y2="247.2" stroke="#1e1e1e" stroke-width="1.2"/>
<line x1="520.09" y1="244.2" x2="520.09" y2="247.2" stroke="#1e1e1e" stroke-width="1.2"/>
<line x1="535.76" y1="244.2" x2="535.76" y2="247.2" stroke="#1e1e1e" stroke-width="1.2"/>
<line x1="546.88" y1="244.2" x2="546.88" y2="247.2" stroke="#1e1e1e" stroke-width="1.2"/>
<line x1="555.51" y1="244.2" x2="555.51" y2="247.2" stroke="#1e1e1e" stroke-width="1.2"/>
<line x1="562.56" y1="244.2" x2="562.56" y2="247.2" stroke="#1e1e1e" stroke-width="1.2"/>
<line x1="568.51" y1="244.2" x2="568.51" y2="247.2" stroke="#1e1e1e" stroke-width="1.2"/>
<line x1="573.68" y1="244.2" x2="573.68" y2="247.2" stroke="#1e1e1e" stroke-width="1.2"/>
<line x1="578.23" y1="244.2" x2="578.23" y2="247.2" stroke="#1e1e1e" stroke-width="1.2"/>
<line x1="609.09" y1="244.2" x2="609.09" y2="247.2" stroke="#1e1e1e" stroke-width="1.2"/>
<line x1="624.76" y1="244.2" x2="624.76" y2="247.2" stroke="#1e1e1e" stroke-width="1.2"/>
<line x1="635.88" y1="244.2" x2="635.88" y2="247.2" stroke="#1e1e1e" stroke-width="1.2"/>
<line x1="644.51" y1="244.2" x2="644.51" y2="247.2" stroke="#1e1e1e" stroke-width="1.2"/>
<line x1="651.56" y1="244.2" x2="651.56" y2="247.2" stroke="#1e1e1e" stroke-width="1.2"/>
<line x1="657.51" y1="244.2" x2="657.51" y2="247.2" stroke="#1e1e1e" stroke-width="1.2"/>
<line x1="662.68" y1="244.2" x2="662.68" y2="247.2" stroke="#1e1e1e" stroke-width="1.2"/>
<line x1="667.23" y1="244.2" x2="667.23" y2="247.2" stroke="#1e1e1e" stroke-width="1.2"/>
<line x1="112.3" y1="522.4" x2="112.3" y2="527.8" stroke="#1e1e1e" stroke-width="1.2"/>
<line x1="218.5" y1="522.4" x2="218.5" y2="527.8" stroke="#1e1e1e" stroke-width="1.2"/>
<line x1="324.2" y1="522.4" x2="324.2" y2="527.8" stroke="#1e1e1e" stroke-width="1.2"/>
<line x1="56.9" y1="522.4" x2="56.9" y2="525.4" stroke="#1e1e1e" stroke-width="1.2"/>
<line x1="70.14" y1="522.4" x2="70.14" y2="525.4" stroke="#1e1e1e" stroke-width="1.2"/>
<line x1="80.41" y1="522.4" x2="80.41" y2="525.4" stroke="#1e1e1e" stroke-width="1.2"/>
<line x1="88.8" y1="522.4" x2="88.8" y2="525.4" stroke="#1e1e1e" stroke-width="1.2"/>
<line x1="95.89" y1="522.4" x2="95.89" y2="525.4" stroke="#1e1e1e" stroke-width="1.2"/>
<line x1="102.03" y1="522.4" x2="102.03" y2="525.4" stroke="#1e1e1e" stroke-width="1.2"/>
<line x1="107.45" y1="522.4" x2="107.45" y2="525.4" stroke="#1e1e1e" stroke-width="1.2"/>
<line x1="144.19" y1="522.4" x2="144.19" y2="525.4" stroke="#1e1e1e" stroke-width="1.2"/>
<line x1="162.85" y1="522.4" x2="162.85" y2="525.4" stroke="#1e1e1e" stroke-width="1.2"/>
<line x1="176.09" y1="522.4" x2="176.09" y2="525.4" stroke="#1e1e1e" stroke-width="1.2"/>
<line x1="186.36" y1="522.4" x2="186.36" y2="525.4" stroke="#1e1e1e" stroke-width="1.2"/>
<line x1="194.75" y1="522.4" x2="194.75" y2="525.4" stroke="#1e1e1e" stroke-width="1.2"/>
<line x1="201.84" y1="522.4" x2="201.84" y2="525.4" stroke="#1e1e1e" stroke-width="1.2"/>
<line x1="207.98" y1="522.4" x2="207.98" y2="525.4" stroke="#1e1e1e" stroke-width="1.2"/>
<line x1="213.4" y1="522.4" x2="213.4" y2="525.4" stroke="#1e1e1e" stroke-width="1.2"/>
<line x1="250.14" y1="522.4" x2="250.14" y2="525.4" stroke="#1e1e1e" stroke-width="1.2"/>
<line x1="268.8" y1="522.4" x2="268.8" y2="525.4" stroke="#1e1e1e" stroke-width="1.2"/>
<line x1="282.04" y1="522.4" x2="282.04" y2="525.4" stroke="#1e1e1e" stroke-width="1.2"/>
<line x1="292.31" y1="522.4" x2="292.31" y2="525.4" stroke="#1e1e1e" stroke-width="1.2"/>
<line x1="300.7" y1="522.4" x2="300.7" y2="525.4" stroke="#1e1e1e" stroke-width="1.2"/>
<line x1="307.79" y1="522.4" x2="307.79" y2="525.4" stroke="#1e1e1e" stroke-width="1.2"/>
<line x1="313.93" y1="522.4" x2="313.93" y2="525.4" stroke="#1e1e1e" stroke-width="1.2"/>
<line x1="319.35" y1="522.4" x2="319.35" y2="525.4" stroke="#1e1e1e" stroke-width="1.2"/>
<line x1="457.5" y1="522.4" x2="457.5" y2="527.8" stroke="#1e1e1e" stroke-width="1.2"/>
<line x1="564.4" y1="522.4" x2="564.4" y2="527.8" stroke="#1e1e1e" stroke-width="1.2"/>
<line x1="670.7" y1="522.4" x2="670.7" y2="527.8" stroke="#1e1e1e" stroke-width="1.2"/>
<line x1="401.76" y1="522.4" x2="401.76" y2="525.4" stroke="#1e1e1e" stroke-width="1.2"/>
<line x1="415.08" y1="522.4" x2="415.08" y2="525.4" stroke="#1e1e1e" stroke-width="1.2"/>
<line x1="425.41" y1="522.4" x2="425.41" y2="525.4" stroke="#1e1e1e" stroke-width="1.2"/>
<line x1="433.85" y1="522.4" x2="433.85" y2="525.4" stroke="#1e1e1e" stroke-width="1.2"/>
<line x1="440.99" y1="522.4" x2="440.99" y2="525.4" stroke="#1e1e1e" stroke-width="1.2"/>
<line x1="447.17" y1="522.4" x2="447.17" y2="525.4" stroke="#1e1e1e" stroke-width="1.2"/>
<line x1="452.62" y1="522.4" x2="452.62" y2="525.4" stroke="#1e1e1e" stroke-width="1.2"/>
<line x1="489.59" y1="522.4" x2="489.59" y2="525.4" stroke="#1e1e1e" stroke-width="1.2"/>
<line x1="508.36" y1="522.4" x2="508.36" y2="525.4" stroke="#1e1e1e" stroke-width="1.2"/>
<line x1="521.68" y1="522.4" x2="521.68" y2="525.4" stroke="#1e1e1e" stroke-width="1.2"/>
<line x1="532.01" y1="522.4" x2="532.01" y2="525.4" stroke="#1e1e1e" stroke-width="1.2"/>
<line x1="540.45" y1="522.4" x2="540.45" y2="525.4" stroke="#1e1e1e" stroke-width="1.2"/>
<line x1="547.59" y1="522.4" x2="547.59" y2="525.4" stroke="#1e1e1e" stroke-width="1.2"/>
<line x1="553.77" y1="522.4" x2="553.77" y2="525.4" stroke="#1e1e1e" stroke-width="1.2"/>
<line x1="559.22" y1="522.4" x2="559.22" y2="525.4" stroke="#1e1e1e" stroke-width="1.2"/>
<line x1="596.19" y1="522.4" x2="596.19" y2="525.4" stroke="#1e1e1e" stroke-width="1.2"/>
<line x1="614.96" y1="522.4" x2="614.96" y2="525.4" stroke="#1e1e1e" stroke-width="1.2"/>
<line x1="628.28" y1="522.4" x2="628.28" y2="525.4" stroke="#1e1e1e" stroke-width="1.2"/>
<line x1="638.61" y1="522.4" x2="638.61" y2="525.4" stroke="#1e1e1e" stroke-width="1.2"/>
<line x1="647.05" y1="522.4" x2="647.05" y2="525.4" stroke="#1e1e1e" stroke-width="1.2"/>
<line x1="654.19" y1="522.4" x2="654.19" y2="525.4" stroke="#1e1e1e" stroke-width="1.2"/>
<line x1="660.37" y1="522.4" x2="660.37" y2="525.4" stroke="#1e1e1e" stroke-width="1.2"/>
<line x1="665.82" y1="522.4" x2="665.82" y2="525.4" stroke="#1e1e1e" stroke-width="1.2"/>
<line x1="112.4" y1="800.3" x2="112.4" y2="805.7" stroke="#1e1e1e" stroke-width="1.2"/>
<line x1="218.7" y1="800.3" x2="218.7" y2="805.7" stroke="#1e1e1e" stroke-width="1.2"/>
<line x1="324.4" y1="800.3" x2="324.4" y2="805.7" stroke="#1e1e1e" stroke-width="1.2"/>
<line x1="56.97" y1="800.3" x2="56.97" y2="803.3" stroke="#1e1e1e" stroke-width="1.2"/>
<line x1="70.22" y1="800.3" x2="70.22" y2="803.3" stroke="#1e1e1e" stroke-width="1.2"/>
<line x1="80.49" y1="800.3" x2="80.49" y2="803.3" stroke="#1e1e1e" stroke-width="1.2"/>
<line x1="88.88" y1="800.3" x2="88.88" y2="803.3" stroke="#1e1e1e" stroke-width="1.2"/>
<line x1="95.98" y1="800.3" x2="95.98" y2="803.3" stroke="#1e1e1e" stroke-width="1.2"/>
<line x1="102.13" y1="800.3" x2="102.13" y2="803.3" stroke="#1e1e1e" stroke-width="1.2"/>
<line x1="107.55" y1="800.3" x2="107.55" y2="803.3" stroke="#1e1e1e" stroke-width="1.2"/>
<line x1="144.31" y1="800.3" x2="144.31" y2="803.3" stroke="#1e1e1e" stroke-width="1.2"/>
<line x1="162.97" y1="800.3" x2="162.97" y2="803.3" stroke="#1e1e1e" stroke-width="1.2"/>
<line x1="176.22" y1="800.3" x2="176.22" y2="803.3" stroke="#1e1e1e" stroke-width="1.2"/>
<line x1="186.49" y1="800.3" x2="186.49" y2="803.3" stroke="#1e1e1e" stroke-width="1.2"/>
<line x1="194.88" y1="800.3" x2="194.88" y2="803.3" stroke="#1e1e1e" stroke-width="1.2"/>
<line x1="201.98" y1="800.3" x2="201.98" y2="803.3" stroke="#1e1e1e" stroke-width="1.2"/>
<line x1="208.13" y1="800.3" x2="208.13" y2="803.3" stroke="#1e1e1e" stroke-width="1.2"/>
<line x1="213.55" y1="800.3" x2="213.55" y2="803.3" stroke="#1e1e1e" stroke-width="1.2"/>
<line x1="250.31" y1="800.3" x2="250.31" y2="803.3" stroke="#1e1e1e" stroke-width="1.2"/>
<line x1="268.97" y1="800.3" x2="268.97" y2="803.3" stroke="#1e1e1e" stroke-width="1.2"/>
<line x1="282.22" y1="800.3" x2="282.22" y2="803.3" stroke="#1e1e1e" stroke-width="1.2"/>
<line x1="292.49" y1="800.3" x2="292.49" y2="803.3" stroke="#1e1e1e" stroke-width="1.2"/>
<line x1="300.88" y1="800.3" x2="300.88" y2="803.3" stroke="#1e1e1e" stroke-width="1.2"/>
<line x1="307.98" y1="800.3" x2="307.98" y2="803.3" stroke="#1e1e1e" stroke-width="1.2"/>
<line x1="314.13" y1="800.3" x2="314.13" y2="803.3" stroke="#1e1e1e" stroke-width="1.2"/>
<line x1="319.55" y1="800.3" x2="319.55" y2="803.3" stroke="#1e1e1e" stroke-width="1.2"/>
<line x1="457.3" y1="800.3" x2="457.3" y2="805.7" stroke="#1e1e1e" stroke-width="1.2"/>
<line x1="564.3" y1="800.3" x2="564.3" y2="805.7" stroke="#1e1e1e" stroke-width="1.2"/>
<line x1="670.7" y1="800.3" x2="670.7" y2="805.7" stroke="#1e1e1e" stroke-width="1.2"/>
<line x1="401.51" y1="800.3" x2="401.51" y2="803.3" stroke="#1e1e1e" stroke-width="1.2"/>
<line x1="414.84" y1="800.3" x2="414.84" y2="803.3" stroke="#1e1e1e" stroke-width="1.2"/>
<line x1="425.18" y1="800.3" x2="425.18" y2="803.3" stroke="#1e1e1e" stroke-width="1.2"/>
<line x1="433.63" y1="800.3" x2="433.63" y2="803.3" stroke="#1e1e1e" stroke-width="1.2"/>
<line x1="440.77" y1="800.3" x2="440.77" y2="803.3" stroke="#1e1e1e" stroke-width="1.2"/>
<line x1="446.96" y1="800.3" x2="446.96" y2="803.3" stroke="#1e1e1e" stroke-width="1.2"/>
<line x1="452.42" y1="800.3" x2="452.42" y2="803.3" stroke="#1e1e1e" stroke-width="1.2"/>
<line x1="489.42" y1="800.3" x2="489.42" y2="803.3" stroke="#1e1e1e" stroke-width="1.2"/>
<line x1="508.21" y1="800.3" x2="508.21" y2="803.3" stroke="#1e1e1e" stroke-width="1.2"/>
<line x1="521.54" y1="800.3" x2="521.54" y2="803.3" stroke="#1e1e1e" stroke-width="1.2"/>
<line x1="531.88" y1="800.3" x2="531.88" y2="803.3" stroke="#1e1e1e" stroke-width="1.2"/>
<line x1="540.33" y1="800.3" x2="540.33" y2="803.3" stroke="#1e1e1e" stroke-width="1.2"/>
<line x1="547.47" y1="800.3" x2="547.47" y2="803.3" stroke="#1e1e1e" stroke-width="1.2"/>
<line x1="553.66" y1="800.3" x2="553.66" y2="803.3" stroke="#1e1e1e" stroke-width="1.2"/>
<line x1="559.12" y1="800.3" x2="559.12" y2="803.3" stroke="#1e1e1e" stroke-width="1.2"/>
<line x1="596.12" y1="800.3" x2="596.12" y2="803.3" stroke="#1e1e1e" stroke-width="1.2"/>
<line x1="614.91" y1="800.3" x2="614.91" y2="803.3" stroke="#1e1e1e" stroke-width="1.2"/>
<line x1="628.24" y1="800.3" x2="628.24" y2="803.3" stroke="#1e1e1e" stroke-width="1.2"/>
<line x1="638.58" y1="800.3" x2="638.58" y2="803.3" stroke="#1e1e1e" stroke-width="1.2"/>
<line x1="647.03" y1="800.3" x2="647.03" y2="803.3" stroke="#1e1e1e" stroke-width="1.2"/>
<line x1="654.17" y1="800.3" x2="654.17" y2="803.3" stroke="#1e1e1e" stroke-width="1.2"/>
<line x1="660.36" y1="800.3" x2="660.36" y2="803.3" stroke="#1e1e1e" stroke-width="1.2"/>
<line x1="665.82" y1="800.3" x2="665.82" y2="803.3" stroke="#1e1e1e" stroke-width="1.2"/>
<text x="52.1" y="263.8" class="t">1</text>
<text x="62.4" y="263.8" class="t">0</text>
<text x="140" y="263.8" class="t">1</text>
<text x="150.3" y="263.8" class="t">0</text>
<text x="229" y="263.8" class="t">1</text>
<text x="239.3" y="263.8" class="t">0</text>
<text x="317.8" y="263.8" class="t">1</text>
<text x="328.1" y="263.8" class="t">0</text>
<text x="393.5" y="264.2" class="t">1</text>
<text x="403.8" y="264.2" class="t">0</text>
<text x="481.8" y="264.2" class="t">1</text>
<text x="492.1" y="264.2" class="t">0</text>
<text x="569.9" y="264.2" class="t">1</text>
<text x="580.2" y="264.2" class="t">0</text>
<text x="659.5" y="264.2" class="t">1</text>
<text x="669.8" y="264.2" class="t">0</text>
<text x="104.7" y="544.1" class="t">1</text>
<text x="115" y="544.1" class="t">0</text>
<text x="211.3" y="544.1" class="t">1</text>
<text x="221.6" y="544.1" class="t">0</text>
<text x="317.8" y="544.1" class="t">1</text>
<text x="328.1" y="544.1" class="t">0</text>
<text x="450.7" y="538.8" class="t">1</text>
<text x="461" y="538.8" class="t">0</text>
<text x="556.6" y="538.8" class="t">1</text>
<text x="566.9" y="538.8" class="t">0</text>
<text x="664.9" y="538.8" class="t">1</text>
<text x="675.2" y="538.8" class="t">0</text>
<text x="105.8" y="817.1" class="t">1</text>
<text x="116.1" y="817.1" class="t">0</text>
<text x="211" y="817.1" class="t">1</text>
<text x="221.3" y="817.1" class="t">0</text>
<text x="318.2" y="817.1" class="t">1</text>
<text x="328.5" y="817.1" class="t">0</text>
<text x="450.4" y="817.2" class="t">1</text>
<text x="460.7" y="817.2" class="t">0</text>
<text x="556.6" y="817.2" class="t">1</text>
<text x="566.9" y="817.2" class="t">0</text>
<text x="665.2" y="817.2" class="t">1</text>
<text x="675.5" y="817.2" class="t">0</text>
<text transform="translate(12.1,128.6) rotate(-90)" text-anchor="middle" class="t2">Coefficients</text>
<text transform="translate(359,128.4) rotate(-90)" text-anchor="middle" class="t2">MSE</text>
<text transform="translate(12.1,405.6) rotate(-90)" text-anchor="middle" class="t2">Coefficients</text>
<text transform="translate(359,406.7) rotate(-90)" text-anchor="middle" class="t2">MSE</text>
<text transform="translate(12.1,684.3) rotate(-90)" text-anchor="middle" class="t2">Coefficients</text>
<text transform="translate(359,696.3) rotate(-90)" text-anchor="middle" class="t2">MSE</text>
<text x="141" y="279" class="t2">Lambda (λ=0.0222)</text>
<text x="488.8" y="278.9" class="t2">Lambda (λ=0.0222)</text>
<text x="141.7" y="558.9" class="t2">Lambda (λ=0.0530)</text>
<text x="488.8" y="556.6" class="t2">Lambda (λ=0.0530)</text>
<text x="141" y="833.5" class="t2">Lambda (λ=0.0419)</text>
<text x="488.4" y="833.5" class="t2">Lambda (λ=0.0419)</text>
<text x="1.7" y="10.5" class="lt">a</text>
<text x="349.6" y="10.1" class="lt">b</text>
<text x="0.1" y="296.1" class="lt">c</text>
<text x="349" y="295.5" class="lt">d</text>
<text x="0.1" y="574.9" class="lt">e</text>
<text x="349.6" y="574.1" class="lt">f</text>
</svg>
</body></html>
